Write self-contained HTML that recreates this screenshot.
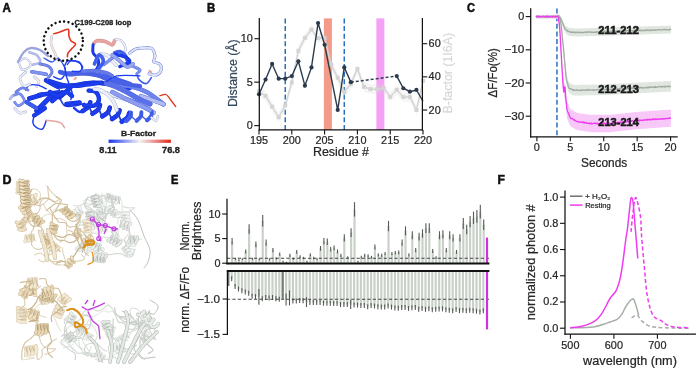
<!DOCTYPE html>
<html><head><meta charset="utf-8"><style>
html,body{margin:0;padding:0;background:#fff;}
body{width:700px;height:371px;overflow:hidden;}
svg{display:block;font-family:"Liberation Sans", sans-serif;will-change:transform;}
</style></head><body>
<svg width="700" height="371" viewBox="0 0 700 371">
<rect width="700" height="371" fill="#fff"/>
<path d="M19.6,60.9 C20.6,59.9 23.8,58.1 25.6,58.5 C27.4,58.9 30.1,61.7 30.5,63.3 C30.9,64.9 29.5,67.2 28.1,68.2 C26.7,69.2 23.4,70.0 22.0,69.4 C20.6,68.8 20.0,66.0 19.6,64.6 C19.2,63.2 18.6,61.9 19.6,60.9 Z" stroke="#a8aed0" stroke-width="2.16" fill="none" stroke-linecap="round" stroke-linejoin="round" />
<path d="M19.6,60.9 C20.6,59.9 23.8,58.1 25.6,58.5 C27.4,58.9 30.1,61.7 30.5,63.3 C30.9,64.9 29.5,67.2 28.1,68.2 C26.7,69.2 23.4,70.0 22.0,69.4 C20.6,68.8 20.0,66.0 19.6,64.6 C19.2,63.2 18.6,61.9 19.6,60.9 Z" stroke="#eceef6" stroke-width="1.36" fill="none" stroke-linecap="round" stroke-linejoin="round" />
<path d="M29.3,52.4 C30.5,52.8 34.8,53.3 36.6,54.9 C38.4,56.5 40.8,60.5 40.2,62.1 C39.6,63.7 34.1,64.2 32.9,64.6" stroke="#a8aed0" stroke-width="2.56" fill="none" stroke-linecap="round" stroke-linejoin="round" />
<path d="M29.3,52.4 C30.5,52.8 34.8,53.3 36.6,54.9 C38.4,56.5 40.8,60.5 40.2,62.1 C39.6,63.7 34.1,64.2 32.9,64.6" stroke="#b4bdf2" stroke-width="1.76" fill="none" stroke-linecap="round" stroke-linejoin="round" />
<path d="M31.7,71.8 C32.9,72.0 36.6,72.6 39.0,73.0 C41.4,73.4 45.1,74.1 46.3,74.3" stroke="#5a70d8" stroke-width="3.68" fill="none" stroke-linecap="round" stroke-linejoin="round" />
<path d="M31.7,71.8 C32.9,72.0 36.6,72.6 39.0,73.0 C41.4,73.4 45.1,74.1 46.3,74.3" stroke="#7f92ee" stroke-width="2.88" fill="none" stroke-linecap="round" stroke-linejoin="round" />
<path d="M34.1,76.7 C34.9,77.5 38.6,80.0 39.0,81.6 C39.4,83.2 37.0,85.6 36.6,86.4" stroke="#a8aed0" stroke-width="2.72" fill="none" stroke-linecap="round" stroke-linejoin="round" />
<path d="M34.1,76.7 C34.9,77.5 38.6,80.0 39.0,81.6 C39.4,83.2 37.0,85.6 36.6,86.4" stroke="#eceef6" stroke-width="1.92" fill="none" stroke-linecap="round" stroke-linejoin="round" />
<path d="M12.3,96.1 C13.5,95.7 17.6,92.9 19.6,93.7 C21.6,94.5 24.6,99.0 24.4,101.0 C24.2,103.0 19.9,105.6 18.3,105.8 C16.7,106.0 15.3,102.8 14.7,102.2" stroke="#5a70d8" stroke-width="2.72" fill="none" stroke-linecap="round" stroke-linejoin="round" />
<path d="M12.3,96.1 C13.5,95.7 17.6,92.9 19.6,93.7 C21.6,94.5 24.6,99.0 24.4,101.0 C24.2,103.0 19.9,105.6 18.3,105.8 C16.7,106.0 15.3,102.8 14.7,102.2" stroke="#7f92ee" stroke-width="1.92" fill="none" stroke-linecap="round" stroke-linejoin="round" />
<path d="M14.7,108.3 C15.5,109.1 17.8,112.5 19.6,113.1 C21.4,113.7 24.6,112.1 25.6,111.9" stroke="#a8aed0" stroke-width="2.72" fill="none" stroke-linecap="round" stroke-linejoin="round" />
<path d="M14.7,108.3 C15.5,109.1 17.8,112.5 19.6,113.1 C21.4,113.7 24.6,112.1 25.6,111.9" stroke="#eceef6" stroke-width="1.92" fill="none" stroke-linecap="round" stroke-linejoin="round" />
<path d="M10.0,99.0 C10.4,98.5 11.9,96.6 12.3,96.1" stroke="#a8aed0" stroke-width="2.72" fill="none" stroke-linecap="round" stroke-linejoin="round" />
<path d="M10.0,99.0 C10.4,98.5 11.9,96.6 12.3,96.1" stroke="#b4bdf2" stroke-width="1.92" fill="none" stroke-linecap="round" stroke-linejoin="round" />
<path d="M25.6,90.0 C26.2,89.2 27.3,86.0 29.3,85.2 C31.3,84.4 35.0,84.6 37.8,85.2 C40.6,85.8 44.9,88.2 46.3,88.8" stroke="#1c3cf0" stroke-width="1.36" fill="none" stroke-linecap="round" stroke-linejoin="round" />
<path d="M63.3,64.6 C63.7,65.8 66.1,69.4 65.7,71.8 C65.3,74.2 62.8,78.3 60.8,79.1 C58.8,79.9 54.7,77.1 53.5,76.7" stroke="#1c3cf0" stroke-width="1.36" fill="none" stroke-linecap="round" stroke-linejoin="round" />
<path d="M44.0,58.0 C45.3,58.7 49.7,62.0 52.0,62.0 C54.3,62.0 56.1,57.6 58.0,58.0 C59.9,58.4 62.4,63.5 63.3,64.6" stroke="#3f5ef0" stroke-width="1.36" fill="none" stroke-linecap="round" stroke-linejoin="round" />
<path d="M46.3,80.3 C48.1,81.3 55.4,85.4 57.2,86.4" stroke="#1430c0" stroke-width="4.86" fill="none" stroke-linecap="round" stroke-linejoin="round" />
<path d="M46.3,80.3 C48.1,81.3 55.4,85.4 57.2,86.4" stroke="#1c3cf0" stroke-width="4.16" fill="none" stroke-linecap="round" stroke-linejoin="round" />
<path d="M29.3,98.5 C31.3,97.9 39.4,95.5 41.4,94.9" stroke="#1430c0" stroke-width="4.70" fill="none" stroke-linecap="round" stroke-linejoin="round" />
<path d="M29.3,98.5 C31.3,97.9 39.4,95.5 41.4,94.9" stroke="#1c3cf0" stroke-width="4.00" fill="none" stroke-linecap="round" stroke-linejoin="round" />
<path d="M39.0,94.9 C42.2,94.5 55.2,92.9 58.4,92.5" stroke="#1430c0" stroke-width="4.54" fill="none" stroke-linecap="round" stroke-linejoin="round" />
<path d="M39.0,94.9 C42.2,94.5 55.2,92.9 58.4,92.5" stroke="#1c3cf0" stroke-width="3.84" fill="none" stroke-linecap="round" stroke-linejoin="round" />
<path d="M36.6,110.7 C39.4,107.9 50.7,96.5 53.5,93.7" stroke="#1430c0" stroke-width="4.86" fill="none" stroke-linecap="round" stroke-linejoin="round" />
<path d="M36.6,110.7 C39.4,107.9 50.7,96.5 53.5,93.7" stroke="#1c3cf0" stroke-width="4.16" fill="none" stroke-linecap="round" stroke-linejoin="round" />
<path d="M52.3,101.0 C53.9,99.6 60.4,93.9 62.0,92.5" stroke="#1430c0" stroke-width="4.54" fill="none" stroke-linecap="round" stroke-linejoin="round" />
<path d="M52.3,101.0 C53.9,99.6 60.4,93.9 62.0,92.5" stroke="#1c3cf0" stroke-width="3.84" fill="none" stroke-linecap="round" stroke-linejoin="round" />
<path d="M59.6,97.3 C61.4,95.7 68.7,89.2 70.5,87.6" stroke="#1430c0" stroke-width="4.54" fill="none" stroke-linecap="round" stroke-linejoin="round" />
<path d="M59.6,97.3 C61.4,95.7 68.7,89.2 70.5,87.6" stroke="#1c3cf0" stroke-width="3.84" fill="none" stroke-linecap="round" stroke-linejoin="round" />
<path d="M26.8,102.2 C28.4,103.2 35.0,107.3 36.6,108.3" stroke="#1430c0" stroke-width="4.22" fill="none" stroke-linecap="round" stroke-linejoin="round" />
<path d="M26.8,102.2 C28.4,103.2 35.0,107.3 36.6,108.3" stroke="#3f5ef0" stroke-width="3.52" fill="none" stroke-linecap="round" stroke-linejoin="round" />
<path d="M34.1,115.5 C35.9,114.3 43.2,109.5 45.0,108.3" stroke="#1430c0" stroke-width="4.22" fill="none" stroke-linecap="round" stroke-linejoin="round" />
<path d="M34.1,115.5 C35.9,114.3 43.2,109.5 45.0,108.3" stroke="#1c3cf0" stroke-width="3.52" fill="none" stroke-linecap="round" stroke-linejoin="round" />
<path d="M57.2,86.4 C57.7,87.3 60.2,90.1 60.0,92.0 C59.8,93.9 56.7,97.0 56.0,98.0" stroke="#1c3cf0" stroke-width="1.44" fill="none" stroke-linecap="round" stroke-linejoin="round" />
<path d="M34.1,115.5 C33.9,116.7 32.5,120.8 32.9,122.8 C33.3,124.8 35.0,126.7 36.6,127.7 C38.2,128.7 41.0,130.1 42.6,128.9 C44.2,127.7 45.7,121.8 46.3,120.4" stroke="#1c3cf0" stroke-width="1.44" fill="none" stroke-linecap="round" stroke-linejoin="round" />
<path d="M46.3,120.4 C47.4,120.5 50.6,120.6 53.0,121.0 C55.4,121.4 58.9,121.7 60.8,122.8 C62.7,123.9 63.9,126.9 64.5,127.7" stroke="#e8a4a0" stroke-width="1.44" fill="none" stroke-linecap="round" stroke-linejoin="round" />
<path d="M60.0,72.0 C61.6,72.4 65.7,74.1 69.7,74.3 C73.8,74.5 79.0,72.9 84.3,73.1 C89.6,73.3 96.0,74.5 101.3,75.5 C106.5,76.5 111.0,77.7 115.8,79.1 C120.6,80.5 127.6,83.2 130.0,84.0" stroke="#5a70d8" stroke-width="4.48" fill="none" stroke-linecap="round" stroke-linejoin="round" />
<path d="M60.0,72.0 C61.6,72.4 65.7,74.1 69.7,74.3 C73.8,74.5 79.0,72.9 84.3,73.1 C89.6,73.3 96.0,74.5 101.3,75.5 C106.5,76.5 111.0,77.7 115.8,79.1 C120.6,80.5 127.6,83.2 130.0,84.0" stroke="#3f5ef0" stroke-width="3.68" fill="none" stroke-linecap="round" stroke-linejoin="round" />
<path d="M60.0,86.4 C62.4,86.2 69.3,85.8 74.6,85.2 C79.9,84.6 85.9,83.0 91.6,82.8 C97.2,82.6 102.2,83.1 108.5,84.0 C114.8,84.9 126.1,87.3 129.6,88.0" stroke="#1430c0" stroke-width="4.64" fill="none" stroke-linecap="round" stroke-linejoin="round" />
<path d="M60.0,86.4 C62.4,86.2 69.3,85.8 74.6,85.2 C79.9,84.6 85.9,83.0 91.6,82.8 C97.2,82.6 102.2,83.1 108.5,84.0 C114.8,84.9 126.1,87.3 129.6,88.0" stroke="#1c3cf0" stroke-width="3.84" fill="none" stroke-linecap="round" stroke-linejoin="round" />
<path d="M115.0,84.8 C117.4,85.0 124.3,84.8 129.6,86.0 C134.9,87.2 140.9,89.0 146.6,92.0 C152.2,95.0 160.7,102.2 163.5,104.2" stroke="#5a70d8" stroke-width="4.80" fill="none" stroke-linecap="round" stroke-linejoin="round" />
<path d="M115.0,84.8 C117.4,85.0 124.3,84.8 129.6,86.0 C134.9,87.2 140.9,89.0 146.6,92.0 C152.2,95.0 160.7,102.2 163.5,104.2" stroke="#6f84ee" stroke-width="4.00" fill="none" stroke-linecap="round" stroke-linejoin="round" />
<path d="M141.0,96.0 C144.8,97.4 159.8,102.8 163.5,104.2" stroke="#5a70d8" stroke-width="4.16" fill="none" stroke-linecap="round" stroke-linejoin="round" />
<path d="M141.0,96.0 C144.8,97.4 159.8,102.8 163.5,104.2" stroke="#b4bdf2" stroke-width="3.36" fill="none" stroke-linecap="round" stroke-linejoin="round" />
<path d="M115.0,95.7 C117.0,96.3 122.6,97.7 127.1,99.3 C131.5,100.9 137.2,103.2 141.7,105.4 C146.1,107.6 151.8,111.5 153.8,112.7" stroke="#5a70d8" stroke-width="4.48" fill="none" stroke-linecap="round" stroke-linejoin="round" />
<path d="M115.0,95.7 C117.0,96.3 122.6,97.7 127.1,99.3 C131.5,100.9 137.2,103.2 141.7,105.4 C146.1,107.6 151.8,111.5 153.8,112.7" stroke="#3f5ef0" stroke-width="3.68" fill="none" stroke-linecap="round" stroke-linejoin="round" />
<path d="M140.0,104.5 C142.3,105.9 151.5,111.3 153.8,112.7" stroke="#a8aed0" stroke-width="4.00" fill="none" stroke-linecap="round" stroke-linejoin="round" />
<path d="M140.0,104.5 C142.3,105.9 151.5,111.3 153.8,112.7" stroke="#b4bdf2" stroke-width="3.20" fill="none" stroke-linecap="round" stroke-linejoin="round" />
<path d="M101.3,91.3 C103.7,92.1 111.0,94.5 115.8,96.1 C120.6,97.7 127.6,100.2 130.0,101.0" stroke="#a8aed0" stroke-width="3.68" fill="none" stroke-linecap="round" stroke-linejoin="round" />
<path d="M101.3,91.3 C103.7,92.1 111.0,94.5 115.8,96.1 C120.6,97.7 127.6,100.2 130.0,101.0" stroke="#eceef6" stroke-width="2.88" fill="none" stroke-linecap="round" stroke-linejoin="round" />
<path d="M67.3,64.6 C67.9,64.0 68.9,61.3 70.9,60.9 C72.9,60.5 77.6,60.7 79.4,62.1 C81.2,63.5 82.2,67.6 81.8,69.4 C81.4,71.2 77.8,72.5 77.0,73.1" stroke="#1c3cf0" stroke-width="1.36" fill="none" stroke-linecap="round" stroke-linejoin="round" />
<path d="M60.0,98.5 C60.8,99.7 62.5,104.6 64.9,105.8 C67.3,107.0 71.4,106.2 74.6,105.8 C77.8,105.4 82.7,103.8 84.3,103.4" stroke="#1c3cf0" stroke-width="1.60" fill="none" stroke-linecap="round" stroke-linejoin="round" />
<path d="M74.6,79.0 C74.8,78.8 75.8,78.2 76.0,78.0" stroke="#e8a4a0" stroke-width="1.92" fill="none" stroke-linecap="round" stroke-linejoin="round" />
<path d="M82.6,111.0 C83.6,110.4 86.9,108.6 88.2,107.1 C89.4,105.7 89.9,103.1 90.3,102.3" stroke="#1430c0" stroke-width="4.64" fill="none" stroke-linecap="round" stroke-linejoin="round" />
<path d="M82.6,111.0 C83.6,110.4 86.9,108.6 88.2,107.1 C89.4,105.7 89.9,103.1 90.3,102.3" stroke="#1c3cf0" stroke-width="3.84" fill="none" stroke-linecap="round" stroke-linejoin="round" />
<path d="M90.3,102.3 C90.2,103.2 89.3,105.6 89.6,107.5 C90.0,109.4 91.9,112.7 92.4,113.7" stroke="#2a40c8" stroke-width="1.73" fill="none" stroke-linecap="round" stroke-linejoin="round" />
<path d="M92.4,113.7 C93.3,113.0 96.7,111.3 97.9,109.8 C99.2,108.3 99.7,105.8 100.0,105.0" stroke="#1430c0" stroke-width="4.64" fill="none" stroke-linecap="round" stroke-linejoin="round" />
<path d="M92.4,113.7 C93.3,113.0 96.7,111.3 97.9,109.8 C99.2,108.3 99.7,105.8 100.0,105.0" stroke="#1c3cf0" stroke-width="3.84" fill="none" stroke-linecap="round" stroke-linejoin="round" />
<path d="M100.0,105.0 C99.9,105.9 99.0,108.3 99.4,110.2 C99.8,112.1 101.7,115.3 102.2,116.4" stroke="#2a40c8" stroke-width="1.73" fill="none" stroke-linecap="round" stroke-linejoin="round" />
<path d="M102.2,116.4 C103.1,115.7 106.4,113.9 107.7,112.5 C109.0,111.0 109.5,108.5 109.8,107.6" stroke="#1430c0" stroke-width="4.64" fill="none" stroke-linecap="round" stroke-linejoin="round" />
<path d="M102.2,116.4 C103.1,115.7 106.4,113.9 107.7,112.5 C109.0,111.0 109.5,108.5 109.8,107.6" stroke="#1c3cf0" stroke-width="3.84" fill="none" stroke-linecap="round" stroke-linejoin="round" />
<path d="M109.8,107.6 C109.7,108.5 108.8,111.0 109.2,112.9 C109.5,114.8 111.5,118.0 112.0,119.0" stroke="#2a40c8" stroke-width="1.73" fill="none" stroke-linecap="round" stroke-linejoin="round" />
<path d="M112.0,119.0 C112.9,118.4 116.2,116.6 117.5,115.1 C118.8,113.7 119.2,111.1 119.6,110.3" stroke="#1430c0" stroke-width="4.64" fill="none" stroke-linecap="round" stroke-linejoin="round" />
<path d="M112.0,119.0 C112.9,118.4 116.2,116.6 117.5,115.1 C118.8,113.7 119.2,111.1 119.6,110.3" stroke="#1c3cf0" stroke-width="3.84" fill="none" stroke-linecap="round" stroke-linejoin="round" />
<path d="M119.6,110.3 C119.5,111.2 118.6,113.6 119.0,115.5 C119.3,117.4 121.3,120.7 121.7,121.7" stroke="#2a40c8" stroke-width="1.73" fill="none" stroke-linecap="round" stroke-linejoin="round" />
<path d="M121.7,121.7 C122.7,121.0 126.0,119.3 127.3,117.8 C128.5,116.3 129.0,113.8 129.4,113.0" stroke="#1430c0" stroke-width="4.64" fill="none" stroke-linecap="round" stroke-linejoin="round" />
<path d="M121.7,121.7 C122.7,121.0 126.0,119.3 127.3,117.8 C128.5,116.3 129.0,113.8 129.4,113.0" stroke="#1c3cf0" stroke-width="3.84" fill="none" stroke-linecap="round" stroke-linejoin="round" />
<path d="M126.2,121.2 C126.9,120.5 129.6,118.3 130.4,116.8 C131.2,115.4 130.9,113.3 131.0,112.6" stroke="#5a70d8" stroke-width="4.00" fill="none" stroke-linecap="round" stroke-linejoin="round" />
<path d="M126.2,121.2 C126.9,120.5 129.6,118.3 130.4,116.8 C131.2,115.4 130.9,113.3 131.0,112.6" stroke="#3f5ef0" stroke-width="3.20" fill="none" stroke-linecap="round" stroke-linejoin="round" />
<path d="M131.0,112.6 C131.2,113.3 131.1,115.4 132.0,116.8 C132.9,118.1 135.8,120.1 136.6,120.8" stroke="#4058d0" stroke-width="1.44" fill="none" stroke-linecap="round" stroke-linejoin="round" />
<path d="M136.6,120.8 C137.3,120.1 140.0,117.9 140.8,116.4 C141.6,115.0 141.3,112.9 141.4,112.2" stroke="#5a70d8" stroke-width="4.00" fill="none" stroke-linecap="round" stroke-linejoin="round" />
<path d="M136.6,120.8 C137.3,120.1 140.0,117.9 140.8,116.4 C141.6,115.0 141.3,112.9 141.4,112.2" stroke="#3f5ef0" stroke-width="3.20" fill="none" stroke-linecap="round" stroke-linejoin="round" />
<path d="M141.4,112.2 C141.6,112.9 141.5,115.0 142.4,116.4 C143.3,117.7 146.2,119.7 147.0,120.4" stroke="#4058d0" stroke-width="1.44" fill="none" stroke-linecap="round" stroke-linejoin="round" />
<path d="M147.0,120.4 C147.7,119.7 150.4,117.5 151.2,116.0 C152.0,114.6 151.7,112.5 151.8,111.8" stroke="#5a70d8" stroke-width="4.00" fill="none" stroke-linecap="round" stroke-linejoin="round" />
<path d="M147.0,120.4 C147.7,119.7 150.4,117.5 151.2,116.0 C152.0,114.6 151.7,112.5 151.8,111.8" stroke="#3f5ef0" stroke-width="3.20" fill="none" stroke-linecap="round" stroke-linejoin="round" />
<path d="M151.4,117.5 C152.2,118.1 154.9,121.2 156.0,121.0 C157.1,120.8 157.7,116.8 158.0,116.0" stroke="#a8aed0" stroke-width="2.40" fill="none" stroke-linecap="round" stroke-linejoin="round" />
<path d="M151.4,117.5 C152.2,118.1 154.9,121.2 156.0,121.0 C157.1,120.8 157.7,116.8 158.0,116.0" stroke="#eceef6" stroke-width="1.60" fill="none" stroke-linecap="round" stroke-linejoin="round" />
<path d="M74.0,108.0 C75.0,108.7 77.7,112.0 80.0,112.0 C82.3,112.0 86.7,108.7 88.0,108.0" stroke="#1c3cf0" stroke-width="2.40" fill="none" stroke-linecap="round" stroke-linejoin="round" />
<path d="M93.8,43.5 C94.3,43.0 95.2,41.1 97.1,40.8 C99.0,40.5 102.7,40.8 105.2,41.5 C107.7,42.2 110.4,44.9 112.0,44.8 C113.6,44.7 114.2,41.5 114.6,40.8" stroke="#c89090" stroke-width="3.68" fill="none" stroke-linecap="round" stroke-linejoin="round" />
<path d="M93.8,43.5 C94.3,43.0 95.2,41.1 97.1,40.8 C99.0,40.5 102.7,40.8 105.2,41.5 C107.7,42.2 110.4,44.9 112.0,44.8 C113.6,44.7 114.2,41.5 114.6,40.8" stroke="#e8a4a0" stroke-width="2.88" fill="none" stroke-linecap="round" stroke-linejoin="round" />
<path d="M116.0,39.4 C116.9,39.6 119.8,39.4 121.4,40.8 C123.0,42.1 125.0,45.2 125.4,47.5 C125.9,49.8 124.3,53.2 124.1,54.3" stroke="#a8aed0" stroke-width="2.56" fill="none" stroke-linecap="round" stroke-linejoin="round" />
<path d="M116.0,39.4 C116.9,39.6 119.8,39.4 121.4,40.8 C123.0,42.1 125.0,45.2 125.4,47.5 C125.9,49.8 124.3,53.2 124.1,54.3" stroke="#eceef6" stroke-width="1.76" fill="none" stroke-linecap="round" stroke-linejoin="round" />
<path d="M93.1,44.8 C93.1,46.1 92.3,50.6 93.1,52.9 C93.9,55.1 96.9,56.3 97.8,58.3 C98.7,60.3 98.8,63.0 98.5,65.0 C98.2,67.0 96.2,69.5 95.8,70.4" stroke="#1430c0" stroke-width="2.88" fill="none" stroke-linecap="round" stroke-linejoin="round" />
<path d="M93.1,44.8 C93.1,46.1 92.3,50.6 93.1,52.9 C93.9,55.1 96.9,56.3 97.8,58.3 C98.7,60.3 98.8,63.0 98.5,65.0 C98.2,67.0 96.2,69.5 95.8,70.4" stroke="#1c3cf0" stroke-width="2.08" fill="none" stroke-linecap="round" stroke-linejoin="round" />
<path d="M99.8,54.3 C100.9,54.4 104.6,53.8 106.6,54.9 C108.6,56.0 110.4,59.3 112.0,61.0 C113.6,62.7 115.3,64.3 116.0,65.0" stroke="#a8aed0" stroke-width="3.52" fill="none" stroke-linecap="round" stroke-linejoin="round" />
<path d="M99.8,54.3 C100.9,54.4 104.6,53.8 106.6,54.9 C108.6,56.0 110.4,59.3 112.0,61.0 C113.6,62.7 115.3,64.3 116.0,65.0" stroke="#eceef6" stroke-width="2.72" fill="none" stroke-linecap="round" stroke-linejoin="round" />
<path d="M114.6,52.9 C115.5,52.7 118.2,51.1 120.0,51.6 C121.8,52.1 124.1,53.8 125.4,55.6 C126.8,57.4 127.0,60.7 128.1,62.3 C129.2,63.9 131.5,64.5 132.2,65.0" stroke="#5a70d8" stroke-width="3.68" fill="none" stroke-linecap="round" stroke-linejoin="round" />
<path d="M114.6,52.9 C115.5,52.7 118.2,51.1 120.0,51.6 C121.8,52.1 124.1,53.8 125.4,55.6 C126.8,57.4 127.0,60.7 128.1,62.3 C129.2,63.9 131.5,64.5 132.2,65.0" stroke="#3f5ef0" stroke-width="2.88" fill="none" stroke-linecap="round" stroke-linejoin="round" />
<path d="M115.0,54.4 C116.6,54.8 122.3,55.6 124.7,56.8 C127.1,58.0 130.4,60.1 129.6,61.7 C128.8,63.3 121.5,65.7 119.9,66.5" stroke="#1430c0" stroke-width="3.36" fill="none" stroke-linecap="round" stroke-linejoin="round" />
<path d="M115.0,54.4 C116.6,54.8 122.3,55.6 124.7,56.8 C127.1,58.0 130.4,60.1 129.6,61.7 C128.8,63.3 121.5,65.7 119.9,66.5" stroke="#1c3cf0" stroke-width="2.56" fill="none" stroke-linecap="round" stroke-linejoin="round" />
<path d="M103.7,64.6 C105.3,63.4 111.8,58.5 113.4,57.3" stroke="#5a70d8" stroke-width="3.20" fill="none" stroke-linecap="round" stroke-linejoin="round" />
<path d="M103.7,64.6 C105.3,63.4 111.8,58.5 113.4,57.3" stroke="#7f92ee" stroke-width="2.40" fill="none" stroke-linecap="round" stroke-linejoin="round" />
<path d="M129.6,53.2 C130.4,52.6 132.8,50.4 134.4,49.6 C136.0,48.8 136.5,48.5 139.3,48.3 C142.1,48.1 148.8,47.1 151.4,48.3 C154.0,49.5 154.6,53.4 155.0,55.6 C155.4,57.8 153.0,60.3 153.8,61.7 C154.6,63.1 158.7,62.7 159.9,64.1 C161.1,65.5 161.7,68.4 161.1,70.2 C160.5,72.0 158.3,74.4 156.3,75.0 C154.3,75.6 150.2,74.0 149.0,73.8" stroke="#5a70d8" stroke-width="2.88" fill="none" stroke-linecap="round" stroke-linejoin="round" />
<path d="M129.6,53.2 C130.4,52.6 132.8,50.4 134.4,49.6 C136.0,48.8 136.5,48.5 139.3,48.3 C142.1,48.1 148.8,47.1 151.4,48.3 C154.0,49.5 154.6,53.4 155.0,55.6 C155.4,57.8 153.0,60.3 153.8,61.7 C154.6,63.1 158.7,62.7 159.9,64.1 C161.1,65.5 161.7,68.4 161.1,70.2 C160.5,72.0 158.3,74.4 156.3,75.0 C154.3,75.6 150.2,74.0 149.0,73.8" stroke="#dfe3f6" stroke-width="2.08" fill="none" stroke-linecap="round" stroke-linejoin="round" />
<path d="M136.8,73.8 C137.2,74.8 137.7,78.3 139.3,79.9 C140.9,81.5 144.6,83.9 146.6,83.5 C148.6,83.1 150.6,78.5 151.4,77.5" stroke="#3f5ef0" stroke-width="1.60" fill="none" stroke-linecap="round" stroke-linejoin="round" />
<path d="M149.5,71.0 C149.8,71.2 150.8,71.8 151.0,72.0" stroke="#e8a4a0" stroke-width="2.24" fill="none" stroke-linecap="round" stroke-linejoin="round" />
<path d="M159.9,95.7 C160.9,95.5 164.3,94.0 166.0,94.5 C167.7,95.0 168.4,97.0 170.0,99.0 C171.6,101.0 174.8,105.3 175.7,106.6" stroke="#e5321e" stroke-width="1.28" fill="none" stroke-linecap="round" stroke-linejoin="round" />
<path d="M132.0,66.0 C133.3,66.7 139.2,68.7 140.0,70.0 C140.8,71.3 137.3,73.2 136.8,73.8" stroke="#5a70d8" stroke-width="2.88" fill="none" stroke-linecap="round" stroke-linejoin="round" />
<path d="M132.0,66.0 C133.3,66.7 139.2,68.7 140.0,70.0 C140.8,71.3 137.3,73.2 136.8,73.8" stroke="#7f92ee" stroke-width="2.08" fill="none" stroke-linecap="round" stroke-linejoin="round" />
<path d="M67.8,73.5 C71.0,73.5 81.9,73.1 87.1,73.5 C92.3,73.9 95.3,74.7 99.0,75.8 C102.7,76.9 105.0,78.8 109.3,80.2 C113.6,81.6 119.9,83.0 125.0,84.0 C130.1,85.0 137.5,85.8 140.0,86.2" stroke="#5a70d8" stroke-width="4.32" fill="none" stroke-linecap="round" stroke-linejoin="round" />
<path d="M67.8,73.5 C71.0,73.5 81.9,73.1 87.1,73.5 C92.3,73.9 95.3,74.7 99.0,75.8 C102.7,76.9 105.0,78.8 109.3,80.2 C113.6,81.6 119.9,83.0 125.0,84.0 C130.1,85.0 137.5,85.8 140.0,86.2" stroke="#4a60e6" stroke-width="3.52" fill="none" stroke-linecap="round" stroke-linejoin="round" />
<path d="M50.0,81.0 C52.0,81.6 57.9,83.8 61.9,84.7 C65.8,85.6 69.5,86.2 73.7,86.2 C77.9,86.2 82.4,85.3 87.1,84.7 C91.8,84.1 99.4,82.8 101.9,82.4" stroke="#1430c0" stroke-width="3.84" fill="none" stroke-linecap="round" stroke-linejoin="round" />
<path d="M50.0,81.0 C52.0,81.6 57.9,83.8 61.9,84.7 C65.8,85.6 69.5,86.2 73.7,86.2 C77.9,86.2 82.4,85.3 87.1,84.7 C91.8,84.1 99.4,82.8 101.9,82.4" stroke="#1c3cf0" stroke-width="3.04" fill="none" stroke-linecap="round" stroke-linejoin="round" />
<path d="M106.4,83.2 C108.9,84.2 115.6,86.4 121.2,89.1 C126.8,91.8 135.2,97.0 140.0,99.5 C144.8,102.0 148.3,103.2 150.0,104.0" stroke="#5a70d8" stroke-width="5.28" fill="none" stroke-linecap="round" stroke-linejoin="round" />
<path d="M106.4,83.2 C108.9,84.2 115.6,86.4 121.2,89.1 C126.8,91.8 135.2,97.0 140.0,99.5 C144.8,102.0 148.3,103.2 150.0,104.0" stroke="#5a70ea" stroke-width="4.48" fill="none" stroke-linecap="round" stroke-linejoin="round" />
<path d="M112.3,92.1 C114.8,93.3 122.6,97.3 127.2,99.5 C131.8,101.7 136.2,103.7 140.0,105.4 C143.8,107.2 148.3,109.2 150.0,110.0" stroke="#5a70d8" stroke-width="4.48" fill="none" stroke-linecap="round" stroke-linejoin="round" />
<path d="M112.3,92.1 C114.8,93.3 122.6,97.3 127.2,99.5 C131.8,101.7 136.2,103.7 140.0,105.4 C143.8,107.2 148.3,109.2 150.0,110.0" stroke="#8d9cf0" stroke-width="3.68" fill="none" stroke-linecap="round" stroke-linejoin="round" />
<path d="M64.8,65.4 C65.3,64.7 65.8,61.5 67.8,60.9 C69.8,60.3 74.2,60.7 76.7,61.7 C79.2,62.7 82.1,65.3 82.6,66.9 C83.1,68.5 81.4,70.6 79.7,71.3 C78.0,72.0 73.5,71.3 72.3,71.3" stroke="#1c3cf0" stroke-width="1.44" fill="none" stroke-linecap="round" stroke-linejoin="round" />
<path d="M64.8,66.9 C65.0,68.4 65.5,72.8 66.3,75.8 C67.0,78.8 68.3,81.7 69.3,84.7 C70.3,87.7 72.0,91.1 72.3,93.6 C72.5,96.1 71.0,98.5 70.8,99.5" stroke="#1c3cf0" stroke-width="1.44" fill="none" stroke-linecap="round" stroke-linejoin="round" />
<path d="M88.6,90.6 C89.8,90.8 94.3,90.6 96.0,92.1 C97.7,93.6 99.2,97.3 99.0,99.5 C98.8,101.7 97.0,104.4 94.5,105.4 C92.0,106.4 85.8,105.4 84.1,105.4" stroke="#1430c0" stroke-width="4.32" fill="none" stroke-linecap="round" stroke-linejoin="round" />
<path d="M88.6,90.6 C89.8,90.8 94.3,90.6 96.0,92.1 C97.7,93.6 99.2,97.3 99.0,99.5 C98.8,101.7 97.0,104.4 94.5,105.4 C92.0,106.4 85.8,105.4 84.1,105.4" stroke="#1c3cf0" stroke-width="3.52" fill="none" stroke-linecap="round" stroke-linejoin="round" />
<path d="M66.3,104.0 C68.5,103.8 77.5,102.8 79.7,102.5" stroke="#1430c0" stroke-width="4.32" fill="none" stroke-linecap="round" stroke-linejoin="round" />
<path d="M66.3,104.0 C68.5,103.8 77.5,102.8 79.7,102.5" stroke="#1c3cf0" stroke-width="3.52" fill="none" stroke-linecap="round" stroke-linejoin="round" />
<path d="M94.5,63.9 C95.2,62.4 97.5,55.5 99.0,55.0 C100.5,54.5 103.4,58.7 103.4,60.9 C103.4,63.1 99.7,67.2 99.0,68.4" stroke="#5a70d8" stroke-width="3.68" fill="none" stroke-linecap="round" stroke-linejoin="round" />
<path d="M94.5,63.9 C95.2,62.4 97.5,55.5 99.0,55.0 C100.5,54.5 103.4,58.7 103.4,60.9 C103.4,63.1 99.7,67.2 99.0,68.4" stroke="#3f5ef0" stroke-width="2.88" fill="none" stroke-linecap="round" stroke-linejoin="round" />
<path d="M112.3,55.0 C113.5,56.0 117.2,58.9 119.7,60.9 C122.2,62.9 125.0,66.4 127.2,66.9 C129.4,67.4 132.1,64.4 133.1,63.9" stroke="#5a70d8" stroke-width="3.84" fill="none" stroke-linecap="round" stroke-linejoin="round" />
<path d="M112.3,55.0 C113.5,56.0 117.2,58.9 119.7,60.9 C122.2,62.9 125.0,66.4 127.2,66.9 C129.4,67.4 132.1,64.4 133.1,63.9" stroke="#9aa8f0" stroke-width="3.04" fill="none" stroke-linecap="round" stroke-linejoin="round" />
<path d="M94.5,89.1 C95.7,89.3 98.9,88.9 101.9,90.6 C104.9,92.3 109.8,96.3 112.3,99.5 C114.8,102.7 116.0,108.2 116.8,109.9" stroke="#a8aed0" stroke-width="3.84" fill="none" stroke-linecap="round" stroke-linejoin="round" />
<path d="M94.5,89.1 C95.7,89.3 98.9,88.9 101.9,90.6 C104.9,92.3 109.8,96.3 112.3,99.5 C114.8,102.7 116.0,108.2 116.8,109.9" stroke="#eceef6" stroke-width="3.04" fill="none" stroke-linecap="round" stroke-linejoin="round" />
<path d="M106.4,81.7 C108.1,80.7 111.2,76.8 116.8,75.8 C122.4,74.8 136.1,75.8 140.0,75.8" stroke="#1c3cf0" stroke-width="1.28" fill="none" stroke-linecap="round" stroke-linejoin="round" />
<path d="M82.6,71.3 C84.6,71.2 90.5,70.3 94.5,70.6 C98.5,70.8 103.4,71.9 106.4,72.8 C109.4,73.7 111.3,75.3 112.3,75.8" stroke="#5a70d8" stroke-width="3.52" fill="none" stroke-linecap="round" stroke-linejoin="round" />
<path d="M82.6,71.3 C84.6,71.2 90.5,70.3 94.5,70.6 C98.5,70.8 103.4,71.9 106.4,72.8 C109.4,73.7 111.3,75.3 112.3,75.8" stroke="#6478ea" stroke-width="2.72" fill="none" stroke-linecap="round" stroke-linejoin="round" />
<path d="M50.0,92.0 C51.3,92.7 55.3,96.0 58.0,96.0 C60.7,96.0 63.7,92.0 66.0,92.0 C68.3,92.0 71.0,95.3 72.0,96.0" stroke="#1430c0" stroke-width="4.48" fill="none" stroke-linecap="round" stroke-linejoin="round" />
<path d="M50.0,92.0 C51.3,92.7 55.3,96.0 58.0,96.0 C60.7,96.0 63.7,92.0 66.0,92.0 C68.3,92.0 71.0,95.3 72.0,96.0" stroke="#1c3cf0" stroke-width="3.68" fill="none" stroke-linecap="round" stroke-linejoin="round" />
<path d="M18.0,62.0 C19.0,60.3 21.8,54.3 24.0,52.0 C26.2,49.7 28.3,48.3 31.0,48.0 C33.7,47.7 37.2,48.7 40.0,50.0 C42.8,51.3 46.7,55.0 48.0,56.0" stroke="#a8aed0" stroke-width="2.40" fill="none" stroke-linecap="round" stroke-linejoin="round" />
<path d="M18.0,62.0 C19.0,60.3 21.8,54.3 24.0,52.0 C26.2,49.7 28.3,48.3 31.0,48.0 C33.7,47.7 37.2,48.7 40.0,50.0 C42.8,51.3 46.7,55.0 48.0,56.0" stroke="#9aa4e8" stroke-width="1.60" fill="none" stroke-linecap="round" stroke-linejoin="round" />
<path d="M26.0,72.0 C25.0,73.0 20.3,75.7 20.0,78.0 C19.7,80.3 22.3,85.0 24.0,86.0 C25.7,87.0 29.0,84.3 30.0,84.0" stroke="#a8aed0" stroke-width="2.56" fill="none" stroke-linecap="round" stroke-linejoin="round" />
<path d="M26.0,72.0 C25.0,73.0 20.3,75.7 20.0,78.0 C19.7,80.3 22.3,85.0 24.0,86.0 C25.7,87.0 29.0,84.3 30.0,84.0" stroke="#eceef6" stroke-width="1.76" fill="none" stroke-linecap="round" stroke-linejoin="round" />
<path d="M40.0,64.0 C41.3,64.3 46.0,64.7 48.0,66.0 C50.0,67.3 52.0,70.0 52.0,72.0 C52.0,74.0 48.7,77.0 48.0,78.0" stroke="#5a70d8" stroke-width="2.88" fill="none" stroke-linecap="round" stroke-linejoin="round" />
<path d="M40.0,64.0 C41.3,64.3 46.0,64.7 48.0,66.0 C50.0,67.3 52.0,70.0 52.0,72.0 C52.0,74.0 48.7,77.0 48.0,78.0" stroke="#7688ea" stroke-width="2.08" fill="none" stroke-linecap="round" stroke-linejoin="round" />
<path d="M16.0,92.0 C17.0,91.3 20.0,88.3 22.0,88.0 C24.0,87.7 27.0,89.7 28.0,90.0" stroke="#5a70d8" stroke-width="2.72" fill="none" stroke-linecap="round" stroke-linejoin="round" />
<path d="M16.0,92.0 C17.0,91.3 20.0,88.3 22.0,88.0 C24.0,87.7 27.0,89.7 28.0,90.0" stroke="#7486e8" stroke-width="1.92" fill="none" stroke-linecap="round" stroke-linejoin="round" />
<circle cx="63.3" cy="41.1" r="19.6" fill="none" stroke="#111" stroke-width="2.5" stroke-dasharray="0.01,4.4" stroke-linecap="round"/>
<path d="M51.9,35.9 C51.8,37.3 50.6,41.2 51.1,44.1 C51.6,47.0 53.9,50.8 54.8,53.0 C55.7,55.2 56.0,56.7 56.3,57.4" stroke="#b8b0b8" stroke-width="2.50" fill="none" stroke-linecap="round" stroke-linejoin="round" />
<path d="M51.9,35.9 C51.8,37.3 50.6,41.2 51.1,44.1 C51.6,47.0 53.9,50.8 54.8,53.0 C55.7,55.2 56.0,56.7 56.3,57.4" stroke="#f0e4e4" stroke-width="1.90" fill="none" stroke-linecap="round" stroke-linejoin="round" />
<path d="M53.8,33.7 C54.7,33.5 56.9,32.9 59.3,32.2 C61.7,31.5 66.5,28.7 68.1,29.3 C69.7,29.9 68.4,33.9 68.9,35.9 C69.4,37.9 70.0,39.7 71.1,41.1 C72.2,42.5 75.5,42.9 75.6,44.1 C75.7,45.3 73.2,47.0 71.9,48.5 C70.7,50.0 68.8,51.6 68.1,53.0 C67.3,54.4 67.5,56.1 67.4,56.7" stroke="#e5321e" stroke-width="1.60" fill="none" stroke-linecap="round" stroke-linejoin="round" />
<text x="74.60" y="24.80" font-size="7.30" text-anchor="start" font-weight="bold" fill="#222" stroke="#222" stroke-width="0.3" textLength="56.80" lengthAdjust="spacingAndGlyphs" >C199-C208 loop</text>
<defs><linearGradient id="bfg" x1="0" x2="1"><stop offset="0" stop-color="#1a34ea"/><stop offset="0.5" stop-color="#f2f2f6"/><stop offset="1" stop-color="#e2281a"/></linearGradient></defs>
<rect x="108.60" y="139.60" width="62.30" height="3.30" fill="url(#bfg)" />
<text x="121.00" y="136.20" font-size="7.60" text-anchor="start" font-weight="bold" fill="#222" stroke="#222" stroke-width="0.3" textLength="35.00" lengthAdjust="spacingAndGlyphs" >B-Factor</text>
<text x="99.30" y="152.90" font-size="8.90" text-anchor="start" font-weight="bold" fill="#222" stroke="#222" stroke-width="0.3" textLength="17.30" lengthAdjust="spacingAndGlyphs" >8.11</text>
<text x="162.00" y="152.90" font-size="8.90" text-anchor="start" font-weight="bold" fill="#222" stroke="#222" stroke-width="0.3" textLength="18.00" lengthAdjust="spacingAndGlyphs" >76.8</text>
<path d="M104.6,232.3 C104.6,231.3 104.7,228.3 104.7,226.3 C104.8,224.3 104.7,222.3 105.1,220.3 C105.4,218.4 105.8,216.2 106.9,214.6 C108.0,213.0 110.7,212.5 111.6,210.9 C112.5,209.3 112.3,206.8 112.1,204.9 C111.9,202.9 111.5,200.6 110.3,199.2 C109.1,197.8 105.8,197.0 104.9,196.6" stroke="#c8cdc8" stroke-width="1.12" fill="none" stroke-linecap="round" stroke-linejoin="round" />
<path d="M141.5,239.1 C140.5,239.2 137.2,239.0 135.5,239.7 C133.8,240.5 132.1,242.1 131.0,243.7 C129.9,245.3 128.8,247.6 129.1,249.4 C129.3,251.2 132.9,253.3 132.5,254.3 C132.1,255.3 127.6,255.2 126.6,255.3" stroke="#dbdfdb" stroke-width="1.21" fill="none" stroke-linecap="round" stroke-linejoin="round" />
<path d="M107.9,240.5 C108.4,240.2 109.9,239.5 110.6,238.8 C111.3,238.2 112.0,236.9 112.2,236.5" stroke="#b4bab4" stroke-width="3.44" fill="none" stroke-linecap="round" stroke-linejoin="round" />
<path d="M107.9,240.5 C108.4,240.2 109.9,239.5 110.6,238.8 C111.3,238.2 112.0,236.9 112.2,236.5" stroke="#e6eae6" stroke-width="2.64" fill="none" stroke-linecap="round" stroke-linejoin="round" />
<path d="M112.2,236.5 C112.0,237.0 111.3,238.1 111.0,239.1 C110.8,240.0 110.8,241.7 110.8,242.2" stroke="#b4bab4" stroke-width="1.19" fill="none" stroke-linecap="round" stroke-linejoin="round" />
<path d="M110.8,242.2 C111.2,241.9 112.7,241.2 113.4,240.5 C114.2,239.8 114.8,238.6 115.1,238.2" stroke="#b4bab4" stroke-width="3.44" fill="none" stroke-linecap="round" stroke-linejoin="round" />
<path d="M110.8,242.2 C111.2,241.9 112.7,241.2 113.4,240.5 C114.2,239.8 114.8,238.6 115.1,238.2" stroke="#e6eae6" stroke-width="2.64" fill="none" stroke-linecap="round" stroke-linejoin="round" />
<path d="M115.1,238.2 C114.9,238.6 114.1,239.8 113.9,240.8 C113.6,241.7 113.7,243.4 113.6,243.9" stroke="#b4bab4" stroke-width="1.19" fill="none" stroke-linecap="round" stroke-linejoin="round" />
<path d="M113.6,243.9 C114.1,243.6 115.6,242.9 116.3,242.2 C117.0,241.5 117.7,240.3 117.9,239.9" stroke="#b4bab4" stroke-width="3.44" fill="none" stroke-linecap="round" stroke-linejoin="round" />
<path d="M113.6,243.9 C114.1,243.6 115.6,242.9 116.3,242.2 C117.0,241.5 117.7,240.3 117.9,239.9" stroke="#e6eae6" stroke-width="2.64" fill="none" stroke-linecap="round" stroke-linejoin="round" />
<path d="M117.9,239.9 C117.7,240.3 117.0,241.5 116.7,242.4 C116.5,243.4 116.5,245.0 116.5,245.6" stroke="#b4bab4" stroke-width="1.19" fill="none" stroke-linecap="round" stroke-linejoin="round" />
<path d="M116.5,245.6 C116.9,245.3 118.4,244.5 119.1,243.9 C119.8,243.2 120.5,242.0 120.8,241.6" stroke="#b4bab4" stroke-width="3.44" fill="none" stroke-linecap="round" stroke-linejoin="round" />
<path d="M116.5,245.6 C116.9,245.3 118.4,244.5 119.1,243.9 C119.8,243.2 120.5,242.0 120.8,241.6" stroke="#e6eae6" stroke-width="2.64" fill="none" stroke-linecap="round" stroke-linejoin="round" />
<path d="M89.1,249.1 C89.5,248.8 91.0,247.9 91.6,247.2 C92.3,246.5 92.8,245.2 93.1,244.8" stroke="#cbd0cb" stroke-width="3.68" fill="none" stroke-linecap="round" stroke-linejoin="round" />
<path d="M89.1,249.1 C89.5,248.8 91.0,247.9 91.6,247.2 C92.3,246.5 92.8,245.2 93.1,244.8" stroke="#f4f6f4" stroke-width="2.88" fill="none" stroke-linecap="round" stroke-linejoin="round" />
<path d="M93.1,244.8 C92.9,245.2 92.3,246.5 92.1,247.4 C92.0,248.4 92.3,250.1 92.3,250.6" stroke="#cbd0cb" stroke-width="1.29" fill="none" stroke-linecap="round" stroke-linejoin="round" />
<path d="M92.3,250.6 C92.7,250.3 94.2,249.4 94.8,248.7 C95.5,248.0 96.0,246.7 96.3,246.3" stroke="#cbd0cb" stroke-width="3.68" fill="none" stroke-linecap="round" stroke-linejoin="round" />
<path d="M92.3,250.6 C92.7,250.3 94.2,249.4 94.8,248.7 C95.5,248.0 96.0,246.7 96.3,246.3" stroke="#f4f6f4" stroke-width="2.88" fill="none" stroke-linecap="round" stroke-linejoin="round" />
<path d="M96.3,246.3 C96.1,246.7 95.5,248.0 95.3,249.0 C95.2,249.9 95.5,251.6 95.5,252.1" stroke="#cbd0cb" stroke-width="1.29" fill="none" stroke-linecap="round" stroke-linejoin="round" />
<path d="M95.5,252.1 C95.9,251.8 97.4,251.0 98.0,250.2 C98.7,249.5 99.2,248.2 99.5,247.8" stroke="#cbd0cb" stroke-width="3.68" fill="none" stroke-linecap="round" stroke-linejoin="round" />
<path d="M95.5,252.1 C95.9,251.8 97.4,251.0 98.0,250.2 C98.7,249.5 99.2,248.2 99.5,247.8" stroke="#f4f6f4" stroke-width="2.88" fill="none" stroke-linecap="round" stroke-linejoin="round" />
<path d="M99.5,247.8 C99.3,248.3 98.6,249.5 98.5,250.5 C98.4,251.4 98.6,253.1 98.7,253.6" stroke="#cbd0cb" stroke-width="1.29" fill="none" stroke-linecap="round" stroke-linejoin="round" />
<path d="M98.7,253.6 C99.1,253.3 100.6,252.5 101.2,251.7 C101.9,251.0 102.4,249.7 102.7,249.3" stroke="#cbd0cb" stroke-width="3.68" fill="none" stroke-linecap="round" stroke-linejoin="round" />
<path d="M98.7,253.6 C99.1,253.3 100.6,252.5 101.2,251.7 C101.9,251.0 102.4,249.7 102.7,249.3" stroke="#f4f6f4" stroke-width="2.88" fill="none" stroke-linecap="round" stroke-linejoin="round" />
<path d="M99.8,261.0 C100.2,260.1 102.0,257.4 102.2,255.5 C102.4,253.6 101.1,251.6 101.1,249.6 C101.1,247.6 102.0,245.6 102.0,243.7 C102.0,241.7 101.7,239.6 101.0,237.7 C100.4,235.9 99.4,233.5 97.9,232.6 C96.4,231.7 93.9,232.2 91.9,232.3 C89.9,232.4 87.7,233.6 86.0,233.0 C84.2,232.5 83.2,229.7 81.5,229.1 C79.7,228.4 76.5,229.1 75.5,229.1" stroke="#dbdfdb" stroke-width="0.71" fill="none" stroke-linecap="round" stroke-linejoin="round" />
<path d="M105.5,227.1 C104.7,226.5 101.8,225.0 100.7,223.5 C99.5,221.9 99.3,219.7 98.4,217.9 C97.5,216.1 96.5,214.4 95.2,212.8 C94.0,211.3 92.5,209.8 91.0,208.6 C89.4,207.3 86.8,206.9 85.9,205.3 C85.1,203.8 84.9,200.0 85.8,199.3 C86.8,198.6 90.6,201.0 91.5,201.3" stroke="#dbdfdb" stroke-width="1.28" fill="none" stroke-linecap="round" stroke-linejoin="round" />
<path d="M73.4,205.5 C74.4,205.5 77.5,206.2 79.4,205.8 C81.3,205.5 83.0,203.6 84.9,203.3 C86.8,203.0 88.9,204.2 90.8,204.1 C92.8,204.0 94.9,203.5 96.7,202.7 C98.5,201.9 100.6,200.8 101.5,199.2 C102.4,197.6 102.0,194.2 102.0,193.2" stroke="#dbdfdb" stroke-width="1.05" fill="none" stroke-linecap="round" stroke-linejoin="round" />
<path d="M89.5,235.3 C89.6,236.3 89.3,239.6 90.1,241.3 C91.0,242.9 93.0,244.1 94.6,245.3 C96.2,246.4 98.2,247.0 99.8,248.2 C101.4,249.4 102.5,251.3 104.2,252.3 C105.8,253.4 107.8,254.4 109.7,254.6 C111.6,254.8 113.7,253.7 115.7,253.6 C117.6,253.5 119.8,253.5 121.6,254.0 C123.5,254.6 125.0,256.6 126.9,256.9 C128.7,257.3 131.5,257.1 132.8,255.9 C134.0,254.8 134.0,251.1 134.3,250.1" stroke="#c8cdc8" stroke-width="0.93" fill="none" stroke-linecap="round" stroke-linejoin="round" />
<path d="M106.1,200.2 C106.4,199.8 107.7,198.8 108.2,198.0 C108.6,197.2 108.9,195.9 109.0,195.5" stroke="#bec4be" stroke-width="3.56" fill="none" stroke-linecap="round" stroke-linejoin="round" />
<path d="M106.1,200.2 C106.4,199.8 107.7,198.8 108.2,198.0 C108.6,197.2 108.9,195.9 109.0,195.5" stroke="#eef1ee" stroke-width="2.76" fill="none" stroke-linecap="round" stroke-linejoin="round" />
<path d="M109.0,195.5 C109.0,195.9 108.6,197.2 108.7,198.1 C108.7,199.0 109.3,200.6 109.4,201.0" stroke="#bec4be" stroke-width="1.24" fill="none" stroke-linecap="round" stroke-linejoin="round" />
<path d="M109.4,201.0 C109.8,200.7 111.0,199.6 111.5,198.8 C112.0,198.0 112.2,196.7 112.4,196.3" stroke="#bec4be" stroke-width="3.56" fill="none" stroke-linecap="round" stroke-linejoin="round" />
<path d="M109.4,201.0 C109.8,200.7 111.0,199.6 111.5,198.8 C112.0,198.0 112.2,196.7 112.4,196.3" stroke="#eef1ee" stroke-width="2.76" fill="none" stroke-linecap="round" stroke-linejoin="round" />
<path d="M112.4,196.3 C112.3,196.8 111.9,198.0 112.0,199.0 C112.1,199.9 112.6,201.4 112.8,201.9" stroke="#bec4be" stroke-width="1.24" fill="none" stroke-linecap="round" stroke-linejoin="round" />
<path d="M112.8,201.9 C113.1,201.5 114.3,200.4 114.8,199.7 C115.3,198.9 115.6,197.6 115.7,197.2" stroke="#bec4be" stroke-width="3.56" fill="none" stroke-linecap="round" stroke-linejoin="round" />
<path d="M112.8,201.9 C113.1,201.5 114.3,200.4 114.8,199.7 C115.3,198.9 115.6,197.6 115.7,197.2" stroke="#eef1ee" stroke-width="2.76" fill="none" stroke-linecap="round" stroke-linejoin="round" />
<path d="M115.7,197.2 C115.6,197.6 115.3,198.9 115.3,199.8 C115.4,200.7 116.0,202.2 116.1,202.7" stroke="#bec4be" stroke-width="1.24" fill="none" stroke-linecap="round" stroke-linejoin="round" />
<path d="M116.1,202.7 C116.4,202.3 117.7,201.3 118.2,200.5 C118.6,199.7 118.9,198.4 119.0,198.0" stroke="#bec4be" stroke-width="3.56" fill="none" stroke-linecap="round" stroke-linejoin="round" />
<path d="M116.1,202.7 C116.4,202.3 117.7,201.3 118.2,200.5 C118.6,199.7 118.9,198.4 119.0,198.0" stroke="#eef1ee" stroke-width="2.76" fill="none" stroke-linecap="round" stroke-linejoin="round" />
<path d="M119.0,198.0 C119.0,198.4 118.6,199.7 118.7,200.6 C118.7,201.5 119.3,203.0 119.4,203.5" stroke="#bec4be" stroke-width="1.24" fill="none" stroke-linecap="round" stroke-linejoin="round" />
<path d="M90.5,251.3 C89.7,251.9 86.2,255.2 85.6,254.8 C85.1,254.4 86.5,250.9 87.2,249.0 C88.0,247.2 90.0,245.6 90.1,243.8 C90.3,242.0 89.2,239.7 88.1,238.1 C87.0,236.6 84.1,235.1 83.3,234.5" stroke="#dbdfdb" stroke-width="1.25" fill="none" stroke-linecap="round" stroke-linejoin="round" />
<path d="M99.8,208.2 C99.9,208.7 100.2,210.3 100.6,211.1 C101.0,211.9 102.0,212.7 102.2,213.0" stroke="#bec4be" stroke-width="3.29" fill="none" stroke-linecap="round" stroke-linejoin="round" />
<path d="M99.8,208.2 C99.9,208.7 100.2,210.3 100.6,211.1 C101.0,211.9 102.0,212.7 102.2,213.0" stroke="#eef1ee" stroke-width="2.49" fill="none" stroke-linecap="round" stroke-linejoin="round" />
<path d="M102.2,213.0 C101.9,212.7 101.0,211.8 100.2,211.5 C99.4,211.1 97.8,211.0 97.3,210.9" stroke="#bec4be" stroke-width="1.12" fill="none" stroke-linecap="round" stroke-linejoin="round" />
<path d="M97.3,210.9 C97.4,211.4 97.7,213.0 98.1,213.8 C98.5,214.6 99.5,215.4 99.7,215.7" stroke="#bec4be" stroke-width="3.29" fill="none" stroke-linecap="round" stroke-linejoin="round" />
<path d="M97.3,210.9 C97.4,211.4 97.7,213.0 98.1,213.8 C98.5,214.6 99.5,215.4 99.7,215.7" stroke="#eef1ee" stroke-width="2.49" fill="none" stroke-linecap="round" stroke-linejoin="round" />
<path d="M99.7,215.7 C99.4,215.4 98.5,214.5 97.7,214.2 C96.9,213.8 95.3,213.7 94.8,213.6" stroke="#bec4be" stroke-width="1.12" fill="none" stroke-linecap="round" stroke-linejoin="round" />
<path d="M94.8,213.6 C94.9,214.1 95.2,215.7 95.6,216.5 C96.0,217.3 97.0,218.1 97.3,218.4" stroke="#bec4be" stroke-width="3.29" fill="none" stroke-linecap="round" stroke-linejoin="round" />
<path d="M94.8,213.6 C94.9,214.1 95.2,215.7 95.6,216.5 C96.0,217.3 97.0,218.1 97.3,218.4" stroke="#eef1ee" stroke-width="2.49" fill="none" stroke-linecap="round" stroke-linejoin="round" />
<path d="M97.3,218.4 C96.9,218.1 96.0,217.2 95.2,216.9 C94.4,216.5 92.8,216.4 92.3,216.3" stroke="#bec4be" stroke-width="1.12" fill="none" stroke-linecap="round" stroke-linejoin="round" />
<path d="M119.3,241.8 C118.4,241.3 115.9,239.5 114.1,238.8 C112.2,238.1 110.2,237.5 108.2,237.5 C106.3,237.4 103.8,237.3 102.3,238.3 C100.8,239.4 100.6,242.0 99.5,243.6 C98.4,245.3 96.3,247.5 95.7,248.3" stroke="#dbdfdb" stroke-width="0.74" fill="none" stroke-linecap="round" stroke-linejoin="round" />
<path d="M76.8,214.4 C77.4,215.2 79.9,217.5 80.3,219.3 C80.8,221.1 80.1,223.4 79.3,225.2 C78.5,227.0 75.6,229.9 75.7,229.9 C75.7,230.0 77.9,226.2 79.5,225.4 C81.2,224.6 83.6,225.5 85.5,225.1 C87.5,224.8 89.3,223.5 91.2,223.2 C93.1,222.9 95.5,222.6 97.2,223.4 C98.9,224.2 100.6,226.1 101.2,227.8 C101.9,229.6 101.2,232.8 101.2,233.8" stroke="#d1d6d1" stroke-width="0.95" fill="none" stroke-linecap="round" stroke-linejoin="round" />
<path d="M131.0,252.9 C130.5,252.9 129.0,252.8 128.2,253.0 C127.4,253.2 126.4,253.9 126.0,254.1" stroke="#cbd0cb" stroke-width="3.06" fill="none" stroke-linecap="round" stroke-linejoin="round" />
<path d="M131.0,252.9 C130.5,252.9 129.0,252.8 128.2,253.0 C127.4,253.2 126.4,253.9 126.0,254.1" stroke="#f4f6f4" stroke-width="2.26" fill="none" stroke-linecap="round" stroke-linejoin="round" />
<path d="M126.0,254.1 C126.3,253.8 127.4,253.2 127.9,252.6 C128.5,251.9 129.1,250.6 129.3,250.2" stroke="#cbd0cb" stroke-width="1.02" fill="none" stroke-linecap="round" stroke-linejoin="round" />
<path d="M129.3,250.2 C128.8,250.2 127.3,250.1 126.5,250.3 C125.7,250.5 124.7,251.1 124.3,251.3" stroke="#cbd0cb" stroke-width="3.06" fill="none" stroke-linecap="round" stroke-linejoin="round" />
<path d="M129.3,250.2 C128.8,250.2 127.3,250.1 126.5,250.3 C125.7,250.5 124.7,251.1 124.3,251.3" stroke="#f4f6f4" stroke-width="2.26" fill="none" stroke-linecap="round" stroke-linejoin="round" />
<path d="M124.3,251.3 C124.7,251.1 125.7,250.5 126.3,249.9 C126.8,249.2 127.4,247.8 127.6,247.4" stroke="#cbd0cb" stroke-width="1.02" fill="none" stroke-linecap="round" stroke-linejoin="round" />
<path d="M127.6,247.4 C127.1,247.4 125.7,247.3 124.8,247.5 C124.0,247.7 123.0,248.4 122.6,248.6" stroke="#cbd0cb" stroke-width="3.06" fill="none" stroke-linecap="round" stroke-linejoin="round" />
<path d="M127.6,247.4 C127.1,247.4 125.7,247.3 124.8,247.5 C124.0,247.7 123.0,248.4 122.6,248.6" stroke="#f4f6f4" stroke-width="2.26" fill="none" stroke-linecap="round" stroke-linejoin="round" />
<path d="M122.6,248.6 C123.0,248.3 124.0,247.8 124.6,247.1 C125.1,246.5 125.7,245.1 125.9,244.7" stroke="#cbd0cb" stroke-width="1.02" fill="none" stroke-linecap="round" stroke-linejoin="round" />
<path d="M93.3,221.7 C92.9,221.5 91.3,220.6 90.4,220.4 C89.4,220.2 88.0,220.4 87.5,220.4" stroke="#b4bab4" stroke-width="3.67" fill="none" stroke-linecap="round" stroke-linejoin="round" />
<path d="M93.3,221.7 C92.9,221.5 91.3,220.6 90.4,220.4 C89.4,220.2 88.0,220.4 87.5,220.4" stroke="#e6eae6" stroke-width="2.87" fill="none" stroke-linecap="round" stroke-linejoin="round" />
<path d="M87.5,220.4 C88.0,220.3 89.4,220.3 90.3,219.9 C91.2,219.5 92.6,218.3 93.0,218.0" stroke="#b4bab4" stroke-width="1.29" fill="none" stroke-linecap="round" stroke-linejoin="round" />
<path d="M93.0,218.0 C92.5,217.8 91.0,217.0 90.0,216.7 C89.1,216.5 87.6,216.7 87.2,216.7" stroke="#b4bab4" stroke-width="3.67" fill="none" stroke-linecap="round" stroke-linejoin="round" />
<path d="M93.0,218.0 C92.5,217.8 91.0,217.0 90.0,216.7 C89.1,216.5 87.6,216.7 87.2,216.7" stroke="#e6eae6" stroke-width="2.87" fill="none" stroke-linecap="round" stroke-linejoin="round" />
<path d="M87.2,216.7 C87.6,216.6 89.1,216.6 90.0,216.2 C90.9,215.8 92.2,214.7 92.7,214.4" stroke="#b4bab4" stroke-width="1.29" fill="none" stroke-linecap="round" stroke-linejoin="round" />
<path d="M92.7,214.4 C92.2,214.1 90.7,213.3 89.7,213.1 C88.7,212.8 87.3,213.1 86.8,213.1" stroke="#b4bab4" stroke-width="3.67" fill="none" stroke-linecap="round" stroke-linejoin="round" />
<path d="M92.7,214.4 C92.2,214.1 90.7,213.3 89.7,213.1 C88.7,212.8 87.3,213.1 86.8,213.1" stroke="#e6eae6" stroke-width="2.87" fill="none" stroke-linecap="round" stroke-linejoin="round" />
<path d="M86.8,213.1 C87.3,213.0 88.7,212.9 89.6,212.5 C90.5,212.1 91.9,211.0 92.3,210.7" stroke="#b4bab4" stroke-width="1.29" fill="none" stroke-linecap="round" stroke-linejoin="round" />
<path d="M76.3,248.9 C76.8,248.5 78.5,247.6 79.3,246.8 C80.2,246.0 81.0,244.5 81.3,244.1" stroke="#bec4be" stroke-width="3.09" fill="none" stroke-linecap="round" stroke-linejoin="round" />
<path d="M76.3,248.9 C76.8,248.5 78.5,247.6 79.3,246.8 C80.2,246.0 81.0,244.5 81.3,244.1" stroke="#eef1ee" stroke-width="2.29" fill="none" stroke-linecap="round" stroke-linejoin="round" />
<path d="M81.3,244.1 C81.1,244.6 80.1,246.0 79.8,247.1 C79.5,248.2 79.4,250.1 79.3,250.7" stroke="#bec4be" stroke-width="1.03" fill="none" stroke-linecap="round" stroke-linejoin="round" />
<path d="M79.3,250.7 C79.8,250.4 81.5,249.5 82.4,248.7 C83.2,247.9 84.0,246.4 84.4,246.0" stroke="#bec4be" stroke-width="3.09" fill="none" stroke-linecap="round" stroke-linejoin="round" />
<path d="M79.3,250.7 C79.8,250.4 81.5,249.5 82.4,248.7 C83.2,247.9 84.0,246.4 84.4,246.0" stroke="#eef1ee" stroke-width="2.29" fill="none" stroke-linecap="round" stroke-linejoin="round" />
<path d="M84.4,246.0 C84.1,246.5 83.2,247.9 82.8,249.0 C82.5,250.1 82.4,252.0 82.4,252.6" stroke="#bec4be" stroke-width="1.03" fill="none" stroke-linecap="round" stroke-linejoin="round" />
<path d="M127.9,242.6 C128.2,242.1 129.3,240.6 129.7,239.6 C130.1,238.6 130.1,237.1 130.2,236.6" stroke="#b4bab4" stroke-width="3.16" fill="none" stroke-linecap="round" stroke-linejoin="round" />
<path d="M127.9,242.6 C128.2,242.1 129.3,240.6 129.7,239.6 C130.1,238.6 130.1,237.1 130.2,236.6" stroke="#e6eae6" stroke-width="2.36" fill="none" stroke-linecap="round" stroke-linejoin="round" />
<path d="M130.2,236.6 C130.2,237.1 130.0,238.6 130.2,239.7 C130.5,240.7 131.4,242.3 131.6,242.9" stroke="#b4bab4" stroke-width="1.06" fill="none" stroke-linecap="round" stroke-linejoin="round" />
<path d="M131.6,242.9 C131.9,242.4 133.0,240.9 133.3,239.9 C133.7,238.9 133.7,237.4 133.8,236.8" stroke="#b4bab4" stroke-width="3.16" fill="none" stroke-linecap="round" stroke-linejoin="round" />
<path d="M131.6,242.9 C131.9,242.4 133.0,240.9 133.3,239.9 C133.7,238.9 133.7,237.4 133.8,236.8" stroke="#e6eae6" stroke-width="2.36" fill="none" stroke-linecap="round" stroke-linejoin="round" />
<path d="M133.8,236.8 C133.8,237.4 133.6,238.9 133.9,239.9 C134.1,241.0 135.0,242.6 135.2,243.1" stroke="#b4bab4" stroke-width="1.06" fill="none" stroke-linecap="round" stroke-linejoin="round" />
<path d="M135.2,243.1 C135.5,242.6 136.6,241.2 137.0,240.2 C137.3,239.2 137.4,237.6 137.5,237.1" stroke="#b4bab4" stroke-width="3.16" fill="none" stroke-linecap="round" stroke-linejoin="round" />
<path d="M135.2,243.1 C135.5,242.6 136.6,241.2 137.0,240.2 C137.3,239.2 137.4,237.6 137.5,237.1" stroke="#e6eae6" stroke-width="2.36" fill="none" stroke-linecap="round" stroke-linejoin="round" />
<path d="M84.2,257.2 C84.8,256.4 87.0,254.1 87.6,252.3 C88.2,250.4 87.8,248.3 87.6,246.3 C87.5,244.3 86.5,242.2 86.8,240.3 C87.1,238.4 88.1,236.1 89.5,235.0 C91.0,233.8 93.5,233.2 95.3,233.4 C97.2,233.6 98.8,235.5 100.6,236.2 C102.5,237.0 105.4,237.5 106.4,237.8" stroke="#dbdfdb" stroke-width="1.05" fill="none" stroke-linecap="round" stroke-linejoin="round" />
<path d="M96.3,203.8 C96.2,203.3 96.3,201.7 96.0,200.9 C95.8,200.0 94.9,199.1 94.7,198.7" stroke="#b4bab4" stroke-width="3.78" fill="none" stroke-linecap="round" stroke-linejoin="round" />
<path d="M96.3,203.8 C96.2,203.3 96.3,201.7 96.0,200.9 C95.8,200.0 94.9,199.1 94.7,198.7" stroke="#e6eae6" stroke-width="2.98" fill="none" stroke-linecap="round" stroke-linejoin="round" />
<path d="M94.7,198.7 C95.0,199.0 95.7,200.1 96.4,200.5 C97.2,201.0 98.7,201.4 99.2,201.5" stroke="#b4bab4" stroke-width="1.34" fill="none" stroke-linecap="round" stroke-linejoin="round" />
<path d="M99.2,201.5 C99.1,201.1 99.2,199.5 98.9,198.6 C98.6,197.8 97.8,196.9 97.6,196.5" stroke="#b4bab4" stroke-width="3.78" fill="none" stroke-linecap="round" stroke-linejoin="round" />
<path d="M99.2,201.5 C99.1,201.1 99.2,199.5 98.9,198.6 C98.6,197.8 97.8,196.9 97.6,196.5" stroke="#e6eae6" stroke-width="2.98" fill="none" stroke-linecap="round" stroke-linejoin="round" />
<path d="M97.6,196.5 C97.9,196.8 98.6,197.8 99.3,198.3 C100.1,198.8 101.6,199.1 102.1,199.3" stroke="#b4bab4" stroke-width="1.34" fill="none" stroke-linecap="round" stroke-linejoin="round" />
<path d="M106.3,255.6 C106.0,256.0 104.9,257.5 104.5,258.5 C104.1,259.5 104.0,261.0 103.9,261.5" stroke="#b4bab4" stroke-width="3.67" fill="none" stroke-linecap="round" stroke-linejoin="round" />
<path d="M106.3,255.6 C106.0,256.0 104.9,257.5 104.5,258.5 C104.1,259.5 104.0,261.0 103.9,261.5" stroke="#e6eae6" stroke-width="2.87" fill="none" stroke-linecap="round" stroke-linejoin="round" />
<path d="M103.9,261.5 C103.9,261.0 104.2,259.5 104.0,258.4 C103.9,257.3 103.2,255.7 103.0,255.1" stroke="#b4bab4" stroke-width="1.29" fill="none" stroke-linecap="round" stroke-linejoin="round" />
<path d="M103.0,255.1 C102.7,255.6 101.6,257.1 101.2,258.1 C100.8,259.1 100.7,260.6 100.6,261.1" stroke="#b4bab4" stroke-width="3.67" fill="none" stroke-linecap="round" stroke-linejoin="round" />
<path d="M103.0,255.1 C102.7,255.6 101.6,257.1 101.2,258.1 C100.8,259.1 100.7,260.6 100.6,261.1" stroke="#e6eae6" stroke-width="2.87" fill="none" stroke-linecap="round" stroke-linejoin="round" />
<path d="M100.6,261.1 C100.6,260.6 100.9,259.1 100.7,258.0 C100.6,256.9 99.9,255.3 99.7,254.7" stroke="#b4bab4" stroke-width="1.29" fill="none" stroke-linecap="round" stroke-linejoin="round" />
<path d="M99.7,254.7 C99.4,255.2 98.3,256.6 97.9,257.6 C97.5,258.6 97.4,260.2 97.3,260.7" stroke="#b4bab4" stroke-width="3.67" fill="none" stroke-linecap="round" stroke-linejoin="round" />
<path d="M99.7,254.7 C99.4,255.2 98.3,256.6 97.9,257.6 C97.5,258.6 97.4,260.2 97.3,260.7" stroke="#e6eae6" stroke-width="2.87" fill="none" stroke-linecap="round" stroke-linejoin="round" />
<path d="M97.3,260.7 C97.3,260.2 97.5,258.6 97.4,257.6 C97.2,256.5 96.5,254.8 96.4,254.3" stroke="#b4bab4" stroke-width="1.29" fill="none" stroke-linecap="round" stroke-linejoin="round" />
<path d="M96.4,254.3 C96.1,254.8 95.0,256.2 94.6,257.2 C94.2,258.2 94.0,259.8 93.9,260.3" stroke="#b4bab4" stroke-width="3.67" fill="none" stroke-linecap="round" stroke-linejoin="round" />
<path d="M96.4,254.3 C96.1,254.8 95.0,256.2 94.6,257.2 C94.2,258.2 94.0,259.8 93.9,260.3" stroke="#e6eae6" stroke-width="2.87" fill="none" stroke-linecap="round" stroke-linejoin="round" />
<path d="M118.7,213.0 C118.2,213.2 116.6,213.7 115.9,214.2 C115.1,214.7 114.3,215.8 114.0,216.1" stroke="#bec4be" stroke-width="3.28" fill="none" stroke-linecap="round" stroke-linejoin="round" />
<path d="M118.7,213.0 C118.2,213.2 116.6,213.7 115.9,214.2 C115.1,214.7 114.3,215.8 114.0,216.1" stroke="#eef1ee" stroke-width="2.48" fill="none" stroke-linecap="round" stroke-linejoin="round" />
<path d="M114.0,216.1 C114.2,215.7 115.1,214.7 115.5,213.9 C115.8,213.0 115.9,211.4 116.0,210.9" stroke="#bec4be" stroke-width="1.12" fill="none" stroke-linecap="round" stroke-linejoin="round" />
<path d="M116.0,210.9 C115.6,211.1 114.0,211.6 113.3,212.1 C112.5,212.6 111.7,213.7 111.4,214.0" stroke="#bec4be" stroke-width="3.28" fill="none" stroke-linecap="round" stroke-linejoin="round" />
<path d="M116.0,210.9 C115.6,211.1 114.0,211.6 113.3,212.1 C112.5,212.6 111.7,213.7 111.4,214.0" stroke="#eef1ee" stroke-width="2.48" fill="none" stroke-linecap="round" stroke-linejoin="round" />
<path d="M111.4,214.0 C111.6,213.6 112.5,212.6 112.9,211.8 C113.2,210.9 113.3,209.3 113.4,208.8" stroke="#bec4be" stroke-width="1.12" fill="none" stroke-linecap="round" stroke-linejoin="round" />
<path d="M113.4,208.8 C113.0,209.0 111.4,209.5 110.6,210.0 C109.9,210.5 109.1,211.6 108.8,211.9" stroke="#bec4be" stroke-width="3.28" fill="none" stroke-linecap="round" stroke-linejoin="round" />
<path d="M113.4,208.8 C113.0,209.0 111.4,209.5 110.6,210.0 C109.9,210.5 109.1,211.6 108.8,211.9" stroke="#eef1ee" stroke-width="2.48" fill="none" stroke-linecap="round" stroke-linejoin="round" />
<path d="M108.8,211.9 C109.0,211.5 109.9,210.5 110.2,209.7 C110.6,208.8 110.7,207.2 110.8,206.7" stroke="#bec4be" stroke-width="1.12" fill="none" stroke-linecap="round" stroke-linejoin="round" />
<path d="M110.8,206.7 C110.3,206.9 108.8,207.4 108.0,207.9 C107.2,208.4 106.5,209.5 106.1,209.8" stroke="#bec4be" stroke-width="3.28" fill="none" stroke-linecap="round" stroke-linejoin="round" />
<path d="M110.8,206.7 C110.3,206.9 108.8,207.4 108.0,207.9 C107.2,208.4 106.5,209.5 106.1,209.8" stroke="#eef1ee" stroke-width="2.48" fill="none" stroke-linecap="round" stroke-linejoin="round" />
<path d="M117.8,229.5 C117.8,230.1 117.3,231.9 117.3,233.0 C117.3,234.2 117.8,235.7 117.9,236.2" stroke="#cbd0cb" stroke-width="3.19" fill="none" stroke-linecap="round" stroke-linejoin="round" />
<path d="M117.8,229.5 C117.8,230.1 117.3,231.9 117.3,233.0 C117.3,234.2 117.8,235.7 117.9,236.2" stroke="#f4f6f4" stroke-width="2.39" fill="none" stroke-linecap="round" stroke-linejoin="round" />
<path d="M117.9,236.2 C117.7,235.7 117.4,234.1 116.8,233.2 C116.2,232.2 114.8,231.0 114.4,230.5" stroke="#cbd0cb" stroke-width="1.08" fill="none" stroke-linecap="round" stroke-linejoin="round" />
<path d="M114.4,230.5 C114.3,231.1 113.8,232.9 113.8,234.0 C113.9,235.2 114.4,236.7 114.5,237.2" stroke="#cbd0cb" stroke-width="3.19" fill="none" stroke-linecap="round" stroke-linejoin="round" />
<path d="M114.4,230.5 C114.3,231.1 113.8,232.9 113.8,234.0 C113.9,235.2 114.4,236.7 114.5,237.2" stroke="#f4f6f4" stroke-width="2.39" fill="none" stroke-linecap="round" stroke-linejoin="round" />
<path d="M114.5,237.2 C114.3,236.7 113.9,235.1 113.3,234.2 C112.7,233.2 111.4,232.0 111.0,231.5" stroke="#cbd0cb" stroke-width="1.08" fill="none" stroke-linecap="round" stroke-linejoin="round" />
<path d="M117.3,224.1 C117.5,223.2 117.9,220.1 118.6,218.3 C119.4,216.5 121.4,215.2 122.0,213.3 C122.6,211.5 122.0,209.3 122.0,207.3 C121.9,205.3 122.3,203.1 121.6,201.3 C120.9,199.6 119.4,197.4 117.8,196.7 C116.1,196.1 113.8,197.1 111.8,197.4 C109.8,197.7 107.8,198.5 105.9,198.4 C103.9,198.3 102.0,196.7 100.1,196.8 C98.2,196.9 96.1,197.9 94.5,199.0 C92.9,200.1 91.1,202.7 90.5,203.4" stroke="#dbdfdb" stroke-width="0.91" fill="none" stroke-linecap="round" stroke-linejoin="round" />
<path d="M122.2,229.5 C123.2,229.6 126.6,229.5 128.1,230.5 C129.6,231.5 130.6,233.8 131.2,235.7 C131.7,237.5 130.8,240.0 131.7,241.7 C132.5,243.3 136.3,245.0 136.1,245.7 C135.8,246.4 131.8,246.6 130.1,246.0 C128.4,245.3 127.4,243.0 125.8,241.7 C124.3,240.5 121.5,239.2 120.7,238.7" stroke="#dbdfdb" stroke-width="1.04" fill="none" stroke-linecap="round" stroke-linejoin="round" />
<path d="M135.3,249.4 C134.3,249.2 131.0,249.4 129.4,248.5 C127.8,247.6 126.3,245.6 125.6,243.8 C124.8,242.1 124.4,239.6 125.0,237.9 C125.6,236.2 128.4,235.2 129.1,233.5 C129.8,231.8 129.6,229.4 129.1,227.5 C128.6,225.6 127.3,223.9 126.2,222.3 C125.0,220.7 123.8,218.6 122.2,217.8 C120.5,217.1 117.2,217.8 116.2,217.7" stroke="#c8cdc8" stroke-width="0.89" fill="none" stroke-linecap="round" stroke-linejoin="round" />
<path d="M89.4,246.3 C89.8,246.0 91.4,245.1 92.1,244.4 C92.8,243.7 93.5,242.4 93.8,242.0" stroke="#bec4be" stroke-width="3.61" fill="none" stroke-linecap="round" stroke-linejoin="round" />
<path d="M89.4,246.3 C89.8,246.0 91.4,245.1 92.1,244.4 C92.8,243.7 93.5,242.4 93.8,242.0" stroke="#eef1ee" stroke-width="2.81" fill="none" stroke-linecap="round" stroke-linejoin="round" />
<path d="M93.8,242.0 C93.6,242.4 92.8,243.7 92.5,244.7 C92.3,245.7 92.3,247.4 92.3,247.9" stroke="#bec4be" stroke-width="1.27" fill="none" stroke-linecap="round" stroke-linejoin="round" />
<path d="M92.3,247.9 C92.8,247.6 94.3,246.8 95.0,246.1 C95.7,245.4 96.4,244.1 96.7,243.7" stroke="#bec4be" stroke-width="3.61" fill="none" stroke-linecap="round" stroke-linejoin="round" />
<path d="M92.3,247.9 C92.8,247.6 94.3,246.8 95.0,246.1 C95.7,245.4 96.4,244.1 96.7,243.7" stroke="#eef1ee" stroke-width="2.81" fill="none" stroke-linecap="round" stroke-linejoin="round" />
<path d="M96.7,243.7 C96.5,244.1 95.7,245.4 95.5,246.3 C95.2,247.3 95.3,249.1 95.2,249.6" stroke="#bec4be" stroke-width="1.27" fill="none" stroke-linecap="round" stroke-linejoin="round" />
<path d="M95.2,249.6 C95.7,249.3 97.2,248.5 97.9,247.8 C98.7,247.1 99.3,245.7 99.6,245.3" stroke="#bec4be" stroke-width="3.61" fill="none" stroke-linecap="round" stroke-linejoin="round" />
<path d="M95.2,249.6 C95.7,249.3 97.2,248.5 97.9,247.8 C98.7,247.1 99.3,245.7 99.6,245.3" stroke="#eef1ee" stroke-width="2.81" fill="none" stroke-linecap="round" stroke-linejoin="round" />
<path d="M99.6,245.3 C99.4,245.8 98.6,247.0 98.4,248.0 C98.1,249.0 98.2,250.7 98.1,251.3" stroke="#bec4be" stroke-width="1.27" fill="none" stroke-linecap="round" stroke-linejoin="round" />
<path d="M107.1,194.0 C107.9,194.6 111.1,195.9 112.1,197.4 C113.0,199.0 112.6,201.4 112.9,203.3 C113.3,205.3 114.7,207.5 114.2,209.2 C113.6,210.9 111.6,212.7 109.9,213.4 C108.2,214.1 105.9,213.3 103.9,213.3 C101.9,213.2 99.8,213.4 97.9,212.9 C96.0,212.4 94.3,211.1 92.4,210.4 C90.5,209.7 88.1,209.8 86.7,208.7 C85.2,207.5 84.2,204.3 83.7,203.5" stroke="#d1d6d1" stroke-width="1.11" fill="none" stroke-linecap="round" stroke-linejoin="round" />
<path d="M129.5,223.3 C128.9,223.1 127.4,222.4 126.4,222.3 C125.4,222.1 123.9,222.4 123.5,222.4" stroke="#cbd0cb" stroke-width="3.67" fill="none" stroke-linecap="round" stroke-linejoin="round" />
<path d="M129.5,223.3 C128.9,223.1 127.4,222.4 126.4,222.3 C125.4,222.1 123.9,222.4 123.5,222.4" stroke="#f4f6f4" stroke-width="2.87" fill="none" stroke-linecap="round" stroke-linejoin="round" />
<path d="M123.5,222.4 C123.9,222.3 125.4,222.2 126.3,221.8 C127.2,221.4 128.6,220.3 129.0,220.0" stroke="#cbd0cb" stroke-width="1.29" fill="none" stroke-linecap="round" stroke-linejoin="round" />
<path d="M129.0,220.0 C128.5,219.8 126.9,219.2 125.9,219.0 C124.9,218.9 123.5,219.1 123.0,219.2" stroke="#cbd0cb" stroke-width="3.67" fill="none" stroke-linecap="round" stroke-linejoin="round" />
<path d="M129.0,220.0 C128.5,219.8 126.9,219.2 125.9,219.0 C124.9,218.9 123.5,219.1 123.0,219.2" stroke="#f4f6f4" stroke-width="2.87" fill="none" stroke-linecap="round" stroke-linejoin="round" />
<path d="M123.0,219.2 C123.5,219.0 125.0,218.9 125.9,218.5 C126.8,218.1 128.1,217.0 128.6,216.8" stroke="#cbd0cb" stroke-width="1.29" fill="none" stroke-linecap="round" stroke-linejoin="round" />
<path d="M128.6,216.8 C128.1,216.6 126.5,215.9 125.5,215.8 C124.5,215.6 123.1,215.9 122.6,215.9" stroke="#cbd0cb" stroke-width="3.67" fill="none" stroke-linecap="round" stroke-linejoin="round" />
<path d="M128.6,216.8 C128.1,216.6 126.5,215.9 125.5,215.8 C124.5,215.6 123.1,215.9 122.6,215.9" stroke="#f4f6f4" stroke-width="2.87" fill="none" stroke-linecap="round" stroke-linejoin="round" />
<path d="M122.6,215.9 C123.1,215.8 124.5,215.7 125.4,215.3 C126.4,214.9 127.7,213.8 128.2,213.5" stroke="#cbd0cb" stroke-width="1.29" fill="none" stroke-linecap="round" stroke-linejoin="round" />
<path d="M128.2,213.5 C127.6,213.3 126.1,212.7 125.1,212.5 C124.1,212.4 122.6,212.6 122.1,212.7" stroke="#cbd0cb" stroke-width="3.67" fill="none" stroke-linecap="round" stroke-linejoin="round" />
<path d="M128.2,213.5 C127.6,213.3 126.1,212.7 125.1,212.5 C124.1,212.4 122.6,212.6 122.1,212.7" stroke="#f4f6f4" stroke-width="2.87" fill="none" stroke-linecap="round" stroke-linejoin="round" />
<path d="M112.3,214.4 C112.7,213.5 114.4,210.7 114.5,208.8 C114.5,207.0 113.0,205.1 112.4,203.2 C111.8,201.3 111.7,199.1 110.8,197.4 C109.9,195.7 107.1,192.7 106.8,192.9 C106.6,193.1 107.9,197.3 109.3,198.4 C110.7,199.5 114.2,199.2 115.2,199.4" stroke="#c8cdc8" stroke-width="0.93" fill="none" stroke-linecap="round" stroke-linejoin="round" />
<path d="M110.8,195.2 C110.0,195.8 106.8,197.2 106.0,198.8 C105.1,200.4 105.8,202.8 105.6,204.8 C105.4,206.8 104.9,208.7 104.8,210.7 C104.7,212.7 105.8,215.1 105.0,216.7 C104.3,218.3 101.2,219.9 100.4,220.5" stroke="#c8cdc8" stroke-width="1.25" fill="none" stroke-linecap="round" stroke-linejoin="round" />
<path d="M93.3,228.8 C93.2,228.2 93.0,226.3 92.6,225.2 C92.1,224.2 91.1,222.9 90.8,222.4" stroke="#bec4be" stroke-width="3.42" fill="none" stroke-linecap="round" stroke-linejoin="round" />
<path d="M93.3,228.8 C93.2,228.2 93.0,226.3 92.6,225.2 C92.1,224.2 91.1,222.9 90.8,222.4" stroke="#eef1ee" stroke-width="2.62" fill="none" stroke-linecap="round" stroke-linejoin="round" />
<path d="M90.8,222.4 C91.2,222.8 92.1,224.2 93.0,224.9 C93.8,225.7 95.6,226.5 96.1,226.8" stroke="#bec4be" stroke-width="1.18" fill="none" stroke-linecap="round" stroke-linejoin="round" />
<path d="M96.1,226.8 C95.9,226.2 95.7,224.3 95.3,223.3 C94.9,222.2 93.9,220.9 93.6,220.4" stroke="#bec4be" stroke-width="3.42" fill="none" stroke-linecap="round" stroke-linejoin="round" />
<path d="M96.1,226.8 C95.9,226.2 95.7,224.3 95.3,223.3 C94.9,222.2 93.9,220.9 93.6,220.4" stroke="#eef1ee" stroke-width="2.62" fill="none" stroke-linecap="round" stroke-linejoin="round" />
<path d="M93.6,220.4 C93.9,220.8 94.8,222.2 95.7,223.0 C96.6,223.7 98.3,224.5 98.8,224.8" stroke="#bec4be" stroke-width="1.18" fill="none" stroke-linecap="round" stroke-linejoin="round" />
<path d="M98.8,224.8 C98.7,224.2 98.5,222.3 98.1,221.3 C97.6,220.2 96.6,218.9 96.3,218.4" stroke="#bec4be" stroke-width="3.42" fill="none" stroke-linecap="round" stroke-linejoin="round" />
<path d="M98.8,224.8 C98.7,224.2 98.5,222.3 98.1,221.3 C97.6,220.2 96.6,218.9 96.3,218.4" stroke="#eef1ee" stroke-width="2.62" fill="none" stroke-linecap="round" stroke-linejoin="round" />
<path d="M96.3,218.4 C96.7,218.9 97.6,220.2 98.5,221.0 C99.3,221.7 101.1,222.5 101.6,222.8" stroke="#bec4be" stroke-width="1.18" fill="none" stroke-linecap="round" stroke-linejoin="round" />
<path d="M101.6,222.8 C101.4,222.2 101.2,220.4 100.8,219.3 C100.4,218.2 99.4,216.9 99.1,216.5" stroke="#bec4be" stroke-width="3.42" fill="none" stroke-linecap="round" stroke-linejoin="round" />
<path d="M101.6,222.8 C101.4,222.2 101.2,220.4 100.8,219.3 C100.4,218.2 99.4,216.9 99.1,216.5" stroke="#eef1ee" stroke-width="2.62" fill="none" stroke-linecap="round" stroke-linejoin="round" />
<path d="M99.1,216.5 C99.4,216.9 100.3,218.3 101.2,219.0 C102.1,219.7 103.8,220.6 104.3,220.9" stroke="#bec4be" stroke-width="1.18" fill="none" stroke-linecap="round" stroke-linejoin="round" />
<path d="M79.8,222.2 C80.8,222.1 84.1,222.4 85.8,221.5 C87.5,220.7 89.5,218.9 89.9,217.2 C90.4,215.5 89.5,213.1 88.7,211.3 C87.9,209.5 85.9,208.3 85.1,206.5 C84.3,204.7 84.1,201.6 83.9,200.6" stroke="#d1d6d1" stroke-width="0.85" fill="none" stroke-linecap="round" stroke-linejoin="round" />
<path d="M108.1,225.4 C107.8,225.8 106.8,227.0 106.4,227.9 C106.1,228.7 106.1,230.0 106.0,230.5" stroke="#cbd0cb" stroke-width="3.42" fill="none" stroke-linecap="round" stroke-linejoin="round" />
<path d="M108.1,225.4 C107.8,225.8 106.8,227.0 106.4,227.9 C106.1,228.7 106.1,230.0 106.0,230.5" stroke="#f4f6f4" stroke-width="2.62" fill="none" stroke-linecap="round" stroke-linejoin="round" />
<path d="M106.0,230.5 C106.0,230.0 106.1,228.7 105.9,227.8 C105.7,227.0 104.8,225.6 104.6,225.2" stroke="#cbd0cb" stroke-width="1.18" fill="none" stroke-linecap="round" stroke-linejoin="round" />
<path d="M104.6,225.2 C104.3,225.6 103.3,226.8 102.9,227.6 C102.6,228.5 102.6,229.8 102.5,230.2" stroke="#cbd0cb" stroke-width="3.42" fill="none" stroke-linecap="round" stroke-linejoin="round" />
<path d="M104.6,225.2 C104.3,225.6 103.3,226.8 102.9,227.6 C102.6,228.5 102.6,229.8 102.5,230.2" stroke="#f4f6f4" stroke-width="2.62" fill="none" stroke-linecap="round" stroke-linejoin="round" />
<path d="M102.5,230.2 C102.5,229.8 102.6,228.5 102.4,227.6 C102.2,226.7 101.3,225.4 101.1,224.9" stroke="#cbd0cb" stroke-width="1.18" fill="none" stroke-linecap="round" stroke-linejoin="round" />
<path d="M101.1,224.9 C100.8,225.3 99.8,226.6 99.4,227.4 C99.1,228.3 99.1,229.6 99.0,230.0" stroke="#cbd0cb" stroke-width="3.42" fill="none" stroke-linecap="round" stroke-linejoin="round" />
<path d="M101.1,224.9 C100.8,225.3 99.8,226.6 99.4,227.4 C99.1,228.3 99.1,229.6 99.0,230.0" stroke="#f4f6f4" stroke-width="2.62" fill="none" stroke-linecap="round" stroke-linejoin="round" />
<path d="M103.4,219.1 C103.3,218.1 102.9,215.1 102.8,213.1 C102.6,211.1 103.1,208.9 102.5,207.1 C101.8,205.3 100.5,203.4 99.0,202.2 C97.5,201.0 95.3,200.7 93.5,199.9 C91.7,199.0 89.5,196.7 88.2,197.1 C86.8,197.6 86.0,201.7 85.6,202.6" stroke="#c8cdc8" stroke-width="1.08" fill="none" stroke-linecap="round" stroke-linejoin="round" />
<path d="M98.6,208.0 C98.6,207.4 98.6,205.5 98.3,204.4 C98.0,203.2 97.2,201.8 97.0,201.2" stroke="#cbd0cb" stroke-width="3.71" fill="none" stroke-linecap="round" stroke-linejoin="round" />
<path d="M98.6,208.0 C98.6,207.4 98.6,205.5 98.3,204.4 C98.0,203.2 97.2,201.8 97.0,201.2" stroke="#f4f6f4" stroke-width="2.91" fill="none" stroke-linecap="round" stroke-linejoin="round" />
<path d="M97.0,201.2 C97.3,201.7 98.0,203.3 98.8,204.1 C99.5,205.0 101.2,206.1 101.6,206.5" stroke="#cbd0cb" stroke-width="1.31" fill="none" stroke-linecap="round" stroke-linejoin="round" />
<path d="M101.6,206.5 C101.6,205.8 101.6,203.9 101.3,202.8 C101.0,201.6 100.2,200.2 100.0,199.6" stroke="#cbd0cb" stroke-width="3.71" fill="none" stroke-linecap="round" stroke-linejoin="round" />
<path d="M101.6,206.5 C101.6,205.8 101.6,203.9 101.3,202.8 C101.0,201.6 100.2,200.2 100.0,199.6" stroke="#f4f6f4" stroke-width="2.91" fill="none" stroke-linecap="round" stroke-linejoin="round" />
<path d="M100.0,199.6 C100.3,200.1 101.0,201.7 101.8,202.5 C102.6,203.4 104.2,204.5 104.6,204.9" stroke="#cbd0cb" stroke-width="1.31" fill="none" stroke-linecap="round" stroke-linejoin="round" />
<path d="M104.6,204.9 C104.6,204.3 104.6,202.3 104.3,201.2 C104.1,200.0 103.2,198.6 103.0,198.1" stroke="#cbd0cb" stroke-width="3.71" fill="none" stroke-linecap="round" stroke-linejoin="round" />
<path d="M104.6,204.9 C104.6,204.3 104.6,202.3 104.3,201.2 C104.1,200.0 103.2,198.6 103.0,198.1" stroke="#f4f6f4" stroke-width="2.91" fill="none" stroke-linecap="round" stroke-linejoin="round" />
<path d="M79.5,206.7 C79.7,207.3 80.1,209.1 80.6,210.2 C81.1,211.2 82.2,212.4 82.5,212.9" stroke="#cbd0cb" stroke-width="3.43" fill="none" stroke-linecap="round" stroke-linejoin="round" />
<path d="M79.5,206.7 C79.7,207.3 80.1,209.1 80.6,210.2 C81.1,211.2 82.2,212.4 82.5,212.9" stroke="#f4f6f4" stroke-width="2.63" fill="none" stroke-linecap="round" stroke-linejoin="round" />
<path d="M82.5,212.9 C82.1,212.5 81.1,211.1 80.2,210.5 C79.2,209.8 77.5,209.1 76.9,208.9" stroke="#cbd0cb" stroke-width="1.19" fill="none" stroke-linecap="round" stroke-linejoin="round" />
<path d="M76.9,208.9 C77.1,209.4 77.5,211.3 78.0,212.3 C78.5,213.4 79.7,214.6 80.0,215.0" stroke="#cbd0cb" stroke-width="3.43" fill="none" stroke-linecap="round" stroke-linejoin="round" />
<path d="M76.9,208.9 C77.1,209.4 77.5,211.3 78.0,212.3 C78.5,213.4 79.7,214.6 80.0,215.0" stroke="#f4f6f4" stroke-width="2.63" fill="none" stroke-linecap="round" stroke-linejoin="round" />
<path d="M80.0,215.0 C79.6,214.6 78.6,213.3 77.6,212.6 C76.7,212.0 74.9,211.3 74.4,211.0" stroke="#cbd0cb" stroke-width="1.19" fill="none" stroke-linecap="round" stroke-linejoin="round" />
<path d="M74.4,211.0 C74.6,211.6 74.9,213.5 75.5,214.5 C76.0,215.5 77.1,216.7 77.4,217.2" stroke="#cbd0cb" stroke-width="3.43" fill="none" stroke-linecap="round" stroke-linejoin="round" />
<path d="M74.4,211.0 C74.6,211.6 74.9,213.5 75.5,214.5 C76.0,215.5 77.1,216.7 77.4,217.2" stroke="#f4f6f4" stroke-width="2.63" fill="none" stroke-linecap="round" stroke-linejoin="round" />
<path d="M77.4,217.2 C77.0,216.8 76.0,215.5 75.1,214.8 C74.1,214.1 72.4,213.5 71.8,213.2" stroke="#cbd0cb" stroke-width="1.19" fill="none" stroke-linecap="round" stroke-linejoin="round" />
<path d="M122.7,206.4 C123.7,206.7 126.6,207.7 128.6,207.9 C130.5,208.2 134.4,207.2 134.6,207.7 C134.7,208.3 131.4,210.4 129.6,211.2 C127.8,212.0 125.7,212.3 123.8,212.4 C121.8,212.5 119.7,211.8 117.8,212.0 C115.8,212.2 113.7,213.9 112.0,213.4 C110.3,213.0 108.3,210.0 107.6,209.3" stroke="#dbdfdb" stroke-width="1.20" fill="none" stroke-linecap="round" stroke-linejoin="round" />
<path d="M130.8,223.9 C130.4,224.3 129.0,225.4 128.4,226.2 C127.8,227.1 127.4,228.5 127.2,229.0" stroke="#bec4be" stroke-width="3.12" fill="none" stroke-linecap="round" stroke-linejoin="round" />
<path d="M130.8,223.9 C130.4,224.3 129.0,225.4 128.4,226.2 C127.8,227.1 127.4,228.5 127.2,229.0" stroke="#eef1ee" stroke-width="2.32" fill="none" stroke-linecap="round" stroke-linejoin="round" />
<path d="M127.2,229.0 C127.3,228.5 127.8,227.1 127.9,226.1 C127.9,225.0 127.5,223.3 127.4,222.8" stroke="#bec4be" stroke-width="1.04" fill="none" stroke-linecap="round" stroke-linejoin="round" />
<path d="M127.4,222.8 C127.0,223.2 125.6,224.3 125.0,225.1 C124.4,225.9 124.0,227.4 123.8,227.8" stroke="#bec4be" stroke-width="3.12" fill="none" stroke-linecap="round" stroke-linejoin="round" />
<path d="M127.4,222.8 C127.0,223.2 125.6,224.3 125.0,225.1 C124.4,225.9 124.0,227.4 123.8,227.8" stroke="#eef1ee" stroke-width="2.32" fill="none" stroke-linecap="round" stroke-linejoin="round" />
<path d="M123.8,227.8 C123.9,227.3 124.5,226.0 124.5,224.9 C124.6,223.9 124.1,222.2 124.1,221.6" stroke="#bec4be" stroke-width="1.04" fill="none" stroke-linecap="round" stroke-linejoin="round" />
<path d="M124.1,221.6 C123.7,222.0 122.3,223.1 121.7,224.0 C121.1,224.8 120.7,226.2 120.5,226.7" stroke="#bec4be" stroke-width="3.12" fill="none" stroke-linecap="round" stroke-linejoin="round" />
<path d="M124.1,221.6 C123.7,222.0 122.3,223.1 121.7,224.0 C121.1,224.8 120.7,226.2 120.5,226.7" stroke="#eef1ee" stroke-width="2.32" fill="none" stroke-linecap="round" stroke-linejoin="round" />
<path d="M120.5,226.7 C120.6,226.2 121.1,224.8 121.2,223.8 C121.2,222.8 120.8,221.1 120.7,220.5" stroke="#bec4be" stroke-width="1.04" fill="none" stroke-linecap="round" stroke-linejoin="round" />
<path d="M85.3,206.7 C86.2,206.4 89.5,206.1 91.0,204.9 C92.5,203.8 92.8,201.2 94.1,199.8 C95.4,198.3 97.0,196.8 98.8,196.0 C100.6,195.3 102.8,195.8 104.8,195.3 C106.7,194.9 109.5,193.7 110.4,193.3" stroke="#d1d6d1" stroke-width="0.96" fill="none" stroke-linecap="round" stroke-linejoin="round" />
<path d="M100.0,206.3 C99.5,206.3 98.0,205.8 97.1,205.8 C96.2,205.8 95.0,206.3 94.6,206.4" stroke="#b4bab4" stroke-width="3.36" fill="none" stroke-linecap="round" stroke-linejoin="round" />
<path d="M100.0,206.3 C99.5,206.3 98.0,205.8 97.1,205.8 C96.2,205.8 95.0,206.3 94.6,206.4" stroke="#e6eae6" stroke-width="2.56" fill="none" stroke-linecap="round" stroke-linejoin="round" />
<path d="M94.6,206.4 C95.0,206.2 96.2,205.9 97.0,205.4 C97.7,204.8 98.7,203.6 99.0,203.3" stroke="#b4bab4" stroke-width="1.15" fill="none" stroke-linecap="round" stroke-linejoin="round" />
<path d="M99.0,203.3 C98.5,203.2 97.0,202.7 96.1,202.7 C95.2,202.7 94.0,203.2 93.6,203.3" stroke="#b4bab4" stroke-width="3.36" fill="none" stroke-linecap="round" stroke-linejoin="round" />
<path d="M99.0,203.3 C98.5,203.2 97.0,202.7 96.1,202.7 C95.2,202.7 94.0,203.2 93.6,203.3" stroke="#e6eae6" stroke-width="2.56" fill="none" stroke-linecap="round" stroke-linejoin="round" />
<path d="M93.6,203.3 C94.0,203.1 95.3,202.8 96.0,202.3 C96.7,201.8 97.7,200.5 98.0,200.2" stroke="#b4bab4" stroke-width="1.15" fill="none" stroke-linecap="round" stroke-linejoin="round" />
<path d="M98.0,200.2 C97.6,200.1 96.1,199.7 95.2,199.7 C94.3,199.7 93.0,200.1 92.6,200.2" stroke="#b4bab4" stroke-width="3.36" fill="none" stroke-linecap="round" stroke-linejoin="round" />
<path d="M98.0,200.2 C97.6,200.1 96.1,199.7 95.2,199.7 C94.3,199.7 93.0,200.1 92.6,200.2" stroke="#e6eae6" stroke-width="2.56" fill="none" stroke-linecap="round" stroke-linejoin="round" />
<path d="M92.6,200.2 C93.0,200.0 94.3,199.7 95.0,199.2 C95.8,198.7 96.7,197.5 97.1,197.1" stroke="#b4bab4" stroke-width="1.15" fill="none" stroke-linecap="round" stroke-linejoin="round" />
<path d="M97.1,197.1 C96.6,197.0 95.1,196.6 94.2,196.6 C93.3,196.6 92.1,197.1 91.6,197.1" stroke="#b4bab4" stroke-width="3.36" fill="none" stroke-linecap="round" stroke-linejoin="round" />
<path d="M97.1,197.1 C96.6,197.0 95.1,196.6 94.2,196.6 C93.3,196.6 92.1,197.1 91.6,197.1" stroke="#e6eae6" stroke-width="2.56" fill="none" stroke-linecap="round" stroke-linejoin="round" />
<path d="M91.6,197.1 C92.0,197.0 93.3,196.6 94.0,196.1 C94.8,195.6 95.7,194.4 96.1,194.0" stroke="#b4bab4" stroke-width="1.15" fill="none" stroke-linecap="round" stroke-linejoin="round" />
<path d="M74.9,214.5 C75.9,214.7 80.4,214.9 80.8,215.9 C81.1,216.9 78.4,219.6 76.8,220.4 C75.1,221.3 72.5,221.5 70.8,221.0 C69.1,220.4 67.1,217.7 66.3,217.0" stroke="#d5c2a0" stroke-width="1.26" fill="none" stroke-linecap="round" stroke-linejoin="round" />
<path d="M61.3,210.6 C61.8,210.4 63.3,210.1 64.1,209.7 C64.9,209.2 65.7,208.2 66.0,207.9" stroke="#b8a27a" stroke-width="3.75" fill="none" stroke-linecap="round" stroke-linejoin="round" />
<path d="M61.3,210.6 C61.8,210.4 63.3,210.1 64.1,209.7 C64.9,209.2 65.7,208.2 66.0,207.9" stroke="#e8d8b4" stroke-width="2.95" fill="none" stroke-linecap="round" stroke-linejoin="round" />
<path d="M66.0,207.9 C65.8,208.3 64.9,209.2 64.5,210.0 C64.2,210.9 64.0,212.4 63.9,212.9" stroke="#b8a27a" stroke-width="1.33" fill="none" stroke-linecap="round" stroke-linejoin="round" />
<path d="M63.9,212.9 C64.4,212.8 65.9,212.4 66.7,212.0 C67.5,211.6 68.3,210.6 68.6,210.3" stroke="#b8a27a" stroke-width="3.75" fill="none" stroke-linecap="round" stroke-linejoin="round" />
<path d="M63.9,212.9 C64.4,212.8 65.9,212.4 66.7,212.0 C67.5,211.6 68.3,210.6 68.6,210.3" stroke="#e8d8b4" stroke-width="2.95" fill="none" stroke-linecap="round" stroke-linejoin="round" />
<path d="M68.6,210.3 C68.4,210.6 67.5,211.5 67.1,212.4 C66.8,213.2 66.6,214.8 66.5,215.2" stroke="#b8a27a" stroke-width="1.33" fill="none" stroke-linecap="round" stroke-linejoin="round" />
<path d="M66.5,215.2 C67.0,215.1 68.5,214.8 69.3,214.3 C70.1,213.9 70.9,212.9 71.2,212.6" stroke="#b8a27a" stroke-width="3.75" fill="none" stroke-linecap="round" stroke-linejoin="round" />
<path d="M66.5,215.2 C67.0,215.1 68.5,214.8 69.3,214.3 C70.1,213.9 70.9,212.9 71.2,212.6" stroke="#e8d8b4" stroke-width="2.95" fill="none" stroke-linecap="round" stroke-linejoin="round" />
<path d="M71.2,212.6 C71.0,212.9 70.1,213.8 69.7,214.7 C69.3,215.5 69.2,217.1 69.1,217.6" stroke="#b8a27a" stroke-width="1.33" fill="none" stroke-linecap="round" stroke-linejoin="round" />
<path d="M69.1,217.6 C69.6,217.4 71.1,217.1 71.9,216.7 C72.7,216.2 73.5,215.2 73.8,214.9" stroke="#b8a27a" stroke-width="3.75" fill="none" stroke-linecap="round" stroke-linejoin="round" />
<path d="M69.1,217.6 C69.6,217.4 71.1,217.1 71.9,216.7 C72.7,216.2 73.5,215.2 73.8,214.9" stroke="#e8d8b4" stroke-width="2.95" fill="none" stroke-linecap="round" stroke-linejoin="round" />
<path d="M28.3,207.7 C28.2,206.7 27.5,203.6 27.8,201.7 C28.1,199.8 30.0,197.9 29.9,196.1 C29.8,194.3 28.3,192.4 27.1,190.8 C25.9,189.3 23.1,188.3 22.7,186.7 C22.3,185.1 24.4,182.0 24.8,181.0" stroke="#ded0b3" stroke-width="1.08" fill="none" stroke-linecap="round" stroke-linejoin="round" />
<path d="M89.4,235.9 C89.4,236.4 89.3,237.9 89.6,238.7 C89.8,239.6 90.5,240.6 90.7,240.9" stroke="#b8a27a" stroke-width="3.41" fill="none" stroke-linecap="round" stroke-linejoin="round" />
<path d="M89.4,235.9 C89.4,236.4 89.3,237.9 89.6,238.7 C89.8,239.6 90.5,240.6 90.7,240.9" stroke="#e8d8b4" stroke-width="2.61" fill="none" stroke-linecap="round" stroke-linejoin="round" />
<path d="M90.7,240.9 C90.5,240.6 89.8,239.5 89.2,239.0 C88.5,238.5 87.0,237.9 86.6,237.7" stroke="#b8a27a" stroke-width="1.18" fill="none" stroke-linecap="round" stroke-linejoin="round" />
<path d="M86.6,237.7 C86.6,238.2 86.6,239.7 86.8,240.6 C87.1,241.4 87.8,242.4 88.0,242.8" stroke="#b8a27a" stroke-width="3.41" fill="none" stroke-linecap="round" stroke-linejoin="round" />
<path d="M86.6,237.7 C86.6,238.2 86.6,239.7 86.8,240.6 C87.1,241.4 87.8,242.4 88.0,242.8" stroke="#e8d8b4" stroke-width="2.61" fill="none" stroke-linecap="round" stroke-linejoin="round" />
<path d="M88.0,242.8 C87.7,242.4 87.1,241.4 86.4,240.8 C85.7,240.3 84.3,239.8 83.9,239.6" stroke="#b8a27a" stroke-width="1.18" fill="none" stroke-linecap="round" stroke-linejoin="round" />
<path d="M83.9,239.6 C83.9,240.0 83.8,241.6 84.1,242.4 C84.3,243.3 85.0,244.2 85.2,244.6" stroke="#b8a27a" stroke-width="3.41" fill="none" stroke-linecap="round" stroke-linejoin="round" />
<path d="M83.9,239.6 C83.9,240.0 83.8,241.6 84.1,242.4 C84.3,243.3 85.0,244.2 85.2,244.6" stroke="#e8d8b4" stroke-width="2.61" fill="none" stroke-linecap="round" stroke-linejoin="round" />
<path d="M56.3,197.2 C57.2,197.7 61.1,198.8 61.5,200.2 C61.9,201.5 59.6,203.7 58.6,205.4 C57.6,207.1 56.1,209.7 55.6,210.6" stroke="#d5c2a0" stroke-width="1.16" fill="none" stroke-linecap="round" stroke-linejoin="round" />
<path d="M37.9,202.8 C37.0,202.5 33.8,202.0 32.2,200.9 C30.7,199.8 30.3,196.9 28.7,196.0 C27.1,195.1 22.7,195.7 22.7,195.5 C22.7,195.2 27.2,195.7 28.7,194.7 C30.2,193.7 31.2,190.3 31.7,189.5" stroke="#cbb791" stroke-width="1.26" fill="none" stroke-linecap="round" stroke-linejoin="round" />
<path d="M30.3,220.5 C29.3,220.3 25.0,220.8 24.4,219.7 C23.7,218.6 25.8,216.0 26.2,214.0 C26.6,212.1 27.0,210.0 26.8,208.0 C26.7,206.1 25.5,203.2 25.2,202.3" stroke="#d5c2a0" stroke-width="1.02" fill="none" stroke-linecap="round" stroke-linejoin="round" />
<path d="M55.2,202.3 C54.4,201.7 52.0,199.6 50.2,199.0 C48.4,198.3 45.9,197.8 44.2,198.5 C42.6,199.2 40.9,201.2 40.2,203.0 C39.5,204.7 40.5,207.1 40.0,209.0 C39.4,210.8 37.3,213.2 36.8,214.1" stroke="#cbb791" stroke-width="0.93" fill="none" stroke-linecap="round" stroke-linejoin="round" />
<path d="M87.1,245.4 C86.3,244.8 83.1,243.7 82.0,242.2 C80.9,240.7 81.3,238.3 80.7,236.4 C80.2,234.4 79.4,232.6 78.7,230.7 C77.9,228.9 76.2,227.0 76.3,225.2 C76.5,223.4 78.9,221.9 79.5,220.1 C80.0,218.2 79.7,214.1 79.7,214.1 C79.7,214.1 80.1,218.2 79.6,220.1 C79.1,222.0 77.8,223.6 76.9,225.5 C76.1,227.3 75.0,230.1 74.6,231.0" stroke="#d5c2a0" stroke-width="1.29" fill="none" stroke-linecap="round" stroke-linejoin="round" />
<path d="M79.3,229.5 C79.3,230.1 79.2,232.0 79.4,233.2 C79.7,234.3 80.6,235.6 80.8,236.1" stroke="#c4ae88" stroke-width="3.29" fill="none" stroke-linecap="round" stroke-linejoin="round" />
<path d="M79.3,229.5 C79.3,230.1 79.2,232.0 79.4,233.2 C79.7,234.3 80.6,235.6 80.8,236.1" stroke="#efe2c4" stroke-width="2.49" fill="none" stroke-linecap="round" stroke-linejoin="round" />
<path d="M80.8,236.1 C80.5,235.7 79.8,234.2 78.9,233.4 C78.1,232.7 76.4,231.8 75.9,231.4" stroke="#c4ae88" stroke-width="1.12" fill="none" stroke-linecap="round" stroke-linejoin="round" />
<path d="M75.9,231.4 C75.9,232.1 75.8,234.0 76.0,235.1 C76.3,236.2 77.2,237.6 77.4,238.1" stroke="#c4ae88" stroke-width="3.29" fill="none" stroke-linecap="round" stroke-linejoin="round" />
<path d="M75.9,231.4 C75.9,232.1 75.8,234.0 76.0,235.1 C76.3,236.2 77.2,237.6 77.4,238.1" stroke="#efe2c4" stroke-width="2.49" fill="none" stroke-linecap="round" stroke-linejoin="round" />
<path d="M77.4,238.1 C77.1,237.6 76.4,236.2 75.5,235.4 C74.7,234.6 73.0,233.7 72.5,233.4" stroke="#c4ae88" stroke-width="1.12" fill="none" stroke-linecap="round" stroke-linejoin="round" />
<path d="M29.9,210.7 C28.9,210.7 24.3,211.4 23.9,210.7 C23.6,209.9 26.3,207.3 27.9,206.2 C29.5,205.1 31.6,204.1 33.5,204.1 C35.4,204.0 37.4,205.8 39.3,205.6 C41.1,205.5 43.1,204.2 44.6,203.0 C46.2,201.8 47.9,200.1 48.5,198.4 C49.1,196.6 48.3,194.4 48.2,192.4 C48.0,190.4 47.7,187.4 47.7,186.4" stroke="#d5c2a0" stroke-width="1.00" fill="none" stroke-linecap="round" stroke-linejoin="round" />
<path d="M43.7,221.3 C43.2,221.5 41.5,222.1 40.6,222.7 C39.8,223.3 38.8,224.6 38.5,225.0" stroke="#b8a27a" stroke-width="3.15" fill="none" stroke-linecap="round" stroke-linejoin="round" />
<path d="M43.7,221.3 C43.2,221.5 41.5,222.1 40.6,222.7 C39.8,223.3 38.8,224.6 38.5,225.0" stroke="#e8d8b4" stroke-width="2.35" fill="none" stroke-linecap="round" stroke-linejoin="round" />
<path d="M38.5,225.0 C38.8,224.5 39.8,223.4 40.2,222.4 C40.7,221.4 40.9,219.6 41.1,219.1" stroke="#b8a27a" stroke-width="1.06" fill="none" stroke-linecap="round" stroke-linejoin="round" />
<path d="M41.1,219.1 C40.6,219.3 38.8,219.9 38.0,220.5 C37.1,221.1 36.2,222.4 35.8,222.8" stroke="#b8a27a" stroke-width="3.15" fill="none" stroke-linecap="round" stroke-linejoin="round" />
<path d="M41.1,219.1 C40.6,219.3 38.8,219.9 38.0,220.5 C37.1,221.1 36.2,222.4 35.8,222.8" stroke="#e8d8b4" stroke-width="2.35" fill="none" stroke-linecap="round" stroke-linejoin="round" />
<path d="M35.8,222.8 C36.1,222.3 37.1,221.2 37.6,220.2 C38.0,219.2 38.3,217.4 38.4,216.9" stroke="#b8a27a" stroke-width="1.06" fill="none" stroke-linecap="round" stroke-linejoin="round" />
<path d="M38.4,216.9 C37.9,217.1 36.2,217.7 35.3,218.3 C34.4,219.0 33.5,220.2 33.1,220.6" stroke="#b8a27a" stroke-width="3.15" fill="none" stroke-linecap="round" stroke-linejoin="round" />
<path d="M38.4,216.9 C37.9,217.1 36.2,217.7 35.3,218.3 C34.4,219.0 33.5,220.2 33.1,220.6" stroke="#e8d8b4" stroke-width="2.35" fill="none" stroke-linecap="round" stroke-linejoin="round" />
<path d="M33.1,220.6 C33.4,220.1 34.5,219.0 34.9,218.0 C35.3,217.0 35.6,215.2 35.8,214.7" stroke="#b8a27a" stroke-width="1.06" fill="none" stroke-linecap="round" stroke-linejoin="round" />
<path d="M35.8,214.7 C35.2,214.9 33.5,215.5 32.6,216.1 C31.8,216.8 30.8,218.0 30.5,218.4" stroke="#b8a27a" stroke-width="3.15" fill="none" stroke-linecap="round" stroke-linejoin="round" />
<path d="M35.8,214.7 C35.2,214.9 33.5,215.5 32.6,216.1 C31.8,216.8 30.8,218.0 30.5,218.4" stroke="#e8d8b4" stroke-width="2.35" fill="none" stroke-linecap="round" stroke-linejoin="round" />
<path d="M39.5,199.5 C39.6,198.6 40.9,195.3 40.3,193.6 C39.8,191.9 37.8,190.0 36.1,189.3 C34.5,188.7 32.0,189.2 30.2,189.8 C28.3,190.4 26.6,191.7 25.0,192.9 C23.4,194.0 20.2,196.0 20.4,196.7 C20.6,197.4 25.4,197.2 26.4,197.3" stroke="#d5c2a0" stroke-width="0.74" fill="none" stroke-linecap="round" stroke-linejoin="round" />
<path d="M25.0,241.6 C25.2,241.1 25.9,239.6 26.1,238.7 C26.3,237.7 26.1,236.4 26.1,235.9" stroke="#d0bf9e" stroke-width="3.27" fill="none" stroke-linecap="round" stroke-linejoin="round" />
<path d="M25.0,241.6 C25.2,241.1 25.9,239.6 26.1,238.7 C26.3,237.7 26.1,236.4 26.1,235.9" stroke="#f4ead4" stroke-width="2.47" fill="none" stroke-linecap="round" stroke-linejoin="round" />
<path d="M26.1,235.9 C26.2,236.4 26.2,237.8 26.6,238.6 C27.0,239.5 28.1,240.8 28.4,241.2" stroke="#d0bf9e" stroke-width="1.11" fill="none" stroke-linecap="round" stroke-linejoin="round" />
<path d="M28.4,241.2 C28.6,240.7 29.4,239.2 29.6,238.3 C29.7,237.3 29.5,236.0 29.5,235.5" stroke="#d0bf9e" stroke-width="3.27" fill="none" stroke-linecap="round" stroke-linejoin="round" />
<path d="M28.4,241.2 C28.6,240.7 29.4,239.2 29.6,238.3 C29.7,237.3 29.5,236.0 29.5,235.5" stroke="#f4ead4" stroke-width="2.47" fill="none" stroke-linecap="round" stroke-linejoin="round" />
<path d="M29.5,235.5 C29.6,236.0 29.7,237.4 30.1,238.2 C30.5,239.1 31.6,240.4 31.9,240.8" stroke="#d0bf9e" stroke-width="1.11" fill="none" stroke-linecap="round" stroke-linejoin="round" />
<path d="M31.9,240.8 C32.0,240.3 32.8,238.8 33.0,237.9 C33.2,236.9 32.9,235.6 32.9,235.1" stroke="#d0bf9e" stroke-width="3.27" fill="none" stroke-linecap="round" stroke-linejoin="round" />
<path d="M31.9,240.8 C32.0,240.3 32.8,238.8 33.0,237.9 C33.2,236.9 32.9,235.6 32.9,235.1" stroke="#f4ead4" stroke-width="2.47" fill="none" stroke-linecap="round" stroke-linejoin="round" />
<path d="M32.9,235.1 C33.0,235.6 33.1,237.0 33.5,237.8 C33.9,238.7 35.0,240.0 35.3,240.4" stroke="#d0bf9e" stroke-width="1.11" fill="none" stroke-linecap="round" stroke-linejoin="round" />
<path d="M85.0,250.2 C84.2,249.6 81.4,248.0 80.2,246.5 C79.1,245.0 78.8,242.7 77.9,241.0 C76.9,239.3 75.9,237.2 74.3,236.1 C72.8,235.1 70.4,234.5 68.5,234.7 C66.6,234.9 65.0,237.1 63.1,237.3 C61.2,237.5 59.1,236.6 57.2,236.0 C55.3,235.4 53.7,234.0 51.7,233.6 C49.8,233.2 46.7,233.6 45.7,233.6" stroke="#cbb791" stroke-width="1.16" fill="none" stroke-linecap="round" stroke-linejoin="round" />
<path d="M68.3,230.3 C69.3,230.6 72.1,231.5 74.0,232.4 C75.8,233.2 77.9,233.8 79.2,235.2 C80.6,236.6 80.9,238.8 81.8,240.6 C82.8,242.4 84.5,243.9 84.8,245.8 C85.2,247.7 83.4,250.1 84.1,251.8 C84.7,253.4 87.8,255.0 88.6,255.7" stroke="#cbb791" stroke-width="0.89" fill="none" stroke-linecap="round" stroke-linejoin="round" />
<path d="M90.8,231.9 C90.3,231.7 88.8,231.1 87.9,230.9 C87.0,230.8 85.7,231.1 85.2,231.1" stroke="#d0bf9e" stroke-width="3.11" fill="none" stroke-linecap="round" stroke-linejoin="round" />
<path d="M90.8,231.9 C90.3,231.7 88.8,231.1 87.9,230.9 C87.0,230.8 85.7,231.1 85.2,231.1" stroke="#f4ead4" stroke-width="2.31" fill="none" stroke-linecap="round" stroke-linejoin="round" />
<path d="M85.2,231.1 C85.6,231.0 87.0,230.8 87.8,230.4 C88.7,230.0 89.8,228.9 90.2,228.6" stroke="#d0bf9e" stroke-width="1.04" fill="none" stroke-linecap="round" stroke-linejoin="round" />
<path d="M90.2,228.6 C89.8,228.4 88.3,227.7 87.4,227.6 C86.4,227.4 85.1,227.7 84.7,227.7" stroke="#d0bf9e" stroke-width="3.11" fill="none" stroke-linecap="round" stroke-linejoin="round" />
<path d="M90.2,228.6 C89.8,228.4 88.3,227.7 87.4,227.6 C86.4,227.4 85.1,227.7 84.7,227.7" stroke="#f4ead4" stroke-width="2.31" fill="none" stroke-linecap="round" stroke-linejoin="round" />
<path d="M84.7,227.7 C85.1,227.6 86.4,227.5 87.3,227.1 C88.1,226.6 89.3,225.5 89.7,225.2" stroke="#d0bf9e" stroke-width="1.04" fill="none" stroke-linecap="round" stroke-linejoin="round" />
<path d="M89.7,225.2 C89.2,225.1 87.8,224.4 86.8,224.2 C85.9,224.1 84.6,224.4 84.1,224.4" stroke="#d0bf9e" stroke-width="3.11" fill="none" stroke-linecap="round" stroke-linejoin="round" />
<path d="M89.7,225.2 C89.2,225.1 87.8,224.4 86.8,224.2 C85.9,224.1 84.6,224.4 84.1,224.4" stroke="#f4ead4" stroke-width="2.31" fill="none" stroke-linecap="round" stroke-linejoin="round" />
<path d="M84.1,224.4 C84.6,224.3 85.9,224.1 86.8,223.7 C87.6,223.3 88.8,222.2 89.2,221.9" stroke="#d0bf9e" stroke-width="1.04" fill="none" stroke-linecap="round" stroke-linejoin="round" />
<path d="M89.2,221.9 C88.7,221.7 87.2,221.0 86.3,220.9 C85.4,220.7 84.1,221.0 83.6,221.0" stroke="#d0bf9e" stroke-width="3.11" fill="none" stroke-linecap="round" stroke-linejoin="round" />
<path d="M89.2,221.9 C88.7,221.7 87.2,221.0 86.3,220.9 C85.4,220.7 84.1,221.0 83.6,221.0" stroke="#f4ead4" stroke-width="2.31" fill="none" stroke-linecap="round" stroke-linejoin="round" />
<path d="M45.6,243.3 C45.0,244.2 43.7,247.3 42.2,248.3 C40.6,249.3 38.0,249.7 36.3,249.1 C34.5,248.6 32.6,246.8 31.8,245.1 C31.1,243.4 31.9,241.1 31.8,239.1 C31.7,237.1 30.7,235.0 31.0,233.2 C31.4,231.3 33.2,229.7 33.8,227.8 C34.3,225.9 34.5,223.8 34.3,221.8 C34.1,219.9 33.4,217.9 32.7,216.1 C31.9,214.2 30.0,212.6 29.9,210.7 C29.8,208.9 30.9,206.5 32.2,205.2 C33.5,203.9 36.2,204.1 37.7,202.9 C39.3,201.8 40.9,199.0 41.5,198.2" stroke="#cbb791" stroke-width="0.92" fill="none" stroke-linecap="round" stroke-linejoin="round" />
<path d="M46.1,210.7 C46.9,210.1 49.2,208.1 50.8,206.9 C52.4,205.7 53.9,204.0 55.7,203.5 C57.5,203.0 59.7,203.6 61.7,203.9 C63.7,204.1 67.3,204.1 67.6,205.0 C67.9,206.0 65.4,208.8 63.8,209.6 C62.1,210.5 59.7,209.7 57.8,210.3 C56.0,211.0 53.6,212.0 52.7,213.5 C51.8,215.0 52.5,217.5 52.3,219.5 C52.2,221.5 51.9,224.5 51.8,225.5" stroke="#cbb791" stroke-width="1.03" fill="none" stroke-linecap="round" stroke-linejoin="round" />
<path d="M61.7,265.0 C60.7,264.9 57.5,265.1 55.7,264.4 C53.9,263.8 52.1,262.4 50.8,260.9 C49.6,259.5 48.2,257.4 48.1,255.6 C48.0,253.8 50.2,251.7 50.0,249.9 C49.8,248.1 47.8,246.5 47.1,244.7 C46.4,242.8 46.7,240.4 45.7,238.8 C44.6,237.3 42.0,236.8 40.8,235.4 C39.5,233.9 38.5,230.9 38.1,230.0" stroke="#ded0b3" stroke-width="1.09" fill="none" stroke-linecap="round" stroke-linejoin="round" />
<path d="M36.1,194.7 C36.0,195.3 35.4,197.1 35.3,198.2 C35.3,199.4 35.8,200.9 35.9,201.4" stroke="#d0bf9e" stroke-width="3.27" fill="none" stroke-linecap="round" stroke-linejoin="round" />
<path d="M36.1,194.7 C36.0,195.3 35.4,197.1 35.3,198.2 C35.3,199.4 35.8,200.9 35.9,201.4" stroke="#f4ead4" stroke-width="2.47" fill="none" stroke-linecap="round" stroke-linejoin="round" />
<path d="M35.9,201.4 C35.7,200.9 35.4,199.3 34.8,198.4 C34.2,197.4 32.8,196.1 32.4,195.7" stroke="#d0bf9e" stroke-width="1.11" fill="none" stroke-linecap="round" stroke-linejoin="round" />
<path d="M32.4,195.7 C32.3,196.3 31.7,198.1 31.7,199.2 C31.7,200.3 32.1,201.9 32.2,202.4" stroke="#d0bf9e" stroke-width="3.27" fill="none" stroke-linecap="round" stroke-linejoin="round" />
<path d="M32.4,195.7 C32.3,196.3 31.7,198.1 31.7,199.2 C31.7,200.3 32.1,201.9 32.2,202.4" stroke="#f4ead4" stroke-width="2.47" fill="none" stroke-linecap="round" stroke-linejoin="round" />
<path d="M32.2,202.4 C32.0,201.9 31.7,200.3 31.1,199.4 C30.6,198.4 29.2,197.1 28.8,196.7" stroke="#d0bf9e" stroke-width="1.11" fill="none" stroke-linecap="round" stroke-linejoin="round" />
<path d="M28.8,196.7 C28.6,197.2 28.1,199.1 28.0,200.2 C28.0,201.3 28.5,202.8 28.6,203.3" stroke="#d0bf9e" stroke-width="3.27" fill="none" stroke-linecap="round" stroke-linejoin="round" />
<path d="M28.8,196.7 C28.6,197.2 28.1,199.1 28.0,200.2 C28.0,201.3 28.5,202.8 28.6,203.3" stroke="#f4ead4" stroke-width="2.47" fill="none" stroke-linecap="round" stroke-linejoin="round" />
<path d="M30.7,219.6 C30.1,219.8 28.3,220.3 27.4,220.9 C26.4,221.4 25.4,222.7 25.0,223.0" stroke="#d0bf9e" stroke-width="3.79" fill="none" stroke-linecap="round" stroke-linejoin="round" />
<path d="M30.7,219.6 C30.1,219.8 28.3,220.3 27.4,220.9 C26.4,221.4 25.4,222.7 25.0,223.0" stroke="#f4ead4" stroke-width="2.99" fill="none" stroke-linecap="round" stroke-linejoin="round" />
<path d="M25.0,223.0 C25.4,222.6 26.5,221.5 27.0,220.5 C27.5,219.5 27.8,217.7 28.0,217.1" stroke="#d0bf9e" stroke-width="1.34" fill="none" stroke-linecap="round" stroke-linejoin="round" />
<path d="M28.0,217.1 C27.4,217.3 25.6,217.8 24.7,218.4 C23.7,219.0 22.7,220.2 22.3,220.5" stroke="#d0bf9e" stroke-width="3.79" fill="none" stroke-linecap="round" stroke-linejoin="round" />
<path d="M28.0,217.1 C27.4,217.3 25.6,217.8 24.7,218.4 C23.7,219.0 22.7,220.2 22.3,220.5" stroke="#f4ead4" stroke-width="2.99" fill="none" stroke-linecap="round" stroke-linejoin="round" />
<path d="M22.3,220.5 C22.7,220.1 23.8,219.0 24.3,218.0 C24.8,217.0 25.1,215.2 25.3,214.6" stroke="#d0bf9e" stroke-width="1.34" fill="none" stroke-linecap="round" stroke-linejoin="round" />
<path d="M47.1,186.0 C47.7,186.9 49.3,189.4 50.5,191.0 C51.8,192.5 53.2,194.0 54.7,195.3 C56.2,196.6 59.5,197.8 59.5,198.9 C59.4,200.0 56.0,201.8 54.3,201.9 C52.5,201.9 50.8,199.9 48.9,199.2 C47.0,198.6 44.9,197.7 43.0,197.9 C41.1,198.2 39.0,199.3 37.6,200.6 C36.2,201.9 35.1,204.9 34.6,205.8" stroke="#cbb791" stroke-width="0.95" fill="none" stroke-linecap="round" stroke-linejoin="round" />
<path d="M19.8,207.6 C20.4,207.5 22.3,207.3 23.4,206.9 C24.4,206.6 25.8,205.6 26.2,205.3" stroke="#c4ae88" stroke-width="3.60" fill="none" stroke-linecap="round" stroke-linejoin="round" />
<path d="M19.8,207.6 C20.4,207.5 22.3,207.3 23.4,206.9 C24.4,206.6 25.8,205.6 26.2,205.3" stroke="#efe2c4" stroke-width="2.80" fill="none" stroke-linecap="round" stroke-linejoin="round" />
<path d="M26.2,205.3 C25.8,205.6 24.4,206.5 23.6,207.4 C22.9,208.2 22.0,209.9 21.7,210.4" stroke="#c4ae88" stroke-width="1.26" fill="none" stroke-linecap="round" stroke-linejoin="round" />
<path d="M21.7,210.4 C22.3,210.3 24.2,210.1 25.2,209.7 C26.3,209.3 27.6,208.4 28.1,208.1" stroke="#c4ae88" stroke-width="3.60" fill="none" stroke-linecap="round" stroke-linejoin="round" />
<path d="M21.7,210.4 C22.3,210.3 24.2,210.1 25.2,209.7 C26.3,209.3 27.6,208.4 28.1,208.1" stroke="#efe2c4" stroke-width="2.80" fill="none" stroke-linecap="round" stroke-linejoin="round" />
<path d="M28.1,208.1 C27.7,208.4 26.3,209.3 25.5,210.1 C24.8,211.0 23.9,212.7 23.6,213.2" stroke="#c4ae88" stroke-width="1.26" fill="none" stroke-linecap="round" stroke-linejoin="round" />
<path d="M23.6,213.2 C24.2,213.1 26.0,212.9 27.1,212.5 C28.2,212.1 29.5,211.1 30.0,210.9" stroke="#c4ae88" stroke-width="3.60" fill="none" stroke-linecap="round" stroke-linejoin="round" />
<path d="M23.6,213.2 C24.2,213.1 26.0,212.9 27.1,212.5 C28.2,212.1 29.5,211.1 30.0,210.9" stroke="#efe2c4" stroke-width="2.80" fill="none" stroke-linecap="round" stroke-linejoin="round" />
<path d="M30.0,210.9 C29.6,211.2 28.2,212.1 27.4,212.9 C26.6,213.8 25.8,215.5 25.5,216.0" stroke="#c4ae88" stroke-width="1.26" fill="none" stroke-linecap="round" stroke-linejoin="round" />
<path d="M25.5,216.0 C26.0,215.9 27.9,215.7 29.0,215.3 C30.1,214.9 31.4,213.9 31.9,213.7" stroke="#c4ae88" stroke-width="3.60" fill="none" stroke-linecap="round" stroke-linejoin="round" />
<path d="M25.5,216.0 C26.0,215.9 27.9,215.7 29.0,215.3 C30.1,214.9 31.4,213.9 31.9,213.7" stroke="#efe2c4" stroke-width="2.80" fill="none" stroke-linecap="round" stroke-linejoin="round" />
<path d="M31.9,213.7 C31.4,214.0 30.0,214.9 29.3,215.7 C28.5,216.6 27.7,218.2 27.3,218.8" stroke="#c4ae88" stroke-width="1.26" fill="none" stroke-linecap="round" stroke-linejoin="round" />
<path d="M16.5,222.3 C17.1,222.4 18.8,222.8 19.8,222.8 C20.9,222.8 22.3,222.2 22.8,222.1" stroke="#c4ae88" stroke-width="3.48" fill="none" stroke-linecap="round" stroke-linejoin="round" />
<path d="M16.5,222.3 C17.1,222.4 18.8,222.8 19.8,222.8 C20.9,222.8 22.3,222.2 22.8,222.1" stroke="#efe2c4" stroke-width="2.68" fill="none" stroke-linecap="round" stroke-linejoin="round" />
<path d="M22.8,222.1 C22.3,222.3 20.9,222.7 20.0,223.4 C19.2,224.0 18.1,225.4 17.7,225.9" stroke="#c4ae88" stroke-width="1.21" fill="none" stroke-linecap="round" stroke-linejoin="round" />
<path d="M17.7,225.9 C18.3,226.0 20.0,226.5 21.1,226.4 C22.1,226.4 23.5,225.8 24.0,225.7" stroke="#c4ae88" stroke-width="3.48" fill="none" stroke-linecap="round" stroke-linejoin="round" />
<path d="M17.7,225.9 C18.3,226.0 20.0,226.5 21.1,226.4 C22.1,226.4 23.5,225.8 24.0,225.7" stroke="#efe2c4" stroke-width="2.68" fill="none" stroke-linecap="round" stroke-linejoin="round" />
<path d="M24.0,225.7 C23.5,225.9 22.1,226.3 21.3,227.0 C20.4,227.6 19.3,229.1 19.0,229.5" stroke="#c4ae88" stroke-width="1.21" fill="none" stroke-linecap="round" stroke-linejoin="round" />
<path d="M19.0,229.5 C19.5,229.6 21.3,230.1 22.3,230.0 C23.4,230.0 24.7,229.5 25.2,229.3" stroke="#c4ae88" stroke-width="3.48" fill="none" stroke-linecap="round" stroke-linejoin="round" />
<path d="M19.0,229.5 C19.5,229.6 21.3,230.1 22.3,230.0 C23.4,230.0 24.7,229.5 25.2,229.3" stroke="#efe2c4" stroke-width="2.68" fill="none" stroke-linecap="round" stroke-linejoin="round" />
<path d="M51.2,223.2 C51.7,223.5 53.1,224.7 54.1,225.1 C55.0,225.6 56.6,225.9 57.1,226.0" stroke="#b8a27a" stroke-width="3.25" fill="none" stroke-linecap="round" stroke-linejoin="round" />
<path d="M51.2,223.2 C51.7,223.5 53.1,224.7 54.1,225.1 C55.0,225.6 56.6,225.9 57.1,226.0" stroke="#e8d8b4" stroke-width="2.45" fill="none" stroke-linecap="round" stroke-linejoin="round" />
<path d="M57.1,226.0 C56.6,225.9 55.1,225.6 54.0,225.6 C52.9,225.7 51.2,226.3 50.6,226.4" stroke="#b8a27a" stroke-width="1.10" fill="none" stroke-linecap="round" stroke-linejoin="round" />
<path d="M50.6,226.4 C51.1,226.7 52.5,227.9 53.4,228.4 C54.4,228.8 56.0,229.1 56.5,229.2" stroke="#b8a27a" stroke-width="3.25" fill="none" stroke-linecap="round" stroke-linejoin="round" />
<path d="M50.6,226.4 C51.1,226.7 52.5,227.9 53.4,228.4 C54.4,228.8 56.0,229.1 56.5,229.2" stroke="#e8d8b4" stroke-width="2.45" fill="none" stroke-linecap="round" stroke-linejoin="round" />
<path d="M56.5,229.2 C56.0,229.2 54.4,228.8 53.3,228.8 C52.2,228.9 50.5,229.5 50.0,229.6" stroke="#b8a27a" stroke-width="1.10" fill="none" stroke-linecap="round" stroke-linejoin="round" />
<path d="M50.0,229.6 C50.4,229.9 51.8,231.1 52.8,231.6 C53.8,232.1 55.3,232.3 55.8,232.4" stroke="#b8a27a" stroke-width="3.25" fill="none" stroke-linecap="round" stroke-linejoin="round" />
<path d="M50.0,229.6 C50.4,229.9 51.8,231.1 52.8,231.6 C53.8,232.1 55.3,232.3 55.8,232.4" stroke="#e8d8b4" stroke-width="2.45" fill="none" stroke-linecap="round" stroke-linejoin="round" />
<path d="M60.2,251.5 C59.5,250.9 57.4,248.6 55.8,247.5 C54.1,246.5 52.1,246.0 50.3,245.1 C48.5,244.2 46.1,243.6 45.0,242.2 C44.0,240.7 44.5,238.2 44.2,236.2 C43.8,234.3 43.9,232.0 43.1,230.3 C42.2,228.6 40.7,226.6 39.1,225.9 C37.4,225.2 34.7,227.0 33.1,226.3 C31.4,225.6 29.8,223.6 29.0,221.9 C28.2,220.1 28.7,217.9 28.2,215.9 C27.7,214.0 26.7,212.2 26.0,210.3 C25.3,208.5 24.4,205.6 24.1,204.6" stroke="#cbb791" stroke-width="1.01" fill="none" stroke-linecap="round" stroke-linejoin="round" />
<path d="M46.6,249.7 C46.7,248.7 47.4,245.7 47.2,243.7 C47.0,241.8 46.6,239.6 45.7,237.9 C44.7,236.2 42.3,235.2 41.6,233.5 C40.9,231.8 41.6,229.5 41.6,227.5 C41.6,225.5 41.5,223.5 41.8,221.5 C42.1,219.6 42.3,217.0 43.6,215.8 C44.9,214.6 47.7,215.1 49.4,214.1 C51.1,213.2 52.3,211.4 53.8,210.1 C55.3,208.8 57.5,207.9 58.5,206.3 C59.4,204.7 59.4,201.4 59.6,200.4" stroke="#ded0b3" stroke-width="0.70" fill="none" stroke-linecap="round" stroke-linejoin="round" />
<path d="M81.2,254.2 C81.8,255.0 84.9,258.1 84.5,259.2 C84.1,260.3 80.7,260.4 78.7,260.9 C76.8,261.3 74.8,261.7 72.9,262.0 C70.9,262.4 68.8,263.4 67.0,263.1 C65.1,262.9 63.4,260.9 61.5,260.6 C59.6,260.4 57.6,261.7 55.6,261.7 C53.6,261.7 51.4,261.5 49.7,260.6 C48.0,259.8 46.8,257.8 45.3,256.6 C43.7,255.3 42.2,253.4 40.4,253.1 C38.6,252.8 35.6,254.6 34.7,254.9" stroke="#d5c2a0" stroke-width="0.95" fill="none" stroke-linecap="round" stroke-linejoin="round" />
<path d="M56.1,263.2 C57.0,262.9 59.8,261.7 61.8,261.4 C63.7,261.2 66.0,262.5 67.8,261.9 C69.5,261.3 71.0,259.4 72.3,258.0 C73.7,256.5 74.8,254.8 75.9,253.2 C77.1,251.5 77.6,249.0 79.2,248.1 C80.7,247.2 84.2,247.8 85.2,247.7" stroke="#cbb791" stroke-width="1.20" fill="none" stroke-linecap="round" stroke-linejoin="round" />
<path d="M44.9,244.4 C45.5,244.1 47.2,243.5 48.2,242.9 C49.1,242.3 50.1,241.0 50.5,240.6" stroke="#c4ae88" stroke-width="3.68" fill="none" stroke-linecap="round" stroke-linejoin="round" />
<path d="M44.9,244.4 C45.5,244.1 47.2,243.5 48.2,242.9 C49.1,242.3 50.1,241.0 50.5,240.6" stroke="#efe2c4" stroke-width="2.88" fill="none" stroke-linecap="round" stroke-linejoin="round" />
<path d="M50.5,240.6 C50.2,241.0 49.1,242.2 48.6,243.2 C48.1,244.2 47.8,246.1 47.6,246.7" stroke="#c4ae88" stroke-width="1.29" fill="none" stroke-linecap="round" stroke-linejoin="round" />
<path d="M47.6,246.7 C48.1,246.4 49.9,245.8 50.9,245.2 C51.8,244.6 52.8,243.3 53.2,242.9" stroke="#c4ae88" stroke-width="3.68" fill="none" stroke-linecap="round" stroke-linejoin="round" />
<path d="M47.6,246.7 C48.1,246.4 49.9,245.8 50.9,245.2 C51.8,244.6 52.8,243.3 53.2,242.9" stroke="#efe2c4" stroke-width="2.88" fill="none" stroke-linecap="round" stroke-linejoin="round" />
<path d="M53.2,242.9 C52.9,243.3 51.7,244.5 51.3,245.5 C50.8,246.6 50.4,248.4 50.3,249.0" stroke="#c4ae88" stroke-width="1.29" fill="none" stroke-linecap="round" stroke-linejoin="round" />
<path d="M50.3,249.0 C50.8,248.7 52.6,248.1 53.5,247.5 C54.5,246.9 55.5,245.6 55.9,245.2" stroke="#c4ae88" stroke-width="3.68" fill="none" stroke-linecap="round" stroke-linejoin="round" />
<path d="M50.3,249.0 C50.8,248.7 52.6,248.1 53.5,247.5 C54.5,246.9 55.5,245.6 55.9,245.2" stroke="#efe2c4" stroke-width="2.88" fill="none" stroke-linecap="round" stroke-linejoin="round" />
<path d="M55.9,245.2 C55.6,245.7 54.4,246.8 53.9,247.9 C53.5,248.9 53.1,250.7 53.0,251.3" stroke="#c4ae88" stroke-width="1.29" fill="none" stroke-linecap="round" stroke-linejoin="round" />
<path d="M53.0,251.3 C53.5,251.1 55.3,250.5 56.2,249.8 C57.2,249.2 58.2,247.9 58.6,247.5" stroke="#c4ae88" stroke-width="3.68" fill="none" stroke-linecap="round" stroke-linejoin="round" />
<path d="M53.0,251.3 C53.5,251.1 55.3,250.5 56.2,249.8 C57.2,249.2 58.2,247.9 58.6,247.5" stroke="#efe2c4" stroke-width="2.88" fill="none" stroke-linecap="round" stroke-linejoin="round" />
<path d="M71.5,257.2 C71.6,257.7 71.9,259.4 72.3,260.2 C72.7,261.1 73.7,262.0 74.0,262.3" stroke="#c4ae88" stroke-width="3.27" fill="none" stroke-linecap="round" stroke-linejoin="round" />
<path d="M71.5,257.2 C71.6,257.7 71.9,259.4 72.3,260.2 C72.7,261.1 73.7,262.0 74.0,262.3" stroke="#efe2c4" stroke-width="2.47" fill="none" stroke-linecap="round" stroke-linejoin="round" />
<path d="M74.0,262.3 C73.7,262.0 72.8,261.0 71.9,260.6 C71.1,260.2 69.4,259.9 68.9,259.7" stroke="#c4ae88" stroke-width="1.11" fill="none" stroke-linecap="round" stroke-linejoin="round" />
<path d="M68.9,259.7 C69.1,260.2 69.3,261.9 69.7,262.7 C70.2,263.6 71.2,264.5 71.4,264.8" stroke="#c4ae88" stroke-width="3.27" fill="none" stroke-linecap="round" stroke-linejoin="round" />
<path d="M68.9,259.7 C69.1,260.2 69.3,261.9 69.7,262.7 C70.2,263.6 71.2,264.5 71.4,264.8" stroke="#efe2c4" stroke-width="2.47" fill="none" stroke-linecap="round" stroke-linejoin="round" />
<path d="M71.4,264.8 C71.1,264.6 70.2,263.5 69.4,263.1 C68.5,262.7 66.9,262.4 66.4,262.3" stroke="#c4ae88" stroke-width="1.11" fill="none" stroke-linecap="round" stroke-linejoin="round" />
<path d="M66.4,262.3 C66.5,262.8 66.8,264.4 67.2,265.3 C67.6,266.1 68.6,267.0 68.9,267.4" stroke="#c4ae88" stroke-width="3.27" fill="none" stroke-linecap="round" stroke-linejoin="round" />
<path d="M66.4,262.3 C66.5,262.8 66.8,264.4 67.2,265.3 C67.6,266.1 68.6,267.0 68.9,267.4" stroke="#efe2c4" stroke-width="2.47" fill="none" stroke-linecap="round" stroke-linejoin="round" />
<path d="M68.9,267.4 C68.5,267.1 67.6,266.1 66.8,265.6 C66.0,265.2 64.3,264.9 63.8,264.8" stroke="#c4ae88" stroke-width="1.11" fill="none" stroke-linecap="round" stroke-linejoin="round" />
<path d="M46.3,236.1 C46.4,236.6 46.6,238.3 47.0,239.2 C47.4,240.0 48.4,240.9 48.7,241.3" stroke="#b8a27a" stroke-width="3.22" fill="none" stroke-linecap="round" stroke-linejoin="round" />
<path d="M46.3,236.1 C46.4,236.6 46.6,238.3 47.0,239.2 C47.4,240.0 48.4,240.9 48.7,241.3" stroke="#e8d8b4" stroke-width="2.42" fill="none" stroke-linecap="round" stroke-linejoin="round" />
<path d="M48.7,241.3 C48.4,241.0 47.5,240.0 46.6,239.6 C45.7,239.1 44.0,238.9 43.5,238.8" stroke="#b8a27a" stroke-width="1.09" fill="none" stroke-linecap="round" stroke-linejoin="round" />
<path d="M43.5,238.8 C43.6,239.3 43.8,241.0 44.2,241.9 C44.6,242.7 45.7,243.7 45.9,244.0" stroke="#b8a27a" stroke-width="3.22" fill="none" stroke-linecap="round" stroke-linejoin="round" />
<path d="M43.5,238.8 C43.6,239.3 43.8,241.0 44.2,241.9 C44.6,242.7 45.7,243.7 45.9,244.0" stroke="#e8d8b4" stroke-width="2.42" fill="none" stroke-linecap="round" stroke-linejoin="round" />
<path d="M45.9,244.0 C45.6,243.7 44.7,242.7 43.8,242.3 C43.0,241.9 41.3,241.6 40.8,241.5" stroke="#b8a27a" stroke-width="1.09" fill="none" stroke-linecap="round" stroke-linejoin="round" />
<path d="M54.2,235.6 C54.9,236.4 56.6,239.2 58.3,240.0 C59.9,240.8 62.3,240.1 64.2,240.5 C66.2,241.0 68.0,242.5 69.9,242.6 C71.8,242.6 74.0,241.9 75.6,240.8 C77.2,239.8 79.0,237.9 79.3,236.1 C79.7,234.4 78.3,232.2 77.7,230.3 C77.1,228.4 76.1,225.6 75.7,224.7" stroke="#cbb791" stroke-width="1.12" fill="none" stroke-linecap="round" stroke-linejoin="round" />
<path d="M25.7,180.9 C25.8,181.9 26.2,184.9 26.4,186.9 C26.6,188.9 27.1,190.9 27.0,192.8 C26.8,194.8 26.6,197.0 25.7,198.7 C24.9,200.4 22.2,203.4 21.7,203.2 C21.2,202.9 22.9,199.3 23.0,197.3 C23.0,195.3 22.6,193.3 22.2,191.3 C21.8,189.4 20.7,186.6 20.4,185.6" stroke="#d5c2a0" stroke-width="0.94" fill="none" stroke-linecap="round" stroke-linejoin="round" />
<path d="M71.9,266.4 C70.9,266.2 67.2,266.3 66.0,265.2 C64.9,264.0 65.4,261.2 65.0,259.3 C64.5,257.3 63.7,255.5 63.2,253.5 C62.8,251.6 62.3,248.6 62.1,247.6" stroke="#d5c2a0" stroke-width="0.82" fill="none" stroke-linecap="round" stroke-linejoin="round" />
<path d="M43.6,204.4 C44.1,205.3 45.2,208.1 46.4,209.7 C47.6,211.3 49.2,212.6 50.6,214.0 C52.0,215.5 53.1,217.5 54.8,218.3 C56.5,219.1 58.9,218.2 60.8,218.8 C62.6,219.4 65.0,220.2 66.0,221.7 C67.0,223.2 66.4,225.7 66.5,227.7 C66.7,229.7 67.2,231.8 66.9,233.7 C66.6,235.6 65.9,237.8 64.7,239.3 C63.5,240.7 60.4,241.8 59.5,242.3" stroke="#d5c2a0" stroke-width="0.82" fill="none" stroke-linecap="round" stroke-linejoin="round" />
<path d="M90.8,234.4 C91.3,235.3 94.4,238.8 94.0,239.5 C93.5,240.2 89.5,239.8 88.0,238.8 C86.4,237.9 86.0,235.3 84.6,233.8 C83.3,232.4 81.6,231.2 80.0,230.0 C78.5,228.7 77.0,226.9 75.2,226.5 C73.4,226.0 70.9,227.8 69.2,227.2 C67.6,226.6 66.8,223.6 65.1,222.8 C63.5,222.0 60.8,223.1 59.2,222.3 C57.6,221.4 56.6,219.2 55.4,217.6 C54.3,215.9 53.1,214.3 52.1,212.6 C51.1,210.8 49.9,208.1 49.5,207.2" stroke="#d5c2a0" stroke-width="1.04" fill="none" stroke-linecap="round" stroke-linejoin="round" />
<path d="M38.4,259.8 C39.3,260.2 42.6,262.4 44.0,261.9 C45.4,261.3 45.3,257.8 46.6,256.5 C48.0,255.2 51.1,254.3 52.0,253.9" stroke="#cbb791" stroke-width="0.81" fill="none" stroke-linecap="round" stroke-linejoin="round" />
<path d="M23.8,194.3 C23.2,194.1 21.6,193.1 20.5,192.8 C19.4,192.5 17.8,192.5 17.2,192.5" stroke="#d0bf9e" stroke-width="3.49" fill="none" stroke-linecap="round" stroke-linejoin="round" />
<path d="M23.8,194.3 C23.2,194.1 21.6,193.1 20.5,192.8 C19.4,192.5 17.8,192.5 17.2,192.5" stroke="#f4ead4" stroke-width="2.69" fill="none" stroke-linecap="round" stroke-linejoin="round" />
<path d="M17.2,192.5 C17.8,192.4 19.4,192.6 20.5,192.3 C21.6,192.1 23.3,191.3 23.9,191.1" stroke="#d0bf9e" stroke-width="1.21" fill="none" stroke-linecap="round" stroke-linejoin="round" />
<path d="M23.9,191.1 C23.4,190.9 21.7,189.9 20.6,189.6 C19.6,189.3 17.9,189.3 17.3,189.2" stroke="#d0bf9e" stroke-width="3.49" fill="none" stroke-linecap="round" stroke-linejoin="round" />
<path d="M23.9,191.1 C23.4,190.9 21.7,189.9 20.6,189.6 C19.6,189.3 17.9,189.3 17.3,189.2" stroke="#f4ead4" stroke-width="2.69" fill="none" stroke-linecap="round" stroke-linejoin="round" />
<path d="M17.3,189.2 C17.9,189.2 19.5,189.3 20.7,189.1 C21.8,188.9 23.5,188.1 24.0,187.9" stroke="#d0bf9e" stroke-width="1.21" fill="none" stroke-linecap="round" stroke-linejoin="round" />
<path d="M24.0,187.9 C23.5,187.6 21.9,186.7 20.8,186.4 C19.7,186.1 18.0,186.1 17.5,186.0" stroke="#d0bf9e" stroke-width="3.49" fill="none" stroke-linecap="round" stroke-linejoin="round" />
<path d="M24.0,187.9 C23.5,187.6 21.9,186.7 20.8,186.4 C19.7,186.1 18.0,186.1 17.5,186.0" stroke="#f4ead4" stroke-width="2.69" fill="none" stroke-linecap="round" stroke-linejoin="round" />
<path d="M17.5,186.0 C18.0,186.0 19.7,186.1 20.8,185.9 C21.9,185.7 23.6,184.8 24.1,184.6" stroke="#d0bf9e" stroke-width="1.21" fill="none" stroke-linecap="round" stroke-linejoin="round" />
<path d="M24.1,184.6 C23.6,184.4 22.0,183.5 20.9,183.1 C19.8,182.8 18.1,182.8 17.6,182.8" stroke="#d0bf9e" stroke-width="3.49" fill="none" stroke-linecap="round" stroke-linejoin="round" />
<path d="M24.1,184.6 C23.6,184.4 22.0,183.5 20.9,183.1 C19.8,182.8 18.1,182.8 17.6,182.8" stroke="#f4ead4" stroke-width="2.69" fill="none" stroke-linecap="round" stroke-linejoin="round" />
<path d="M17.6,182.8 C18.1,182.8 19.8,182.9 20.9,182.7 C22.0,182.4 23.7,181.6 24.3,181.4" stroke="#d0bf9e" stroke-width="1.21" fill="none" stroke-linecap="round" stroke-linejoin="round" />
<path d="M20.2,180.3 C20.9,180.5 22.8,181.3 24.1,181.5 C25.4,181.7 27.3,181.5 27.9,181.5" stroke="#a89068" stroke-width="3.40" fill="none" stroke-linecap="round" stroke-linejoin="round" />
<path d="M20.2,180.3 C20.9,180.5 22.8,181.3 24.1,181.5 C25.4,181.7 27.3,181.5 27.9,181.5" stroke="#efe2c4" stroke-width="2.60" fill="none" stroke-linecap="round" stroke-linejoin="round" />
<path d="M27.9,181.5 C27.3,181.6 25.4,181.6 24.1,182.0 C22.9,182.4 21.1,183.5 20.5,183.8" stroke="#b8a07a" stroke-width="1.17" fill="none" stroke-linecap="round" stroke-linejoin="round" />
<path d="M20.5,183.8 C21.1,184.0 23.1,184.8 24.4,185.0 C25.6,185.2 27.5,185.0 28.2,185.0" stroke="#a89068" stroke-width="3.40" fill="none" stroke-linecap="round" stroke-linejoin="round" />
<path d="M20.5,183.8 C21.1,184.0 23.1,184.8 24.4,185.0 C25.6,185.2 27.5,185.0 28.2,185.0" stroke="#efe2c4" stroke-width="2.60" fill="none" stroke-linecap="round" stroke-linejoin="round" />
<path d="M28.2,185.0 C27.5,185.1 25.6,185.1 24.4,185.5 C23.2,185.9 21.3,187.0 20.7,187.3" stroke="#b8a07a" stroke-width="1.17" fill="none" stroke-linecap="round" stroke-linejoin="round" />
<path d="M20.7,187.3 C21.4,187.5 23.3,188.3 24.6,188.5 C25.9,188.7 27.8,188.5 28.4,188.5" stroke="#a89068" stroke-width="3.40" fill="none" stroke-linecap="round" stroke-linejoin="round" />
<path d="M20.7,187.3 C21.4,187.5 23.3,188.3 24.6,188.5 C25.9,188.7 27.8,188.5 28.4,188.5" stroke="#efe2c4" stroke-width="2.60" fill="none" stroke-linecap="round" stroke-linejoin="round" />
<path d="M28.4,188.5 C27.8,188.6 25.9,188.6 24.6,189.0 C23.4,189.4 21.6,190.5 21.0,190.8" stroke="#b8a07a" stroke-width="1.17" fill="none" stroke-linecap="round" stroke-linejoin="round" />
<path d="M21.0,190.8 C21.6,191.0 23.6,191.8 24.9,192.0 C26.1,192.2 28.0,192.0 28.7,192.0" stroke="#a89068" stroke-width="3.40" fill="none" stroke-linecap="round" stroke-linejoin="round" />
<path d="M21.0,190.8 C21.6,191.0 23.6,191.8 24.9,192.0 C26.1,192.2 28.0,192.0 28.7,192.0" stroke="#efe2c4" stroke-width="2.60" fill="none" stroke-linecap="round" stroke-linejoin="round" />
<path d="M28.7,192.0 C28.0,192.1 26.1,192.1 24.9,192.5 C23.7,192.9 21.8,194.0 21.2,194.3" stroke="#b8a07a" stroke-width="1.17" fill="none" stroke-linecap="round" stroke-linejoin="round" />
<path d="M21.2,194.3 C21.9,194.5 23.8,195.3 25.1,195.5 C26.4,195.7 28.3,195.5 28.9,195.5" stroke="#a89068" stroke-width="3.40" fill="none" stroke-linecap="round" stroke-linejoin="round" />
<path d="M21.2,194.3 C21.9,194.5 23.8,195.3 25.1,195.5 C26.4,195.7 28.3,195.5 28.9,195.5" stroke="#efe2c4" stroke-width="2.60" fill="none" stroke-linecap="round" stroke-linejoin="round" />
<path d="M28.9,195.5 C28.3,195.6 26.4,195.6 25.1,196.0 C23.9,196.4 22.1,197.5 21.5,197.8" stroke="#b8a07a" stroke-width="1.17" fill="none" stroke-linecap="round" stroke-linejoin="round" />
<path d="M21.5,197.8 C22.1,198.0 24.1,198.8 25.4,199.0 C26.6,199.2 28.5,199.0 29.2,199.0" stroke="#a89068" stroke-width="3.40" fill="none" stroke-linecap="round" stroke-linejoin="round" />
<path d="M21.5,197.8 C22.1,198.0 24.1,198.8 25.4,199.0 C26.6,199.2 28.5,199.0 29.2,199.0" stroke="#efe2c4" stroke-width="2.60" fill="none" stroke-linecap="round" stroke-linejoin="round" />
<path d="M29.2,199.0 C28.5,199.1 26.6,199.1 25.4,199.5 C24.2,199.9 22.3,201.0 21.7,201.3" stroke="#b8a07a" stroke-width="1.17" fill="none" stroke-linecap="round" stroke-linejoin="round" />
<path d="M21.7,201.3 C22.4,201.5 24.3,202.3 25.6,202.5 C26.9,202.7 28.8,202.5 29.4,202.5" stroke="#a89068" stroke-width="3.40" fill="none" stroke-linecap="round" stroke-linejoin="round" />
<path d="M21.7,201.3 C22.4,201.5 24.3,202.3 25.6,202.5 C26.9,202.7 28.8,202.5 29.4,202.5" stroke="#efe2c4" stroke-width="2.60" fill="none" stroke-linecap="round" stroke-linejoin="round" />
<path d="M29.4,202.5 C28.8,202.6 26.9,202.6 25.6,203.0 C24.4,203.4 22.6,204.5 22.0,204.8" stroke="#b8a07a" stroke-width="1.17" fill="none" stroke-linecap="round" stroke-linejoin="round" />
<path d="M22.0,204.8 C22.6,205.0 24.6,205.8 25.9,206.0 C27.1,206.2 29.0,206.0 29.7,206.0" stroke="#a89068" stroke-width="3.40" fill="none" stroke-linecap="round" stroke-linejoin="round" />
<path d="M22.0,204.8 C22.6,205.0 24.6,205.8 25.9,206.0 C27.1,206.2 29.0,206.0 29.7,206.0" stroke="#efe2c4" stroke-width="2.60" fill="none" stroke-linecap="round" stroke-linejoin="round" />
<path d="M29.7,206.0 C29.0,206.1 27.1,206.1 25.9,206.5 C24.7,206.9 22.8,208.0 22.2,208.3" stroke="#b8a07a" stroke-width="1.17" fill="none" stroke-linecap="round" stroke-linejoin="round" />
<path d="M130.0,210.0 C131.3,211.7 135.7,215.7 138.0,220.0 C140.3,224.3 142.0,231.0 144.0,236.0 C146.0,241.0 149.3,245.7 150.0,250.0 C150.7,254.3 149.0,259.0 148.0,262.0 C147.0,265.0 144.7,267.0 144.0,268.0" stroke="#b4bbb4" stroke-width="0.90" fill="none" stroke-linecap="round" stroke-linejoin="round" />
<path d="M40.0,232.0 C40.8,234.7 43.8,243.3 45.0,248.0 C46.2,252.7 46.7,258.0 47.0,260.0" stroke="#c0ae8c" stroke-width="4.00" fill="none" stroke-linecap="round" stroke-linejoin="round" />
<path d="M40.0,232.0 C40.8,234.7 43.8,243.3 45.0,248.0 C46.2,252.7 46.7,258.0 47.0,260.0" stroke="#f2e8d2" stroke-width="3.20" fill="none" stroke-linecap="round" stroke-linejoin="round" />
<path d="M48.0,230.0 C48.8,232.7 51.8,241.3 53.0,246.0 C54.2,250.7 54.7,256.0 55.0,258.0" stroke="#c0ae8c" stroke-width="4.00" fill="none" stroke-linecap="round" stroke-linejoin="round" />
<path d="M48.0,230.0 C48.8,232.7 51.8,241.3 53.0,246.0 C54.2,250.7 54.7,256.0 55.0,258.0" stroke="#f2e8d2" stroke-width="3.20" fill="none" stroke-linecap="round" stroke-linejoin="round" />
<path d="M85.9,241.7 C87.0,241.5 91.0,240.2 92.3,240.6 C93.5,241.0 94.5,243.2 93.4,243.9 C92.3,244.6 87.5,244.5 85.9,245.0 C84.3,245.5 84.3,246.7 84.0,247.0" stroke="#c88420" stroke-width="2.50" fill="none" stroke-linecap="round" stroke-linejoin="round" />
<path d="M85.9,241.7 C87.0,241.5 91.0,240.2 92.3,240.6 C93.5,241.0 94.5,243.2 93.4,243.9 C92.3,244.6 87.5,244.5 85.9,245.0 C84.3,245.5 84.3,246.7 84.0,247.0" stroke="#e09418" stroke-width="2.00" fill="none" stroke-linecap="round" stroke-linejoin="round" />
<path d="M92.3,252.5 C92.5,253.9 94.1,259.1 93.4,261.1 C92.7,263.1 88.9,263.8 88.0,264.4" stroke="#e09418" stroke-width="1.30" fill="none" stroke-linecap="round" stroke-linejoin="round" />
<line x1="92.30" y1="219.00" x2="97.70" y2="224.50" stroke="#c23ee0" stroke-width="1.3" />
<line x1="97.70" y1="224.50" x2="105.30" y2="225.60" stroke="#c23ee0" stroke-width="1.3" />
<line x1="105.30" y1="225.60" x2="113.90" y2="228.80" stroke="#c23ee0" stroke-width="1.3" />
<line x1="113.90" y1="228.80" x2="118.00" y2="229.00" stroke="#c23ee0" stroke-width="1.3" />
<line x1="97.70" y1="224.50" x2="99.00" y2="232.00" stroke="#c23ee0" stroke-width="1.3" />
<line x1="99.00" y1="232.00" x2="98.80" y2="238.50" stroke="#c23ee0" stroke-width="1.3" />
<line x1="98.80" y1="238.50" x2="101.00" y2="241.00" stroke="#c23ee0" stroke-width="1.3" />
<line x1="106.30" y1="228.80" x2="104.00" y2="234.00" stroke="#c23ee0" stroke-width="1.3" />
<circle cx="92.3" cy="219" r="2.0" fill="none" stroke="#c23ee0" stroke-width="1.2"/>
<circle cx="98.5" cy="224.5" r="2.0" fill="none" stroke="#c23ee0" stroke-width="1.2"/>
<circle cx="105.3" cy="225.6" r="2.0" fill="none" stroke="#c23ee0" stroke-width="1.2"/>
<circle cx="113.9" cy="228.8" r="2.0" fill="none" stroke="#c23ee0" stroke-width="1.2"/>
<circle cx="98.8" cy="238.5" r="2.0" fill="none" stroke="#c23ee0" stroke-width="1.2"/>
<path d="M121.6,343.1 C121.4,343.6 120.9,345.1 120.8,346.1 C120.7,347.0 121.0,348.4 121.1,348.8" stroke="#bec4be" stroke-width="3.46" fill="none" stroke-linecap="round" stroke-linejoin="round" />
<path d="M121.6,343.1 C121.4,343.6 120.9,345.1 120.8,346.1 C120.7,347.0 121.0,348.4 121.1,348.8" stroke="#eef1ee" stroke-width="2.66" fill="none" stroke-linecap="round" stroke-linejoin="round" />
<path d="M121.1,348.8 C121.0,348.4 120.8,347.0 120.3,346.2 C119.9,345.3 118.7,344.1 118.4,343.7" stroke="#bec4be" stroke-width="1.20" fill="none" stroke-linecap="round" stroke-linejoin="round" />
<path d="M118.4,343.7 C118.3,344.2 117.7,345.7 117.6,346.7 C117.6,347.7 117.9,349.0 118.0,349.5" stroke="#bec4be" stroke-width="3.46" fill="none" stroke-linecap="round" stroke-linejoin="round" />
<path d="M118.4,343.7 C118.3,344.2 117.7,345.7 117.6,346.7 C117.6,347.7 117.9,349.0 118.0,349.5" stroke="#eef1ee" stroke-width="2.66" fill="none" stroke-linecap="round" stroke-linejoin="round" />
<path d="M118.0,349.5 C117.8,349.0 117.6,347.7 117.2,346.8 C116.7,345.9 115.6,344.8 115.3,344.3" stroke="#bec4be" stroke-width="1.20" fill="none" stroke-linecap="round" stroke-linejoin="round" />
<path d="M115.3,344.3 C115.2,344.8 114.6,346.4 114.5,347.3 C114.4,348.3 114.8,349.7 114.8,350.1" stroke="#bec4be" stroke-width="3.46" fill="none" stroke-linecap="round" stroke-linejoin="round" />
<path d="M115.3,344.3 C115.2,344.8 114.6,346.4 114.5,347.3 C114.4,348.3 114.8,349.7 114.8,350.1" stroke="#eef1ee" stroke-width="2.66" fill="none" stroke-linecap="round" stroke-linejoin="round" />
<path d="M78.2,334.1 C78.2,333.5 78.4,331.6 78.3,330.5 C78.1,329.4 77.4,328.0 77.2,327.5" stroke="#b4bab4" stroke-width="3.58" fill="none" stroke-linecap="round" stroke-linejoin="round" />
<path d="M78.2,334.1 C78.2,333.5 78.4,331.6 78.3,330.5 C78.1,329.4 77.4,328.0 77.2,327.5" stroke="#e6eae6" stroke-width="2.78" fill="none" stroke-linecap="round" stroke-linejoin="round" />
<path d="M77.2,327.5 C77.5,328.0 78.1,329.5 78.8,330.3 C79.5,331.1 81.1,332.2 81.5,332.5" stroke="#b4bab4" stroke-width="1.25" fill="none" stroke-linecap="round" stroke-linejoin="round" />
<path d="M81.5,332.5 C81.5,332.0 81.8,330.1 81.6,329.0 C81.5,327.9 80.7,326.5 80.6,326.0" stroke="#b4bab4" stroke-width="3.58" fill="none" stroke-linecap="round" stroke-linejoin="round" />
<path d="M81.5,332.5 C81.5,332.0 81.8,330.1 81.6,329.0 C81.5,327.9 80.7,326.5 80.6,326.0" stroke="#e6eae6" stroke-width="2.78" fill="none" stroke-linecap="round" stroke-linejoin="round" />
<path d="M80.6,326.0 C80.8,326.5 81.4,327.9 82.1,328.8 C82.8,329.6 84.4,330.6 84.9,331.0" stroke="#b4bab4" stroke-width="1.25" fill="none" stroke-linecap="round" stroke-linejoin="round" />
<path d="M136.4,324.2 C135.6,323.6 132.4,322.3 131.5,320.8 C130.5,319.2 130.8,316.8 130.6,314.8 C130.5,312.9 129.6,309.8 130.5,308.8 C131.5,307.8 134.8,308.1 136.5,308.8 C138.3,309.5 139.4,311.7 140.8,313.0 C142.3,314.3 144.6,315.2 145.4,316.9 C146.3,318.5 146.0,320.9 145.8,322.9 C145.5,324.8 145.0,327.0 143.9,328.5 C142.8,330.1 140.0,330.4 138.9,331.9 C137.9,333.5 137.9,336.8 137.7,337.8" stroke="#c8cdc8" stroke-width="0.77" fill="none" stroke-linecap="round" stroke-linejoin="round" />
<path d="M151.1,319.8 C150.7,320.7 149.6,323.6 148.6,325.3 C147.5,327.0 146.0,328.3 144.8,330.0 C143.7,331.6 142.6,333.3 141.8,335.2 C141.0,337.0 140.3,339.0 140.1,340.9 C139.9,342.9 141.0,345.0 140.5,346.9 C140.1,348.8 139.1,351.0 137.6,352.1 C136.2,353.3 133.7,354.0 131.9,353.9 C130.0,353.7 128.4,351.6 126.5,351.2 C124.6,350.9 121.5,351.5 120.5,351.6" stroke="#dbdfdb" stroke-width="1.21" fill="none" stroke-linecap="round" stroke-linejoin="round" />
<path d="M83.5,352.4 C84.2,353.1 87.7,356.6 87.9,356.5 C88.1,356.3 85.0,353.2 84.7,351.4 C84.3,349.6 84.7,346.9 85.8,345.5 C86.9,344.2 89.5,343.6 91.4,343.3 C93.3,343.0 95.7,343.0 97.4,343.8 C99.0,344.6 99.9,346.9 101.4,348.2 C103.0,349.5 105.7,350.9 106.5,351.4" stroke="#d1d6d1" stroke-width="1.03" fill="none" stroke-linecap="round" stroke-linejoin="round" />
<path d="M114.7,309.8 C113.8,310.2 111.0,311.9 109.1,312.1 C107.2,312.3 105.1,310.6 103.3,310.9 C101.4,311.2 99.9,313.0 98.1,314.0 C96.4,315.0 94.6,316.7 92.8,316.8 C91.0,316.8 89.1,314.2 87.4,314.3 C85.6,314.4 83.1,317.0 82.3,317.5" stroke="#dbdfdb" stroke-width="0.85" fill="none" stroke-linecap="round" stroke-linejoin="round" />
<path d="M89.0,319.5 C88.5,320.3 87.3,323.2 85.9,324.6 C84.6,326.1 82.3,326.7 81.2,328.2 C80.0,329.8 79.3,331.9 78.9,333.8 C78.5,335.7 78.8,337.8 78.9,339.8 C79.0,341.8 78.9,343.9 79.5,345.8 C80.0,347.7 81.0,349.6 82.2,351.1 C83.3,352.7 84.8,354.5 86.5,355.3 C88.3,356.0 90.7,354.9 92.5,355.5 C94.3,356.1 97.2,359.1 97.5,358.9 C97.7,358.6 94.6,354.8 94.1,353.9" stroke="#d1d6d1" stroke-width="0.82" fill="none" stroke-linecap="round" stroke-linejoin="round" />
<path d="M145.8,343.1 C145.5,342.6 144.8,341.0 144.2,340.2 C143.5,339.4 142.3,338.7 141.9,338.4" stroke="#bec4be" stroke-width="3.14" fill="none" stroke-linecap="round" stroke-linejoin="round" />
<path d="M145.8,343.1 C145.5,342.6 144.8,341.0 144.2,340.2 C143.5,339.4 142.3,338.7 141.9,338.4" stroke="#eef1ee" stroke-width="2.34" fill="none" stroke-linecap="round" stroke-linejoin="round" />
<path d="M141.9,338.4 C142.3,338.6 143.5,339.5 144.5,339.7 C145.4,339.9 147.2,339.8 147.8,339.8" stroke="#bec4be" stroke-width="1.05" fill="none" stroke-linecap="round" stroke-linejoin="round" />
<path d="M147.8,339.8 C147.5,339.4 146.8,337.7 146.2,337.0 C145.5,336.2 144.2,335.5 143.9,335.2" stroke="#bec4be" stroke-width="3.14" fill="none" stroke-linecap="round" stroke-linejoin="round" />
<path d="M147.8,339.8 C147.5,339.4 146.8,337.7 146.2,337.0 C145.5,336.2 144.2,335.5 143.9,335.2" stroke="#eef1ee" stroke-width="2.34" fill="none" stroke-linecap="round" stroke-linejoin="round" />
<path d="M143.9,335.2 C144.3,335.4 145.5,336.2 146.5,336.5 C147.4,336.7 149.2,336.6 149.7,336.6" stroke="#bec4be" stroke-width="1.05" fill="none" stroke-linecap="round" stroke-linejoin="round" />
<path d="M149.7,336.6 C149.5,336.1 148.8,334.5 148.1,333.7 C147.5,333.0 146.2,332.3 145.9,332.0" stroke="#bec4be" stroke-width="3.14" fill="none" stroke-linecap="round" stroke-linejoin="round" />
<path d="M149.7,336.6 C149.5,336.1 148.8,334.5 148.1,333.7 C147.5,333.0 146.2,332.3 145.9,332.0" stroke="#eef1ee" stroke-width="2.34" fill="none" stroke-linecap="round" stroke-linejoin="round" />
<path d="M145.3,359.7 C144.4,359.3 141.3,358.4 139.9,357.1 C138.6,355.8 137.2,353.6 137.2,351.8 C137.1,350.0 139.3,348.3 139.7,346.3 C140.1,344.4 139.7,341.3 139.7,340.3" stroke="#d1d6d1" stroke-width="0.95" fill="none" stroke-linecap="round" stroke-linejoin="round" />
<path d="M145.3,320.1 C146.2,320.4 150.8,320.9 151.0,321.9 C151.2,322.9 148.2,324.9 146.5,325.8 C144.7,326.8 142.6,326.9 140.7,327.5 C138.8,328.0 136.6,328.2 134.9,329.1 C133.2,330.0 131.5,331.3 130.3,332.9 C129.1,334.4 129.0,336.9 127.7,338.3 C126.4,339.7 124.3,340.4 122.5,341.4 C120.8,342.3 118.1,343.7 117.2,344.1" stroke="#c8cdc8" stroke-width="0.77" fill="none" stroke-linecap="round" stroke-linejoin="round" />
<path d="M110.0,358.6 C109.1,358.8 105.8,359.9 104.1,359.4 C102.3,358.9 101.3,356.0 99.5,355.5 C97.8,355.0 95.4,356.8 93.6,356.3 C91.8,355.8 90.6,352.9 88.9,352.6 C87.2,352.3 84.1,354.1 83.2,354.4" stroke="#d1d6d1" stroke-width="1.05" fill="none" stroke-linecap="round" stroke-linejoin="round" />
<path d="M109.5,324.8 C109.9,325.2 111.0,326.4 111.8,326.9 C112.6,327.3 113.9,327.6 114.3,327.7" stroke="#cbd0cb" stroke-width="3.22" fill="none" stroke-linecap="round" stroke-linejoin="round" />
<path d="M109.5,324.8 C109.9,325.2 111.0,326.4 111.8,326.9 C112.6,327.3 113.9,327.6 114.3,327.7" stroke="#f4f6f4" stroke-width="2.42" fill="none" stroke-linecap="round" stroke-linejoin="round" />
<path d="M114.3,327.7 C113.9,327.6 112.6,327.3 111.7,327.4 C110.7,327.5 109.2,328.1 108.8,328.3" stroke="#cbd0cb" stroke-width="1.09" fill="none" stroke-linecap="round" stroke-linejoin="round" />
<path d="M108.8,328.3 C109.1,328.6 110.2,329.8 111.0,330.3 C111.8,330.8 113.1,331.0 113.5,331.1" stroke="#cbd0cb" stroke-width="3.22" fill="none" stroke-linecap="round" stroke-linejoin="round" />
<path d="M108.8,328.3 C109.1,328.6 110.2,329.8 111.0,330.3 C111.8,330.8 113.1,331.0 113.5,331.1" stroke="#f4f6f4" stroke-width="2.42" fill="none" stroke-linecap="round" stroke-linejoin="round" />
<path d="M113.5,331.1 C113.1,331.1 111.8,330.7 110.9,330.8 C110.0,330.9 108.5,331.5 108.0,331.7" stroke="#cbd0cb" stroke-width="1.09" fill="none" stroke-linecap="round" stroke-linejoin="round" />
<path d="M108.0,331.7 C108.4,332.0 109.5,333.2 110.2,333.7 C111.0,334.2 112.4,334.4 112.8,334.6" stroke="#cbd0cb" stroke-width="3.22" fill="none" stroke-linecap="round" stroke-linejoin="round" />
<path d="M108.0,331.7 C108.4,332.0 109.5,333.2 110.2,333.7 C111.0,334.2 112.4,334.4 112.8,334.6" stroke="#f4f6f4" stroke-width="2.42" fill="none" stroke-linecap="round" stroke-linejoin="round" />
<path d="M112.8,334.6 C112.3,334.5 111.1,334.1 110.1,334.2 C109.2,334.3 107.7,335.0 107.2,335.1" stroke="#cbd0cb" stroke-width="1.09" fill="none" stroke-linecap="round" stroke-linejoin="round" />
<path d="M107.2,335.1 C107.6,335.4 108.7,336.7 109.5,337.1 C110.3,337.6 111.6,337.8 112.0,338.0" stroke="#cbd0cb" stroke-width="3.22" fill="none" stroke-linecap="round" stroke-linejoin="round" />
<path d="M107.2,335.1 C107.6,335.4 108.7,336.7 109.5,337.1 C110.3,337.6 111.6,337.8 112.0,338.0" stroke="#f4f6f4" stroke-width="2.42" fill="none" stroke-linecap="round" stroke-linejoin="round" />
<path d="M113.2,311.2 C113.7,312.0 115.3,314.6 116.2,316.4 C117.0,318.2 117.0,320.8 118.3,322.0 C119.6,323.1 122.6,322.2 124.1,323.3 C125.7,324.4 125.8,327.4 127.4,328.4 C128.9,329.3 131.6,329.6 133.3,329.1 C135.0,328.5 136.0,325.9 137.7,325.0 C139.4,324.1 141.8,323.4 143.6,323.8 C145.4,324.2 146.7,326.5 148.5,327.3 C150.2,328.2 153.2,327.6 154.3,328.9 C155.3,330.2 154.6,333.9 154.7,334.9" stroke="#d1d6d1" stroke-width="1.20" fill="none" stroke-linecap="round" stroke-linejoin="round" />
<path d="M121.6,359.0 C121.8,358.0 122.3,355.1 122.8,353.1 C123.3,351.2 124.5,349.4 124.6,347.4 C124.8,345.5 123.5,343.5 123.6,341.5 C123.6,339.6 124.2,337.4 125.0,335.7 C125.9,334.0 128.2,331.9 128.9,331.1" stroke="#dbdfdb" stroke-width="0.86" fill="none" stroke-linecap="round" stroke-linejoin="round" />
<path d="M112.8,351.2 C113.7,351.5 117.0,352.1 118.4,353.3 C119.8,354.6 121.6,357.9 121.0,358.7 C120.5,359.5 116.0,358.4 115.0,358.3" stroke="#dbdfdb" stroke-width="1.00" fill="none" stroke-linecap="round" stroke-linejoin="round" />
<path d="M102.2,326.5 C102.7,327.3 104.4,329.8 105.4,331.6 C106.3,333.3 107.1,335.2 107.8,337.0 C108.6,338.9 109.7,340.8 109.8,342.7 C109.9,344.6 108.3,346.6 108.4,348.5 C108.4,350.5 108.9,352.8 110.0,354.3 C111.1,355.8 114.2,357.1 115.0,357.6" stroke="#c8cdc8" stroke-width="0.89" fill="none" stroke-linecap="round" stroke-linejoin="round" />
<path d="M64.1,318.9 C64.9,319.5 67.1,321.9 68.9,322.4 C70.7,323.0 73.0,322.8 74.9,322.3 C76.8,321.8 78.9,320.8 80.2,319.4 C81.4,318.0 81.3,315.5 82.4,313.9 C83.5,312.2 84.9,310.4 86.6,309.5 C88.2,308.7 90.6,308.4 92.5,308.7 C94.4,308.9 96.1,311.2 97.9,311.1 C99.8,311.1 101.6,309.6 103.4,308.5 C105.1,307.5 106.7,304.9 108.2,305.0 C109.8,305.1 111.9,308.4 112.7,309.0" stroke="#dbdfdb" stroke-width="1.28" fill="none" stroke-linecap="round" stroke-linejoin="round" />
<path d="M64.1,329.4 C64.7,330.2 67.3,332.5 67.6,334.3 C67.8,336.0 65.2,338.2 65.5,339.9 C65.7,341.6 67.8,343.2 69.1,344.7 C70.4,346.2 72.0,347.4 73.5,348.8 C74.9,350.2 76.0,352.4 77.7,353.1 C79.4,353.8 81.7,352.9 83.7,353.0 C85.6,353.1 87.6,353.4 89.6,353.6 C91.6,353.7 94.0,353.0 95.6,353.8 C97.2,354.6 99.0,358.7 99.3,358.5 C99.6,358.4 97.7,354.8 97.5,352.8 C97.4,350.9 98.2,347.9 98.3,346.9" stroke="#dbdfdb" stroke-width="1.29" fill="none" stroke-linecap="round" stroke-linejoin="round" />
<path d="M119.4,317.7 C120.2,318.4 122.3,320.8 124.0,321.6 C125.8,322.3 128.0,322.5 130.0,322.4 C131.9,322.3 134.0,320.6 135.8,321.0 C137.6,321.4 139.7,323.1 140.6,324.7 C141.4,326.3 140.3,328.9 141.0,330.7 C141.6,332.5 143.0,334.4 144.5,335.5 C146.1,336.6 148.4,336.4 150.3,337.0 C152.2,337.7 155.4,339.9 155.8,339.5 C156.1,339.1 153.3,336.4 152.3,334.7 C151.2,333.0 149.6,331.2 149.5,329.3 C149.4,327.5 151.2,324.6 151.5,323.7" stroke="#d1d6d1" stroke-width="1.23" fill="none" stroke-linecap="round" stroke-linejoin="round" />
<path d="M149.6,310.6 C149.3,311.6 147.8,314.4 147.7,316.3 C147.6,318.2 148.3,320.3 149.1,322.1 C149.8,324.0 152.6,326.0 152.2,327.3 C151.8,328.6 148.1,328.5 146.8,329.9 C145.4,331.2 144.4,333.4 144.1,335.3 C143.8,337.2 144.2,339.5 145.0,341.2 C145.8,343.0 147.6,344.3 148.9,345.8 C150.3,347.2 153.2,348.7 153.1,350.0 C153.0,351.3 149.1,353.0 148.3,353.6" stroke="#c8cdc8" stroke-width="1.30" fill="none" stroke-linecap="round" stroke-linejoin="round" />
<path d="M125.9,351.8 C124.9,351.9 121.8,352.0 119.9,352.5 C118.0,353.0 116.0,353.7 114.4,354.8 C112.8,356.0 111.1,358.6 110.4,359.4" stroke="#d1d6d1" stroke-width="0.86" fill="none" stroke-linecap="round" stroke-linejoin="round" />
<path d="M96.2,357.9 C96.7,357.6 98.5,357.0 99.4,356.4 C100.2,355.7 101.1,354.4 101.5,354.0" stroke="#cbd0cb" stroke-width="3.62" fill="none" stroke-linecap="round" stroke-linejoin="round" />
<path d="M96.2,357.9 C96.7,357.6 98.5,357.0 99.4,356.4 C100.2,355.7 101.1,354.4 101.5,354.0" stroke="#f4f6f4" stroke-width="2.82" fill="none" stroke-linecap="round" stroke-linejoin="round" />
<path d="M101.5,354.0 C101.2,354.5 100.2,355.7 99.8,356.7 C99.4,357.7 99.3,359.6 99.2,360.1" stroke="#cbd0cb" stroke-width="1.27" fill="none" stroke-linecap="round" stroke-linejoin="round" />
<path d="M99.2,360.1 C99.7,359.9 101.4,359.2 102.3,358.6 C103.2,358.0 104.1,356.7 104.4,356.3" stroke="#cbd0cb" stroke-width="3.62" fill="none" stroke-linecap="round" stroke-linejoin="round" />
<path d="M99.2,360.1 C99.7,359.9 101.4,359.2 102.3,358.6 C103.2,358.0 104.1,356.7 104.4,356.3" stroke="#f4f6f4" stroke-width="2.82" fill="none" stroke-linecap="round" stroke-linejoin="round" />
<path d="M104.4,356.3 C104.2,356.7 103.1,357.9 102.8,358.9 C102.4,360.0 102.2,361.8 102.1,362.4" stroke="#cbd0cb" stroke-width="1.27" fill="none" stroke-linecap="round" stroke-linejoin="round" />
<path d="M71.1,313.4 C71.3,313.8 72.1,315.1 72.7,315.7 C73.3,316.3 74.5,316.8 74.8,317.0" stroke="#bec4be" stroke-width="3.71" fill="none" stroke-linecap="round" stroke-linejoin="round" />
<path d="M71.1,313.4 C71.3,313.8 72.1,315.1 72.7,315.7 C73.3,316.3 74.5,316.8 74.8,317.0" stroke="#eef1ee" stroke-width="2.91" fill="none" stroke-linecap="round" stroke-linejoin="round" />
<path d="M74.8,317.0 C74.4,316.8 73.3,316.2 72.5,316.1 C71.6,316.0 70.1,316.2 69.7,316.3" stroke="#bec4be" stroke-width="1.31" fill="none" stroke-linecap="round" stroke-linejoin="round" />
<path d="M69.7,316.3 C69.9,316.7 70.7,318.0 71.3,318.6 C71.9,319.2 73.1,319.7 73.4,319.9" stroke="#bec4be" stroke-width="3.71" fill="none" stroke-linecap="round" stroke-linejoin="round" />
<path d="M69.7,316.3 C69.9,316.7 70.7,318.0 71.3,318.6 C71.9,319.2 73.1,319.7 73.4,319.9" stroke="#eef1ee" stroke-width="2.91" fill="none" stroke-linecap="round" stroke-linejoin="round" />
<path d="M73.4,319.9 C73.0,319.8 71.9,319.1 71.1,319.0 C70.2,318.9 68.7,319.2 68.2,319.2" stroke="#bec4be" stroke-width="1.31" fill="none" stroke-linecap="round" stroke-linejoin="round" />
<path d="M68.2,319.2 C68.5,319.6 69.2,320.9 69.9,321.5 C70.5,322.1 71.6,322.6 72.0,322.8" stroke="#bec4be" stroke-width="3.71" fill="none" stroke-linecap="round" stroke-linejoin="round" />
<path d="M68.2,319.2 C68.5,319.6 69.2,320.9 69.9,321.5 C70.5,322.1 71.6,322.6 72.0,322.8" stroke="#eef1ee" stroke-width="2.91" fill="none" stroke-linecap="round" stroke-linejoin="round" />
<path d="M72.0,322.8 C71.6,322.7 70.5,322.1 69.7,321.9 C68.8,321.8 67.3,322.1 66.8,322.1" stroke="#bec4be" stroke-width="1.31" fill="none" stroke-linecap="round" stroke-linejoin="round" />
<path d="M91.5,346.2 C91.2,347.2 89.7,350.1 89.7,352.0 C89.8,353.9 91.7,357.6 91.6,357.7 C91.6,357.7 90.4,353.8 89.5,352.1 C88.6,350.3 87.5,348.6 86.4,346.9 C85.3,345.2 83.8,343.7 83.1,341.9 C82.4,340.1 82.1,337.0 81.9,336.0" stroke="#dbdfdb" stroke-width="1.01" fill="none" stroke-linecap="round" stroke-linejoin="round" />
<path d="M113.2,318.8 C113.1,319.8 113.1,322.8 113.0,324.8 C112.9,326.8 112.6,328.8 112.5,330.8 C112.4,332.8 111.8,335.1 112.5,336.8 C113.2,338.5 115.2,339.7 116.5,341.3 C117.9,342.8 118.9,344.5 120.4,345.8 C121.9,347.2 123.6,348.8 125.4,349.1 C127.2,349.5 129.4,348.5 131.3,347.9 C133.2,347.2 135.7,345.6 136.6,345.1" stroke="#c8cdc8" stroke-width="1.07" fill="none" stroke-linecap="round" stroke-linejoin="round" />
<path d="M73.6,350.9 C72.9,350.2 70.9,347.4 69.2,346.9 C67.4,346.3 63.2,347.8 63.2,347.7 C63.2,347.5 67.2,346.9 69.0,346.2 C70.8,345.4 73.0,344.5 74.2,343.1 C75.3,341.6 74.8,338.9 75.8,337.3 C76.8,335.6 78.9,334.7 80.1,333.2 C81.4,331.6 81.9,329.4 83.4,328.1 C84.8,326.9 87.9,326.0 88.8,325.6" stroke="#dbdfdb" stroke-width="0.86" fill="none" stroke-linecap="round" stroke-linejoin="round" />
<path d="M111.0,328.4 C110.4,328.4 108.5,328.0 107.4,328.0 C106.2,328.1 104.7,328.6 104.1,328.7" stroke="#b4bab4" stroke-width="3.16" fill="none" stroke-linecap="round" stroke-linejoin="round" />
<path d="M111.0,328.4 C110.4,328.4 108.5,328.0 107.4,328.0 C106.2,328.1 104.7,328.6 104.1,328.7" stroke="#e6eae6" stroke-width="2.36" fill="none" stroke-linecap="round" stroke-linejoin="round" />
<path d="M104.1,328.7 C104.7,328.5 106.3,328.1 107.2,327.5 C108.2,326.9 109.5,325.6 110.0,325.2" stroke="#b4bab4" stroke-width="1.06" fill="none" stroke-linecap="round" stroke-linejoin="round" />
<path d="M110.0,325.2 C109.4,325.1 107.5,324.7 106.4,324.7 C105.3,324.8 103.7,325.3 103.1,325.4" stroke="#b4bab4" stroke-width="3.16" fill="none" stroke-linecap="round" stroke-linejoin="round" />
<path d="M110.0,325.2 C109.4,325.1 107.5,324.7 106.4,324.7 C105.3,324.8 103.7,325.3 103.1,325.4" stroke="#e6eae6" stroke-width="2.36" fill="none" stroke-linecap="round" stroke-linejoin="round" />
<path d="M103.1,325.4 C103.7,325.2 105.3,324.8 106.3,324.2 C107.2,323.6 108.6,322.3 109.0,321.9" stroke="#b4bab4" stroke-width="1.06" fill="none" stroke-linecap="round" stroke-linejoin="round" />
<path d="M109.0,321.9 C108.4,321.8 106.6,321.4 105.4,321.5 C104.3,321.5 102.7,322.1 102.2,322.2" stroke="#b4bab4" stroke-width="3.16" fill="none" stroke-linecap="round" stroke-linejoin="round" />
<path d="M109.0,321.9 C108.4,321.8 106.6,321.4 105.4,321.5 C104.3,321.5 102.7,322.1 102.2,322.2" stroke="#e6eae6" stroke-width="2.36" fill="none" stroke-linecap="round" stroke-linejoin="round" />
<path d="M133.0,323.4 C133.4,323.2 135.1,322.5 135.9,321.9 C136.6,321.3 137.3,320.1 137.6,319.7" stroke="#cbd0cb" stroke-width="3.12" fill="none" stroke-linecap="round" stroke-linejoin="round" />
<path d="M133.0,323.4 C133.4,323.2 135.1,322.5 135.9,321.9 C136.6,321.3 137.3,320.1 137.6,319.7" stroke="#f4f6f4" stroke-width="2.32" fill="none" stroke-linecap="round" stroke-linejoin="round" />
<path d="M137.6,319.7 C137.4,320.1 136.6,321.3 136.3,322.2 C136.1,323.2 136.1,324.9 136.1,325.5" stroke="#cbd0cb" stroke-width="1.04" fill="none" stroke-linecap="round" stroke-linejoin="round" />
<path d="M136.1,325.5 C136.6,325.2 138.2,324.6 139.0,324.0 C139.8,323.4 140.5,322.2 140.8,321.8" stroke="#cbd0cb" stroke-width="3.12" fill="none" stroke-linecap="round" stroke-linejoin="round" />
<path d="M136.1,325.5 C136.6,325.2 138.2,324.6 139.0,324.0 C139.8,323.4 140.5,322.2 140.8,321.8" stroke="#f4f6f4" stroke-width="2.32" fill="none" stroke-linecap="round" stroke-linejoin="round" />
<path d="M140.8,321.8 C140.6,322.2 139.7,323.4 139.5,324.3 C139.2,325.3 139.3,327.0 139.2,327.5" stroke="#cbd0cb" stroke-width="1.04" fill="none" stroke-linecap="round" stroke-linejoin="round" />
<path d="M139.2,327.5 C139.7,327.3 141.3,326.7 142.1,326.1 C142.9,325.5 143.6,324.2 143.9,323.9" stroke="#cbd0cb" stroke-width="3.12" fill="none" stroke-linecap="round" stroke-linejoin="round" />
<path d="M139.2,327.5 C139.7,327.3 141.3,326.7 142.1,326.1 C142.9,325.5 143.6,324.2 143.9,323.9" stroke="#f4f6f4" stroke-width="2.32" fill="none" stroke-linecap="round" stroke-linejoin="round" />
<path d="M117.8,344.2 C117.8,343.8 117.9,342.2 117.7,341.4 C117.5,340.5 116.8,339.4 116.7,339.1" stroke="#cbd0cb" stroke-width="3.73" fill="none" stroke-linecap="round" stroke-linejoin="round" />
<path d="M117.8,344.2 C117.8,343.8 117.9,342.2 117.7,341.4 C117.5,340.5 116.8,339.4 116.7,339.1" stroke="#f4f6f4" stroke-width="2.93" fill="none" stroke-linecap="round" stroke-linejoin="round" />
<path d="M116.7,339.1 C116.9,339.4 117.5,340.5 118.2,341.1 C118.8,341.7 120.2,342.3 120.7,342.5" stroke="#cbd0cb" stroke-width="1.32" fill="none" stroke-linecap="round" stroke-linejoin="round" />
<path d="M120.7,342.5 C120.7,342.1 120.8,340.5 120.6,339.7 C120.4,338.8 119.7,337.7 119.5,337.4" stroke="#cbd0cb" stroke-width="3.73" fill="none" stroke-linecap="round" stroke-linejoin="round" />
<path d="M120.7,342.5 C120.7,342.1 120.8,340.5 120.6,339.7 C120.4,338.8 119.7,337.7 119.5,337.4" stroke="#f4f6f4" stroke-width="2.93" fill="none" stroke-linecap="round" stroke-linejoin="round" />
<path d="M119.5,337.4 C119.8,337.7 120.4,338.8 121.0,339.4 C121.7,340.0 123.1,340.6 123.5,340.8" stroke="#cbd0cb" stroke-width="1.32" fill="none" stroke-linecap="round" stroke-linejoin="round" />
<path d="M123.5,340.8 C123.5,340.4 123.6,338.8 123.5,338.0 C123.3,337.1 122.6,336.0 122.4,335.7" stroke="#cbd0cb" stroke-width="3.73" fill="none" stroke-linecap="round" stroke-linejoin="round" />
<path d="M123.5,340.8 C123.5,340.4 123.6,338.8 123.5,338.0 C123.3,337.1 122.6,336.0 122.4,335.7" stroke="#f4f6f4" stroke-width="2.93" fill="none" stroke-linecap="round" stroke-linejoin="round" />
<path d="M122.4,335.7 C122.6,336.0 123.2,337.1 123.9,337.7 C124.6,338.3 126.0,338.9 126.4,339.1" stroke="#cbd0cb" stroke-width="1.32" fill="none" stroke-linecap="round" stroke-linejoin="round" />
<path d="M126.4,339.1 C126.4,338.7 126.5,337.1 126.3,336.3 C126.1,335.4 125.4,334.3 125.2,334.0" stroke="#cbd0cb" stroke-width="3.73" fill="none" stroke-linecap="round" stroke-linejoin="round" />
<path d="M126.4,339.1 C126.4,338.7 126.5,337.1 126.3,336.3 C126.1,335.4 125.4,334.3 125.2,334.0" stroke="#f4f6f4" stroke-width="2.93" fill="none" stroke-linecap="round" stroke-linejoin="round" />
<path d="M125.2,334.0 C125.5,334.3 126.1,335.4 126.7,336.0 C127.4,336.6 128.8,337.2 129.2,337.4" stroke="#cbd0cb" stroke-width="1.32" fill="none" stroke-linecap="round" stroke-linejoin="round" />
<path d="M148.5,316.3 C147.9,315.5 145.4,311.2 145.2,311.3 C144.9,311.5 146.2,315.3 147.2,317.0 C148.2,318.7 151.2,320.1 151.1,321.6 C151.0,323.0 148.4,324.8 146.6,325.6 C144.9,326.3 142.4,326.7 140.6,326.2 C138.9,325.7 137.3,323.9 136.0,322.4 C134.6,321.0 133.8,319.0 132.5,317.5 C131.2,316.1 129.7,314.6 128.0,313.6 C126.3,312.5 123.4,311.6 122.5,311.2" stroke="#c8cdc8" stroke-width="1.24" fill="none" stroke-linecap="round" stroke-linejoin="round" />
<path d="M63.0,342.4 C63.7,341.7 66.6,339.9 67.2,338.2 C67.9,336.5 67.0,334.2 66.7,332.2 C66.5,330.2 66.2,328.2 65.8,326.3 C65.4,324.3 63.9,322.2 64.3,320.5 C64.7,318.7 67.6,315.6 68.1,315.8 C68.6,316.0 68.0,319.9 67.4,321.8 C66.8,323.6 65.1,325.2 64.6,327.1 C64.1,329.0 64.5,331.1 64.5,333.1 C64.4,335.1 64.4,338.1 64.4,339.1" stroke="#d1d6d1" stroke-width="0.98" fill="none" stroke-linecap="round" stroke-linejoin="round" />
<path d="M62.0,336.3 C62.6,335.5 64.2,332.9 65.4,331.3 C66.5,329.7 67.5,327.6 69.1,326.6 C70.7,325.7 73.1,325.3 75.0,325.5 C76.9,325.6 78.8,327.6 80.7,327.5 C82.5,327.3 84.0,324.9 85.9,324.5 C87.8,324.2 90.2,324.5 91.9,325.4 C93.5,326.3 94.7,328.4 95.5,330.1 C96.4,331.9 97.2,334.0 97.2,335.9 C97.2,337.8 95.5,339.7 95.4,341.6 C95.2,343.5 95.3,345.9 96.3,347.5 C97.3,349.1 100.4,350.4 101.2,351.0" stroke="#c8cdc8" stroke-width="0.71" fill="none" stroke-linecap="round" stroke-linejoin="round" />
<path d="M138.1,312.5 C138.2,313.5 138.3,316.5 138.4,318.5 C138.5,320.5 138.7,322.5 138.7,324.5 C138.7,326.5 138.1,328.5 138.3,330.4 C138.4,332.4 138.6,334.5 139.4,336.3 C140.1,338.1 142.2,339.4 142.8,341.2 C143.5,343.0 143.4,346.2 143.6,347.2" stroke="#c8cdc8" stroke-width="1.02" fill="none" stroke-linecap="round" stroke-linejoin="round" />
<path d="M83.0,315.0 C84.0,315.2 87.5,315.2 88.8,316.4 C90.1,317.5 90.8,320.1 90.9,322.0 C91.0,323.9 90.4,326.3 89.3,327.8 C88.1,329.2 85.5,329.5 84.1,330.7 C82.6,332.0 81.9,334.5 80.3,335.4 C78.7,336.4 76.4,336.3 74.4,336.6 C72.5,337.0 69.5,337.5 68.5,337.7" stroke="#c8cdc8" stroke-width="1.11" fill="none" stroke-linecap="round" stroke-linejoin="round" />
<path d="M63.9,337.3 C64.9,337.4 68.1,337.4 69.9,338.1 C71.7,338.8 73.4,340.1 74.8,341.5 C76.1,342.9 76.6,345.2 78.0,346.5 C79.5,347.9 81.7,348.3 83.3,349.4 C84.9,350.6 86.0,352.4 87.6,353.6 C89.2,354.8 91.4,356.9 92.8,356.5 C94.3,356.2 95.8,352.5 96.4,351.7" stroke="#c8cdc8" stroke-width="0.82" fill="none" stroke-linecap="round" stroke-linejoin="round" />
<path d="M114.7,307.8 C114.9,308.7 114.8,312.1 115.8,313.7 C116.7,315.2 118.8,316.3 120.6,317.3 C122.3,318.2 124.4,318.5 126.1,319.6 C127.8,320.6 128.8,322.7 130.5,323.6 C132.3,324.5 134.5,325.0 136.4,324.8 C138.3,324.5 140.8,323.6 141.9,322.2 C142.9,320.8 142.4,318.3 142.9,316.3 C143.3,314.4 144.5,311.6 144.8,310.7" stroke="#c8cdc8" stroke-width="1.28" fill="none" stroke-linecap="round" stroke-linejoin="round" />
<path d="M75.6,339.7 C75.1,339.8 73.3,339.8 72.3,340.1 C71.3,340.4 70.0,341.2 69.5,341.4" stroke="#b4bab4" stroke-width="3.11" fill="none" stroke-linecap="round" stroke-linejoin="round" />
<path d="M75.6,339.7 C75.1,339.8 73.3,339.8 72.3,340.1 C71.3,340.4 70.0,341.2 69.5,341.4" stroke="#e6eae6" stroke-width="2.31" fill="none" stroke-linecap="round" stroke-linejoin="round" />
<path d="M69.5,341.4 C69.9,341.1 71.3,340.4 72.0,339.6 C72.8,338.9 73.7,337.4 74.0,336.9" stroke="#b4bab4" stroke-width="1.04" fill="none" stroke-linecap="round" stroke-linejoin="round" />
<path d="M74.0,336.9 C73.4,337.0 71.7,337.0 70.6,337.3 C69.6,337.6 68.3,338.4 67.9,338.6" stroke="#b4bab4" stroke-width="3.11" fill="none" stroke-linecap="round" stroke-linejoin="round" />
<path d="M74.0,336.9 C73.4,337.0 71.7,337.0 70.6,337.3 C69.6,337.6 68.3,338.4 67.9,338.6" stroke="#e6eae6" stroke-width="2.31" fill="none" stroke-linecap="round" stroke-linejoin="round" />
<path d="M67.9,338.6 C68.3,338.3 69.7,337.6 70.4,336.9 C71.2,336.1 72.0,334.6 72.4,334.1" stroke="#b4bab4" stroke-width="1.04" fill="none" stroke-linecap="round" stroke-linejoin="round" />
<path d="M72.4,334.1 C71.8,334.2 70.0,334.2 69.0,334.5 C68.0,334.8 66.7,335.6 66.2,335.8" stroke="#b4bab4" stroke-width="3.11" fill="none" stroke-linecap="round" stroke-linejoin="round" />
<path d="M72.4,334.1 C71.8,334.2 70.0,334.2 69.0,334.5 C68.0,334.8 66.7,335.6 66.2,335.8" stroke="#e6eae6" stroke-width="2.31" fill="none" stroke-linecap="round" stroke-linejoin="round" />
<path d="M66.2,335.8 C66.7,335.5 68.0,334.8 68.8,334.1 C69.5,333.3 70.4,331.8 70.7,331.3" stroke="#b4bab4" stroke-width="1.04" fill="none" stroke-linecap="round" stroke-linejoin="round" />
<path d="M75.3,359.8 C75.2,358.8 76.0,355.4 75.2,353.8 C74.3,352.3 71.8,351.6 70.2,350.4 C68.7,349.2 67.2,347.8 65.6,346.6 C64.1,345.3 61.1,344.3 60.9,342.9 C60.7,341.5 63.0,339.2 64.5,338.1 C66.1,337.0 68.4,336.2 70.2,336.3 C72.1,336.3 73.9,338.1 75.8,338.4 C77.8,338.7 79.9,338.3 81.8,338.0 C83.8,337.6 85.6,336.6 87.6,336.2 C89.5,335.9 92.6,336.0 93.6,335.9" stroke="#d1d6d1" stroke-width="1.16" fill="none" stroke-linecap="round" stroke-linejoin="round" />
<path d="M127.3,332.8 C128.3,332.5 131.2,331.8 133.1,331.1 C135.0,330.4 137.2,330.0 138.6,328.6 C139.9,327.3 139.8,324.5 141.2,323.3 C142.6,322.0 145.2,322.3 146.9,321.2 C148.5,320.2 149.9,316.7 151.0,316.9 C152.2,317.1 154.3,320.9 153.9,322.2 C153.4,323.5 149.3,324.2 148.4,324.6" stroke="#d1d6d1" stroke-width="0.75" fill="none" stroke-linecap="round" stroke-linejoin="round" />
<path d="M78.4,335.6 C78.8,335.3 80.2,334.4 80.8,333.6 C81.4,332.9 81.9,331.6 82.1,331.2" stroke="#cbd0cb" stroke-width="3.06" fill="none" stroke-linecap="round" stroke-linejoin="round" />
<path d="M78.4,335.6 C78.8,335.3 80.2,334.4 80.8,333.6 C81.4,332.9 81.9,331.6 82.1,331.2" stroke="#f4f6f4" stroke-width="2.26" fill="none" stroke-linecap="round" stroke-linejoin="round" />
<path d="M82.1,331.2 C82.0,331.7 81.4,332.9 81.3,333.8 C81.2,334.8 81.4,336.4 81.5,336.9" stroke="#cbd0cb" stroke-width="1.02" fill="none" stroke-linecap="round" stroke-linejoin="round" />
<path d="M81.5,336.9 C81.9,336.6 83.2,335.7 83.8,334.9 C84.5,334.2 84.9,333.0 85.1,332.6" stroke="#cbd0cb" stroke-width="3.06" fill="none" stroke-linecap="round" stroke-linejoin="round" />
<path d="M81.5,336.9 C81.9,336.6 83.2,335.7 83.8,334.9 C84.5,334.2 84.9,333.0 85.1,332.6" stroke="#f4f6f4" stroke-width="2.26" fill="none" stroke-linecap="round" stroke-linejoin="round" />
<path d="M85.1,332.6 C85.0,333.0 84.4,334.2 84.3,335.1 C84.2,336.1 84.5,337.7 84.5,338.2" stroke="#cbd0cb" stroke-width="1.02" fill="none" stroke-linecap="round" stroke-linejoin="round" />
<path d="M84.5,338.2 C84.9,337.9 86.3,337.0 86.9,336.2 C87.5,335.5 88.0,334.3 88.2,333.9" stroke="#cbd0cb" stroke-width="3.06" fill="none" stroke-linecap="round" stroke-linejoin="round" />
<path d="M84.5,338.2 C84.9,337.9 86.3,337.0 86.9,336.2 C87.5,335.5 88.0,334.3 88.2,333.9" stroke="#f4f6f4" stroke-width="2.26" fill="none" stroke-linecap="round" stroke-linejoin="round" />
<path d="M88.2,333.9 C88.0,334.3 87.4,335.5 87.3,336.4 C87.2,337.4 87.5,339.0 87.6,339.5" stroke="#cbd0cb" stroke-width="1.02" fill="none" stroke-linecap="round" stroke-linejoin="round" />
<path d="M87.6,339.5 C88.0,339.2 89.3,338.3 89.9,337.6 C90.5,336.8 91.0,335.6 91.2,335.2" stroke="#cbd0cb" stroke-width="3.06" fill="none" stroke-linecap="round" stroke-linejoin="round" />
<path d="M87.6,339.5 C88.0,339.2 89.3,338.3 89.9,337.6 C90.5,336.8 91.0,335.6 91.2,335.2" stroke="#f4f6f4" stroke-width="2.26" fill="none" stroke-linecap="round" stroke-linejoin="round" />
<path d="M91.2,335.2 C91.1,335.6 90.5,336.8 90.4,337.7 C90.3,338.7 90.6,340.3 90.6,340.8" stroke="#cbd0cb" stroke-width="1.02" fill="none" stroke-linecap="round" stroke-linejoin="round" />
<path d="M77.7,329.0 C77.0,329.7 75.0,332.3 73.3,333.1 C71.6,333.9 69.3,333.4 67.3,333.9 C65.4,334.3 62.6,335.5 61.7,335.9" stroke="#d1d6d1" stroke-width="1.09" fill="none" stroke-linecap="round" stroke-linejoin="round" />
<path d="M120.4,316.6 C121.4,316.7 124.9,316.3 126.4,317.3 C127.9,318.2 128.2,321.4 129.7,322.3 C131.2,323.2 134.0,322.0 135.7,322.8 C137.4,323.6 139.3,325.4 139.9,327.1 C140.5,328.8 139.5,331.0 139.2,333.0 C138.9,335.0 138.7,337.1 138.0,338.9 C137.3,340.7 135.5,342.2 134.9,344.0 C134.3,345.9 133.7,348.4 134.4,350.0 C135.1,351.7 137.5,352.5 139.0,353.9 C140.4,355.3 141.4,357.6 143.1,358.3 C144.8,358.9 147.1,358.1 149.1,357.9 C151.1,357.7 154.1,357.3 155.0,357.2" stroke="#c8cdc8" stroke-width="1.23" fill="none" stroke-linecap="round" stroke-linejoin="round" />
<path d="M17.6,308.0 C18.2,308.2 20.1,309.0 21.4,309.3 C22.6,309.5 24.4,309.4 25.1,309.4" stroke="#d0bf9e" stroke-width="3.65" fill="none" stroke-linecap="round" stroke-linejoin="round" />
<path d="M17.6,308.0 C18.2,308.2 20.1,309.0 21.4,309.3 C22.6,309.5 24.4,309.4 25.1,309.4" stroke="#f4ead4" stroke-width="2.85" fill="none" stroke-linecap="round" stroke-linejoin="round" />
<path d="M25.1,309.4 C24.4,309.4 22.6,309.4 21.4,309.7 C20.1,310.0 18.3,311.0 17.7,311.2" stroke="#d0bf9e" stroke-width="1.28" fill="none" stroke-linecap="round" stroke-linejoin="round" />
<path d="M17.7,311.2 C18.3,311.4 20.2,312.2 21.5,312.5 C22.7,312.7 24.5,312.6 25.2,312.6" stroke="#d0bf9e" stroke-width="3.65" fill="none" stroke-linecap="round" stroke-linejoin="round" />
<path d="M17.7,311.2 C18.3,311.4 20.2,312.2 21.5,312.5 C22.7,312.7 24.5,312.6 25.2,312.6" stroke="#f4ead4" stroke-width="2.85" fill="none" stroke-linecap="round" stroke-linejoin="round" />
<path d="M25.2,312.6 C24.5,312.7 22.7,312.6 21.5,313.0 C20.2,313.3 18.4,314.2 17.8,314.4" stroke="#d0bf9e" stroke-width="1.28" fill="none" stroke-linecap="round" stroke-linejoin="round" />
<path d="M17.8,314.4 C18.4,314.6 20.3,315.5 21.6,315.7 C22.8,315.9 24.6,315.8 25.3,315.8" stroke="#d0bf9e" stroke-width="3.65" fill="none" stroke-linecap="round" stroke-linejoin="round" />
<path d="M17.8,314.4 C18.4,314.6 20.3,315.5 21.6,315.7 C22.8,315.9 24.6,315.8 25.3,315.8" stroke="#f4ead4" stroke-width="2.85" fill="none" stroke-linecap="round" stroke-linejoin="round" />
<path d="M25.3,315.8 C24.6,315.9 22.8,315.9 21.6,316.2 C20.3,316.5 18.5,317.4 17.9,317.6" stroke="#d0bf9e" stroke-width="1.28" fill="none" stroke-linecap="round" stroke-linejoin="round" />
<path d="M17.9,317.6 C18.5,317.9 20.4,318.7 21.7,318.9 C22.9,319.1 24.7,319.0 25.4,319.0" stroke="#d0bf9e" stroke-width="3.65" fill="none" stroke-linecap="round" stroke-linejoin="round" />
<path d="M17.9,317.6 C18.5,317.9 20.4,318.7 21.7,318.9 C22.9,319.1 24.7,319.0 25.4,319.0" stroke="#f4ead4" stroke-width="2.85" fill="none" stroke-linecap="round" stroke-linejoin="round" />
<path d="M25.4,319.0 C24.7,319.1 22.9,319.1 21.7,319.4 C20.4,319.7 18.6,320.6 18.0,320.9" stroke="#d0bf9e" stroke-width="1.28" fill="none" stroke-linecap="round" stroke-linejoin="round" />
<path d="M18.0,320.9 C18.6,321.1 20.5,321.9 21.8,322.1 C23.0,322.3 24.8,322.2 25.5,322.2" stroke="#d0bf9e" stroke-width="3.65" fill="none" stroke-linecap="round" stroke-linejoin="round" />
<path d="M18.0,320.9 C18.6,321.1 20.5,321.9 21.8,322.1 C23.0,322.3 24.8,322.2 25.5,322.2" stroke="#f4ead4" stroke-width="2.85" fill="none" stroke-linecap="round" stroke-linejoin="round" />
<path d="M45.6,332.6 C44.8,333.2 42.5,335.7 40.7,336.0 C38.9,336.4 36.6,334.3 34.8,334.8 C33.1,335.3 32.0,337.6 30.4,338.9 C28.9,340.1 26.7,340.8 25.5,342.2 C24.2,343.7 23.6,345.8 22.9,347.7 C22.3,349.6 21.8,351.6 21.7,353.5 C21.5,355.5 21.9,358.5 22.0,359.5" stroke="#d5c2a0" stroke-width="1.09" fill="none" stroke-linecap="round" stroke-linejoin="round" />
<path d="M56.6,306.4 C57.1,306.9 58.5,308.5 59.6,309.2 C60.7,310.0 62.5,310.7 63.1,310.9" stroke="#d0bf9e" stroke-width="3.88" fill="none" stroke-linecap="round" stroke-linejoin="round" />
<path d="M56.6,306.4 C57.1,306.9 58.5,308.5 59.6,309.2 C60.7,310.0 62.5,310.7 63.1,310.9" stroke="#f4ead4" stroke-width="3.08" fill="none" stroke-linecap="round" stroke-linejoin="round" />
<path d="M63.1,310.9 C62.5,310.7 60.7,309.9 59.4,309.7 C58.1,309.5 56.0,309.6 55.3,309.6" stroke="#d0bf9e" stroke-width="1.38" fill="none" stroke-linecap="round" stroke-linejoin="round" />
<path d="M55.3,309.6 C55.8,310.0 57.2,311.6 58.3,312.4 C59.4,313.1 61.2,313.8 61.8,314.1" stroke="#d0bf9e" stroke-width="3.88" fill="none" stroke-linecap="round" stroke-linejoin="round" />
<path d="M55.3,309.6 C55.8,310.0 57.2,311.6 58.3,312.4 C59.4,313.1 61.2,313.8 61.8,314.1" stroke="#f4ead4" stroke-width="3.08" fill="none" stroke-linecap="round" stroke-linejoin="round" />
<path d="M61.8,314.1 C61.2,313.9 59.4,313.1 58.1,312.8 C56.8,312.6 54.7,312.7 54.0,312.7" stroke="#d0bf9e" stroke-width="1.38" fill="none" stroke-linecap="round" stroke-linejoin="round" />
<path d="M54.0,312.7 C54.5,313.2 56.0,314.7 57.0,315.5 C58.1,316.2 59.9,316.9 60.5,317.2" stroke="#d0bf9e" stroke-width="3.88" fill="none" stroke-linecap="round" stroke-linejoin="round" />
<path d="M54.0,312.7 C54.5,313.2 56.0,314.7 57.0,315.5 C58.1,316.2 59.9,316.9 60.5,317.2" stroke="#f4ead4" stroke-width="3.08" fill="none" stroke-linecap="round" stroke-linejoin="round" />
<path d="M35.6,295.4 C35.0,295.1 33.0,294.3 31.7,294.1 C30.4,293.9 28.5,294.0 27.8,294.0" stroke="#c4ae88" stroke-width="3.54" fill="none" stroke-linecap="round" stroke-linejoin="round" />
<path d="M35.6,295.4 C35.0,295.1 33.0,294.3 31.7,294.1 C30.4,293.9 28.5,294.0 27.8,294.0" stroke="#efe2c4" stroke-width="2.74" fill="none" stroke-linecap="round" stroke-linejoin="round" />
<path d="M27.8,294.0 C28.5,293.9 30.4,293.9 31.7,293.6 C33.0,293.2 34.9,292.2 35.5,292.0" stroke="#c4ae88" stroke-width="1.23" fill="none" stroke-linecap="round" stroke-linejoin="round" />
<path d="M35.5,292.0 C34.8,291.8 32.9,290.9 31.6,290.7 C30.3,290.5 28.3,290.6 27.7,290.6" stroke="#c4ae88" stroke-width="3.54" fill="none" stroke-linecap="round" stroke-linejoin="round" />
<path d="M35.5,292.0 C34.8,291.8 32.9,290.9 31.6,290.7 C30.3,290.5 28.3,290.6 27.7,290.6" stroke="#efe2c4" stroke-width="2.74" fill="none" stroke-linecap="round" stroke-linejoin="round" />
<path d="M27.7,290.6 C28.3,290.5 30.3,290.5 31.5,290.2 C32.8,289.9 34.7,288.9 35.3,288.6" stroke="#c4ae88" stroke-width="1.23" fill="none" stroke-linecap="round" stroke-linejoin="round" />
<path d="M35.3,288.6 C34.7,288.4 32.7,287.6 31.4,287.3 C30.1,287.1 28.2,287.3 27.5,287.2" stroke="#c4ae88" stroke-width="3.54" fill="none" stroke-linecap="round" stroke-linejoin="round" />
<path d="M35.3,288.6 C34.7,288.4 32.7,287.6 31.4,287.3 C30.1,287.1 28.2,287.3 27.5,287.2" stroke="#efe2c4" stroke-width="2.74" fill="none" stroke-linecap="round" stroke-linejoin="round" />
<path d="M27.5,287.2 C28.2,287.2 30.1,287.2 31.4,286.8 C32.7,286.5 34.6,285.5 35.2,285.2" stroke="#c4ae88" stroke-width="1.23" fill="none" stroke-linecap="round" stroke-linejoin="round" />
<path d="M35.2,285.2 C34.5,285.0 32.6,284.2 31.3,284.0 C30.0,283.7 28.0,283.9 27.4,283.9" stroke="#c4ae88" stroke-width="3.54" fill="none" stroke-linecap="round" stroke-linejoin="round" />
<path d="M35.2,285.2 C34.5,285.0 32.6,284.2 31.3,284.0 C30.0,283.7 28.0,283.9 27.4,283.9" stroke="#efe2c4" stroke-width="2.74" fill="none" stroke-linecap="round" stroke-linejoin="round" />
<path d="M23.1,292.9 C23.4,292.4 24.6,291.0 25.0,289.9 C25.5,288.9 25.6,287.3 25.7,286.7" stroke="#b8a27a" stroke-width="3.48" fill="none" stroke-linecap="round" stroke-linejoin="round" />
<path d="M23.1,292.9 C23.4,292.4 24.6,291.0 25.0,289.9 C25.5,288.9 25.6,287.3 25.7,286.7" stroke="#e8d8b4" stroke-width="2.68" fill="none" stroke-linecap="round" stroke-linejoin="round" />
<path d="M25.7,286.7 C25.7,287.3 25.4,288.9 25.6,290.0 C25.7,291.1 26.4,292.9 26.6,293.4" stroke="#b8a27a" stroke-width="1.20" fill="none" stroke-linecap="round" stroke-linejoin="round" />
<path d="M26.6,293.4 C26.9,292.9 28.1,291.5 28.6,290.4 C29.0,289.4 29.2,287.8 29.3,287.2" stroke="#b8a27a" stroke-width="3.48" fill="none" stroke-linecap="round" stroke-linejoin="round" />
<path d="M26.6,293.4 C26.9,292.9 28.1,291.5 28.6,290.4 C29.0,289.4 29.2,287.8 29.3,287.2" stroke="#e8d8b4" stroke-width="2.68" fill="none" stroke-linecap="round" stroke-linejoin="round" />
<path d="M29.3,287.2 C29.3,287.8 29.0,289.4 29.1,290.5 C29.3,291.6 30.0,293.4 30.2,293.9" stroke="#b8a27a" stroke-width="1.20" fill="none" stroke-linecap="round" stroke-linejoin="round" />
<path d="M30.2,293.9 C30.5,293.4 31.7,292.0 32.1,290.9 C32.6,289.9 32.7,288.3 32.9,287.7" stroke="#b8a27a" stroke-width="3.48" fill="none" stroke-linecap="round" stroke-linejoin="round" />
<path d="M30.2,293.9 C30.5,293.4 31.7,292.0 32.1,290.9 C32.6,289.9 32.7,288.3 32.9,287.7" stroke="#e8d8b4" stroke-width="2.68" fill="none" stroke-linecap="round" stroke-linejoin="round" />
<path d="M32.9,287.7 C32.8,288.3 32.5,289.9 32.7,291.0 C32.8,292.1 33.6,293.9 33.7,294.4" stroke="#b8a27a" stroke-width="1.20" fill="none" stroke-linecap="round" stroke-linejoin="round" />
<path d="M27.4,287.6 C27.6,286.9 28.4,284.7 28.6,283.3 C28.8,281.9 28.6,279.9 28.6,279.2" stroke="#d0bf9e" stroke-width="3.58" fill="none" stroke-linecap="round" stroke-linejoin="round" />
<path d="M27.4,287.6 C27.6,286.9 28.4,284.7 28.6,283.3 C28.8,281.9 28.6,279.9 28.6,279.2" stroke="#f4ead4" stroke-width="2.78" fill="none" stroke-linecap="round" stroke-linejoin="round" />
<path d="M28.6,279.2 C28.7,279.8 28.8,281.9 29.2,283.3 C29.6,284.6 30.7,286.6 31.1,287.3" stroke="#d0bf9e" stroke-width="1.25" fill="none" stroke-linecap="round" stroke-linejoin="round" />
<path d="M31.1,287.3 C31.3,286.6 32.1,284.5 32.3,283.0 C32.5,281.6 32.2,279.6 32.2,278.9" stroke="#d0bf9e" stroke-width="3.58" fill="none" stroke-linecap="round" stroke-linejoin="round" />
<path d="M31.1,287.3 C31.3,286.6 32.1,284.5 32.3,283.0 C32.5,281.6 32.2,279.6 32.2,278.9" stroke="#f4ead4" stroke-width="2.78" fill="none" stroke-linecap="round" stroke-linejoin="round" />
<path d="M32.2,278.9 C32.3,279.6 32.4,281.6 32.8,283.0 C33.3,284.4 34.4,286.4 34.7,287.0" stroke="#d0bf9e" stroke-width="1.25" fill="none" stroke-linecap="round" stroke-linejoin="round" />
<path d="M34.7,287.0 C34.9,286.3 35.8,284.2 36.0,282.8 C36.1,281.3 35.9,279.3 35.9,278.6" stroke="#d0bf9e" stroke-width="3.58" fill="none" stroke-linecap="round" stroke-linejoin="round" />
<path d="M34.7,287.0 C34.9,286.3 35.8,284.2 36.0,282.8 C36.1,281.3 35.9,279.3 35.9,278.6" stroke="#f4ead4" stroke-width="2.78" fill="none" stroke-linecap="round" stroke-linejoin="round" />
<path d="M35.9,278.6 C36.0,279.3 36.1,281.4 36.5,282.7 C36.9,284.1 38.1,286.1 38.4,286.7" stroke="#d0bf9e" stroke-width="1.25" fill="none" stroke-linecap="round" stroke-linejoin="round" />
<path d="M39.2,335.9 C39.5,336.9 39.8,339.9 40.6,341.7 C41.4,343.5 42.5,345.5 44.0,346.7 C45.5,347.9 47.7,348.3 49.6,348.7 C51.6,349.1 55.4,348.5 55.6,349.1 C55.8,349.7 52.4,351.6 50.7,352.5 C48.9,353.4 46.0,354.2 45.0,354.5" stroke="#d5c2a0" stroke-width="0.93" fill="none" stroke-linecap="round" stroke-linejoin="round" />
<path d="M50.1,292.0 C50.1,292.7 50.0,294.7 50.2,295.9 C50.4,297.1 51.1,298.8 51.3,299.4" stroke="#d0bf9e" stroke-width="4.18" fill="none" stroke-linecap="round" stroke-linejoin="round" />
<path d="M50.1,292.0 C50.1,292.7 50.0,294.7 50.2,295.9 C50.4,297.1 51.1,298.8 51.3,299.4" stroke="#f4ead4" stroke-width="3.38" fill="none" stroke-linecap="round" stroke-linejoin="round" />
<path d="M51.3,299.4 C51.1,298.8 50.4,297.1 49.7,296.1 C49.0,295.1 47.6,293.7 47.1,293.2" stroke="#d0bf9e" stroke-width="1.52" fill="none" stroke-linecap="round" stroke-linejoin="round" />
<path d="M47.1,293.2 C47.1,293.9 47.0,295.9 47.2,297.1 C47.4,298.3 48.1,300.0 48.3,300.6" stroke="#d0bf9e" stroke-width="4.18" fill="none" stroke-linecap="round" stroke-linejoin="round" />
<path d="M47.1,293.2 C47.1,293.9 47.0,295.9 47.2,297.1 C47.4,298.3 48.1,300.0 48.3,300.6" stroke="#f4ead4" stroke-width="3.38" fill="none" stroke-linecap="round" stroke-linejoin="round" />
<path d="M48.3,300.6 C48.0,300.0 47.4,298.3 46.7,297.3 C46.0,296.3 44.5,294.9 44.1,294.5" stroke="#d0bf9e" stroke-width="1.52" fill="none" stroke-linecap="round" stroke-linejoin="round" />
<path d="M44.1,294.5 C44.1,295.1 44.0,297.1 44.2,298.3 C44.4,299.6 45.1,301.2 45.3,301.8" stroke="#d0bf9e" stroke-width="4.18" fill="none" stroke-linecap="round" stroke-linejoin="round" />
<path d="M44.1,294.5 C44.1,295.1 44.0,297.1 44.2,298.3 C44.4,299.6 45.1,301.2 45.3,301.8" stroke="#f4ead4" stroke-width="3.38" fill="none" stroke-linecap="round" stroke-linejoin="round" />
<path d="M45.3,301.8 C45.0,301.2 44.4,299.5 43.7,298.5 C43.0,297.5 41.5,296.1 41.1,295.7" stroke="#d0bf9e" stroke-width="1.52" fill="none" stroke-linecap="round" stroke-linejoin="round" />
<path d="M41.1,295.7 C41.1,296.3 40.9,298.3 41.1,299.5 C41.3,300.8 42.1,302.4 42.3,303.0" stroke="#d0bf9e" stroke-width="4.18" fill="none" stroke-linecap="round" stroke-linejoin="round" />
<path d="M41.1,295.7 C41.1,296.3 40.9,298.3 41.1,299.5 C41.3,300.8 42.1,302.4 42.3,303.0" stroke="#f4ead4" stroke-width="3.38" fill="none" stroke-linecap="round" stroke-linejoin="round" />
<path d="M42.3,303.0 C42.0,302.5 41.4,300.7 40.7,299.7 C40.0,298.7 38.5,297.3 38.1,296.9" stroke="#d0bf9e" stroke-width="1.52" fill="none" stroke-linecap="round" stroke-linejoin="round" />
<path d="M56.4,339.0 C55.5,339.5 52.8,340.7 51.2,341.9 C49.6,343.1 48.3,344.7 46.8,346.0 C45.3,347.3 42.8,348.1 42.1,349.7 C41.3,351.4 42.9,354.1 42.2,355.7 C41.4,357.4 38.6,360.1 37.8,359.8 C36.9,359.5 37.0,354.9 36.8,353.9" stroke="#cbb791" stroke-width="0.87" fill="none" stroke-linecap="round" stroke-linejoin="round" />
<path d="M20.4,282.5 C21.4,282.3 24.4,281.8 26.3,281.7 C28.3,281.5 31.9,280.7 32.3,281.5 C32.7,282.3 30.3,285.1 28.8,286.3 C27.3,287.5 24.2,288.4 23.3,288.8" stroke="#cbb791" stroke-width="1.24" fill="none" stroke-linecap="round" stroke-linejoin="round" />
<path d="M23.8,293.3 C23.9,294.3 24.1,297.3 24.3,299.3 C24.4,301.3 25.4,303.7 24.6,305.3 C23.9,306.9 20.7,307.3 19.8,308.9 C18.9,310.5 19.5,313.9 19.4,314.9" stroke="#ded0b3" stroke-width="1.22" fill="none" stroke-linecap="round" stroke-linejoin="round" />
<path d="M55.8,295.3 C55.4,295.7 54.1,297.2 53.6,298.2 C53.0,299.3 52.7,300.9 52.5,301.5" stroke="#b8a27a" stroke-width="3.62" fill="none" stroke-linecap="round" stroke-linejoin="round" />
<path d="M55.8,295.3 C55.4,295.7 54.1,297.2 53.6,298.2 C53.0,299.3 52.7,300.9 52.5,301.5" stroke="#e8d8b4" stroke-width="2.82" fill="none" stroke-linecap="round" stroke-linejoin="round" />
<path d="M52.5,301.5 C52.6,300.9 53.1,299.3 53.0,298.1 C53.0,296.9 52.5,295.1 52.3,294.5" stroke="#b8a27a" stroke-width="1.27" fill="none" stroke-linecap="round" stroke-linejoin="round" />
<path d="M52.3,294.5 C52.0,295.0 50.7,296.4 50.1,297.4 C49.6,298.5 49.3,300.1 49.1,300.7" stroke="#b8a27a" stroke-width="3.62" fill="none" stroke-linecap="round" stroke-linejoin="round" />
<path d="M52.3,294.5 C52.0,295.0 50.7,296.4 50.1,297.4 C49.6,298.5 49.3,300.1 49.1,300.7" stroke="#e8d8b4" stroke-width="2.82" fill="none" stroke-linecap="round" stroke-linejoin="round" />
<path d="M49.1,300.7 C49.2,300.1 49.6,298.5 49.6,297.3 C49.6,296.1 49.0,294.3 48.9,293.7" stroke="#b8a27a" stroke-width="1.27" fill="none" stroke-linecap="round" stroke-linejoin="round" />
<path d="M48.9,293.7 C48.6,294.2 47.2,295.6 46.7,296.6 C46.2,297.7 45.8,299.3 45.7,299.9" stroke="#b8a27a" stroke-width="3.62" fill="none" stroke-linecap="round" stroke-linejoin="round" />
<path d="M48.9,293.7 C48.6,294.2 47.2,295.6 46.7,296.6 C46.2,297.7 45.8,299.3 45.7,299.9" stroke="#e8d8b4" stroke-width="2.82" fill="none" stroke-linecap="round" stroke-linejoin="round" />
<path d="M45.7,299.9 C45.8,299.3 46.2,297.7 46.2,296.5 C46.2,295.3 45.6,293.5 45.5,292.9" stroke="#b8a27a" stroke-width="1.27" fill="none" stroke-linecap="round" stroke-linejoin="round" />
<path d="M45.5,292.9 C45.1,293.4 43.8,294.8 43.3,295.8 C42.7,296.9 42.4,298.5 42.3,299.1" stroke="#b8a27a" stroke-width="3.62" fill="none" stroke-linecap="round" stroke-linejoin="round" />
<path d="M45.5,292.9 C45.1,293.4 43.8,294.8 43.3,295.8 C42.7,296.9 42.4,298.5 42.3,299.1" stroke="#e8d8b4" stroke-width="2.82" fill="none" stroke-linecap="round" stroke-linejoin="round" />
<path d="M42.3,299.1 C42.3,298.5 42.8,296.9 42.8,295.7 C42.7,294.5 42.2,292.7 42.1,292.1" stroke="#b8a27a" stroke-width="1.27" fill="none" stroke-linecap="round" stroke-linejoin="round" />
<path d="M51.5,284.0 C51.9,284.9 53.6,287.6 53.8,289.5 C54.1,291.4 53.4,293.5 53.0,295.5 C52.7,297.5 52.8,299.8 51.7,301.3 C50.6,302.8 48.3,303.9 46.5,304.3 C44.6,304.8 42.3,303.4 40.5,303.9 C38.7,304.5 37.1,306.1 35.6,307.5 C34.2,308.8 32.5,311.4 31.9,312.2" stroke="#ded0b3" stroke-width="0.76" fill="none" stroke-linecap="round" stroke-linejoin="round" />
<path d="M19.9,306.4 C20.5,307.2 21.8,310.4 23.3,311.3 C24.9,312.1 27.4,311.1 29.3,311.5 C31.2,311.9 33.0,313.1 34.9,313.8 C36.7,314.5 38.6,315.1 40.6,315.7 C42.5,316.3 45.3,317.2 46.3,317.5" stroke="#d5c2a0" stroke-width="0.75" fill="none" stroke-linecap="round" stroke-linejoin="round" />
<path d="M51.7,321.6 C51.7,320.6 50.8,317.2 51.6,315.6 C52.4,314.1 55.1,313.6 56.6,312.2 C58.1,310.9 58.9,308.7 60.5,307.8 C62.2,306.8 65.4,306.7 66.4,306.5" stroke="#cbb791" stroke-width="1.21" fill="none" stroke-linecap="round" stroke-linejoin="round" />
<path d="M30.5,292.1 C30.0,292.5 28.4,293.6 27.6,294.5 C26.8,295.4 26.0,296.9 25.7,297.4" stroke="#c4ae88" stroke-width="3.61" fill="none" stroke-linecap="round" stroke-linejoin="round" />
<path d="M30.5,292.1 C30.0,292.5 28.4,293.6 27.6,294.5 C26.8,295.4 26.0,296.9 25.7,297.4" stroke="#efe2c4" stroke-width="2.81" fill="none" stroke-linecap="round" stroke-linejoin="round" />
<path d="M25.7,297.4 C26.0,296.9 26.9,295.4 27.2,294.3 C27.5,293.1 27.6,291.2 27.6,290.5" stroke="#c4ae88" stroke-width="1.26" fill="none" stroke-linecap="round" stroke-linejoin="round" />
<path d="M27.6,290.5 C27.1,290.9 25.5,292.0 24.7,292.9 C23.9,293.8 23.1,295.3 22.8,295.8" stroke="#c4ae88" stroke-width="3.61" fill="none" stroke-linecap="round" stroke-linejoin="round" />
<path d="M27.6,290.5 C27.1,290.9 25.5,292.0 24.7,292.9 C23.9,293.8 23.1,295.3 22.8,295.8" stroke="#efe2c4" stroke-width="2.81" fill="none" stroke-linecap="round" stroke-linejoin="round" />
<path d="M22.8,295.8 C23.1,295.3 24.0,293.8 24.3,292.7 C24.6,291.5 24.7,289.6 24.7,288.9" stroke="#c4ae88" stroke-width="1.26" fill="none" stroke-linecap="round" stroke-linejoin="round" />
<path d="M24.7,288.9 C24.2,289.3 22.6,290.4 21.8,291.3 C21.0,292.2 20.2,293.7 19.9,294.2" stroke="#c4ae88" stroke-width="3.61" fill="none" stroke-linecap="round" stroke-linejoin="round" />
<path d="M24.7,288.9 C24.2,289.3 22.6,290.4 21.8,291.3 C21.0,292.2 20.2,293.7 19.9,294.2" stroke="#efe2c4" stroke-width="2.81" fill="none" stroke-linecap="round" stroke-linejoin="round" />
<path d="M36.0,333.0 C36.2,332.3 37.0,330.3 37.3,329.0 C37.5,327.7 37.3,325.7 37.4,325.1" stroke="#b8a27a" stroke-width="3.69" fill="none" stroke-linecap="round" stroke-linejoin="round" />
<path d="M36.0,333.0 C36.2,332.3 37.0,330.3 37.3,329.0 C37.5,327.7 37.3,325.7 37.4,325.1" stroke="#e8d8b4" stroke-width="2.89" fill="none" stroke-linecap="round" stroke-linejoin="round" />
<path d="M37.4,325.1 C37.4,325.7 37.4,327.7 37.7,329.0 C38.0,330.3 39.0,332.3 39.2,332.9" stroke="#b8a27a" stroke-width="1.30" fill="none" stroke-linecap="round" stroke-linejoin="round" />
<path d="M39.2,332.9 C39.4,332.2 40.2,330.2 40.5,328.9 C40.7,327.6 40.6,325.6 40.6,325.0" stroke="#b8a27a" stroke-width="3.69" fill="none" stroke-linecap="round" stroke-linejoin="round" />
<path d="M39.2,332.9 C39.4,332.2 40.2,330.2 40.5,328.9 C40.7,327.6 40.6,325.6 40.6,325.0" stroke="#e8d8b4" stroke-width="2.89" fill="none" stroke-linecap="round" stroke-linejoin="round" />
<path d="M40.6,325.0 C40.6,325.6 40.6,327.6 40.9,328.9 C41.3,330.2 42.2,332.2 42.4,332.8" stroke="#b8a27a" stroke-width="1.30" fill="none" stroke-linecap="round" stroke-linejoin="round" />
<path d="M42.4,332.8 C42.6,332.1 43.4,330.1 43.7,328.8 C43.9,327.5 43.8,325.5 43.8,324.9" stroke="#b8a27a" stroke-width="3.69" fill="none" stroke-linecap="round" stroke-linejoin="round" />
<path d="M42.4,332.8 C42.6,332.1 43.4,330.1 43.7,328.8 C43.9,327.5 43.8,325.5 43.8,324.9" stroke="#e8d8b4" stroke-width="2.89" fill="none" stroke-linecap="round" stroke-linejoin="round" />
<path d="M43.8,324.9 C43.8,325.5 43.8,327.5 44.2,328.8 C44.5,330.1 45.4,332.0 45.6,332.7" stroke="#b8a27a" stroke-width="1.30" fill="none" stroke-linecap="round" stroke-linejoin="round" />
<path d="M45.6,332.7 C45.8,332.0 46.7,330.0 46.9,328.7 C47.1,327.4 47.0,325.4 47.0,324.8" stroke="#b8a27a" stroke-width="3.69" fill="none" stroke-linecap="round" stroke-linejoin="round" />
<path d="M45.6,332.7 C45.8,332.0 46.7,330.0 46.9,328.7 C47.1,327.4 47.0,325.4 47.0,324.8" stroke="#e8d8b4" stroke-width="2.89" fill="none" stroke-linecap="round" stroke-linejoin="round" />
<path d="M47.0,324.8 C47.1,325.4 47.0,327.4 47.4,328.7 C47.7,330.0 48.6,331.9 48.9,332.6" stroke="#b8a27a" stroke-width="1.30" fill="none" stroke-linecap="round" stroke-linejoin="round" />
<path d="M30.3,311.1 C30.9,311.4 32.7,312.6 34.0,313.0 C35.2,313.4 37.1,313.5 37.8,313.6" stroke="#c4ae88" stroke-width="3.62" fill="none" stroke-linecap="round" stroke-linejoin="round" />
<path d="M30.3,311.1 C30.9,311.4 32.7,312.6 34.0,313.0 C35.2,313.4 37.1,313.5 37.8,313.6" stroke="#efe2c4" stroke-width="2.82" fill="none" stroke-linecap="round" stroke-linejoin="round" />
<path d="M37.8,313.6 C37.1,313.6 35.2,313.3 33.9,313.5 C32.6,313.7 30.6,314.4 30.0,314.6" stroke="#c4ae88" stroke-width="1.27" fill="none" stroke-linecap="round" stroke-linejoin="round" />
<path d="M30.0,314.6 C30.6,314.9 32.4,316.1 33.6,316.5 C34.9,316.9 36.8,317.0 37.4,317.1" stroke="#c4ae88" stroke-width="3.62" fill="none" stroke-linecap="round" stroke-linejoin="round" />
<path d="M30.0,314.6 C30.6,314.9 32.4,316.1 33.6,316.5 C34.9,316.9 36.8,317.0 37.4,317.1" stroke="#efe2c4" stroke-width="2.82" fill="none" stroke-linecap="round" stroke-linejoin="round" />
<path d="M37.4,317.1 C36.8,317.1 34.9,316.9 33.6,317.0 C32.3,317.2 30.3,318.0 29.6,318.1" stroke="#c4ae88" stroke-width="1.27" fill="none" stroke-linecap="round" stroke-linejoin="round" />
<path d="M29.6,318.1 C30.2,318.5 32.0,319.6 33.3,320.0 C34.5,320.4 36.4,320.6 37.0,320.7" stroke="#c4ae88" stroke-width="3.62" fill="none" stroke-linecap="round" stroke-linejoin="round" />
<path d="M29.6,318.1 C30.2,318.5 32.0,319.6 33.3,320.0 C34.5,320.4 36.4,320.6 37.0,320.7" stroke="#efe2c4" stroke-width="2.82" fill="none" stroke-linecap="round" stroke-linejoin="round" />
<path d="M37.0,320.7 C36.4,320.6 34.5,320.4 33.2,320.5 C31.9,320.7 29.9,321.5 29.3,321.7" stroke="#c4ae88" stroke-width="1.27" fill="none" stroke-linecap="round" stroke-linejoin="round" />
<path d="M25.0,288.1 C24.0,288.4 19.2,289.0 19.2,289.7 C19.1,290.3 22.7,292.2 24.5,292.3 C26.4,292.4 28.2,290.5 30.1,290.1 C32.0,289.6 34.3,290.2 36.1,289.5 C37.9,288.9 40.1,286.6 40.9,286.0" stroke="#d5c2a0" stroke-width="0.99" fill="none" stroke-linecap="round" stroke-linejoin="round" />
<path d="M27.0,315.2 C27.4,314.7 29.0,313.5 29.8,312.6 C30.5,311.6 31.1,310.0 31.4,309.5" stroke="#c4ae88" stroke-width="3.75" fill="none" stroke-linecap="round" stroke-linejoin="round" />
<path d="M27.0,315.2 C27.4,314.7 29.0,313.5 29.8,312.6 C30.5,311.6 31.1,310.0 31.4,309.5" stroke="#efe2c4" stroke-width="2.95" fill="none" stroke-linecap="round" stroke-linejoin="round" />
<path d="M31.4,309.5 C31.2,310.0 30.4,311.6 30.3,312.8 C30.1,314.0 30.3,315.9 30.3,316.6" stroke="#c4ae88" stroke-width="1.33" fill="none" stroke-linecap="round" stroke-linejoin="round" />
<path d="M30.3,316.6 C30.8,316.2 32.4,314.9 33.1,314.0 C33.8,313.0 34.5,311.4 34.7,310.9" stroke="#c4ae88" stroke-width="3.75" fill="none" stroke-linecap="round" stroke-linejoin="round" />
<path d="M30.3,316.6 C30.8,316.2 32.4,314.9 33.1,314.0 C33.8,313.0 34.5,311.4 34.7,310.9" stroke="#efe2c4" stroke-width="2.95" fill="none" stroke-linecap="round" stroke-linejoin="round" />
<path d="M34.7,310.9 C34.5,311.4 33.8,313.0 33.6,314.2 C33.4,315.4 33.7,317.4 33.7,318.0" stroke="#c4ae88" stroke-width="1.33" fill="none" stroke-linecap="round" stroke-linejoin="round" />
<path d="M33.7,318.0 C34.1,317.6 35.7,316.4 36.5,315.4 C37.2,314.5 37.8,312.8 38.1,312.3" stroke="#c4ae88" stroke-width="3.75" fill="none" stroke-linecap="round" stroke-linejoin="round" />
<path d="M33.7,318.0 C34.1,317.6 35.7,316.4 36.5,315.4 C37.2,314.5 37.8,312.8 38.1,312.3" stroke="#efe2c4" stroke-width="2.95" fill="none" stroke-linecap="round" stroke-linejoin="round" />
<path d="M38.1,312.3 C37.9,312.9 37.1,314.4 37.0,315.6 C36.8,316.8 37.0,318.8 37.0,319.4" stroke="#c4ae88" stroke-width="1.33" fill="none" stroke-linecap="round" stroke-linejoin="round" />
<path d="M69.9,299.3 C69.4,299.6 67.5,300.4 66.6,301.1 C65.6,301.9 64.5,303.3 64.1,303.7" stroke="#d0bf9e" stroke-width="3.87" fill="none" stroke-linecap="round" stroke-linejoin="round" />
<path d="M69.9,299.3 C69.4,299.6 67.5,300.4 66.6,301.1 C65.6,301.9 64.5,303.3 64.1,303.7" stroke="#f4ead4" stroke-width="3.07" fill="none" stroke-linecap="round" stroke-linejoin="round" />
<path d="M64.1,303.7 C64.5,303.2 65.6,301.9 66.2,300.8 C66.8,299.7 67.2,297.8 67.4,297.2" stroke="#d0bf9e" stroke-width="1.38" fill="none" stroke-linecap="round" stroke-linejoin="round" />
<path d="M67.4,297.2 C66.9,297.5 65.1,298.3 64.1,299.1 C63.1,299.8 62.0,301.2 61.6,301.7" stroke="#d0bf9e" stroke-width="3.87" fill="none" stroke-linecap="round" stroke-linejoin="round" />
<path d="M67.4,297.2 C66.9,297.5 65.1,298.3 64.1,299.1 C63.1,299.8 62.0,301.2 61.6,301.7" stroke="#f4ead4" stroke-width="3.07" fill="none" stroke-linecap="round" stroke-linejoin="round" />
<path d="M61.6,301.7 C62.0,301.2 63.2,299.8 63.7,298.8 C64.3,297.7 64.7,295.7 64.9,295.1" stroke="#d0bf9e" stroke-width="1.38" fill="none" stroke-linecap="round" stroke-linejoin="round" />
<path d="M64.9,295.1 C64.4,295.4 62.6,296.2 61.6,297.0 C60.6,297.7 59.5,299.1 59.1,299.6" stroke="#d0bf9e" stroke-width="3.87" fill="none" stroke-linecap="round" stroke-linejoin="round" />
<path d="M64.9,295.1 C64.4,295.4 62.6,296.2 61.6,297.0 C60.6,297.7 59.5,299.1 59.1,299.6" stroke="#f4ead4" stroke-width="3.07" fill="none" stroke-linecap="round" stroke-linejoin="round" />
<path d="M63.0,309.8 C62.4,309.0 60.6,306.7 59.2,305.2 C57.9,303.7 56.7,301.8 55.0,300.9 C53.3,300.0 50.8,300.6 49.2,299.7 C47.5,298.7 46.6,295.9 44.9,295.4 C43.2,294.9 40.4,295.4 39.0,296.5 C37.6,297.5 37.4,300.2 36.4,301.9 C35.4,303.6 34.3,305.4 32.8,306.7 C31.4,308.0 28.6,309.3 27.7,309.8" stroke="#cbb791" stroke-width="1.29" fill="none" stroke-linecap="round" stroke-linejoin="round" />
<path d="M51.9,287.0 C51.8,287.7 51.3,289.8 51.3,291.1 C51.3,292.4 51.8,294.3 51.9,294.9" stroke="#c4ae88" stroke-width="3.88" fill="none" stroke-linecap="round" stroke-linejoin="round" />
<path d="M51.9,287.0 C51.8,287.7 51.3,289.8 51.3,291.1 C51.3,292.4 51.8,294.3 51.9,294.9" stroke="#efe2c4" stroke-width="3.08" fill="none" stroke-linecap="round" stroke-linejoin="round" />
<path d="M51.9,294.9 C51.7,294.3 51.4,292.4 50.8,291.2 C50.3,290.0 48.9,288.3 48.6,287.7" stroke="#c4ae88" stroke-width="1.39" fill="none" stroke-linecap="round" stroke-linejoin="round" />
<path d="M48.6,287.7 C48.5,288.4 48.0,290.5 48.0,291.8 C48.0,293.2 48.5,295.0 48.6,295.7" stroke="#c4ae88" stroke-width="3.88" fill="none" stroke-linecap="round" stroke-linejoin="round" />
<path d="M48.6,287.7 C48.5,288.4 48.0,290.5 48.0,291.8 C48.0,293.2 48.5,295.0 48.6,295.7" stroke="#efe2c4" stroke-width="3.08" fill="none" stroke-linecap="round" stroke-linejoin="round" />
<path d="M48.6,295.7 C48.4,295.0 48.1,293.1 47.5,291.9 C46.9,290.7 45.6,289.1 45.2,288.5" stroke="#c4ae88" stroke-width="1.39" fill="none" stroke-linecap="round" stroke-linejoin="round" />
<path d="M45.2,288.5 C45.1,289.2 44.7,291.3 44.7,292.6 C44.7,293.9 45.2,295.8 45.3,296.4" stroke="#c4ae88" stroke-width="3.88" fill="none" stroke-linecap="round" stroke-linejoin="round" />
<path d="M45.2,288.5 C45.1,289.2 44.7,291.3 44.7,292.6 C44.7,293.9 45.2,295.8 45.3,296.4" stroke="#efe2c4" stroke-width="3.08" fill="none" stroke-linecap="round" stroke-linejoin="round" />
<path d="M45.3,296.4 C45.1,295.8 44.7,293.9 44.2,292.7 C43.6,291.5 42.3,289.8 41.9,289.2" stroke="#c4ae88" stroke-width="1.39" fill="none" stroke-linecap="round" stroke-linejoin="round" />
<path d="M61.1,331.3 C60.6,330.4 58.8,328.0 57.9,326.2 C57.0,324.4 56.4,322.5 55.7,320.6 C54.9,318.8 53.5,317.0 53.4,315.1 C53.3,313.2 54.4,311.2 55.0,309.3 C55.6,307.4 56.5,304.5 56.8,303.6" stroke="#ded0b3" stroke-width="0.76" fill="none" stroke-linecap="round" stroke-linejoin="round" />
<path d="M52.5,357.5 C51.8,356.8 49.1,355.0 48.3,353.2 C47.5,351.5 47.1,349.1 47.6,347.3 C48.1,345.5 50.8,344.3 51.3,342.5 C51.7,340.7 50.9,338.5 50.5,336.6 C50.1,334.6 49.0,331.8 48.7,330.8" stroke="#cbb791" stroke-width="1.04" fill="none" stroke-linecap="round" stroke-linejoin="round" />
<path d="M22.9,359.9 C23.9,359.8 26.9,359.4 28.8,359.1 C30.8,358.8 34.7,358.1 34.7,357.9 C34.7,357.7 29.7,357.8 28.7,357.8" stroke="#ded0b3" stroke-width="0.76" fill="none" stroke-linecap="round" stroke-linejoin="round" />
<path d="M25.8,355.2 C25.9,354.6 26.5,352.7 26.6,351.4 C26.6,350.2 26.2,348.4 26.1,347.8" stroke="#d0bf9e" stroke-width="3.89" fill="none" stroke-linecap="round" stroke-linejoin="round" />
<path d="M25.8,355.2 C25.9,354.6 26.5,352.7 26.6,351.4 C26.6,350.2 26.2,348.4 26.1,347.8" stroke="#f4ead4" stroke-width="3.09" fill="none" stroke-linecap="round" stroke-linejoin="round" />
<path d="M26.1,347.8 C26.3,348.4 26.5,350.2 27.0,351.3 C27.5,352.5 28.8,354.1 29.1,354.6" stroke="#d0bf9e" stroke-width="1.39" fill="none" stroke-linecap="round" stroke-linejoin="round" />
<path d="M29.1,354.6 C29.2,354.0 29.8,352.0 29.8,350.8 C29.9,349.6 29.5,347.8 29.4,347.2" stroke="#d0bf9e" stroke-width="3.89" fill="none" stroke-linecap="round" stroke-linejoin="round" />
<path d="M29.1,354.6 C29.2,354.0 29.8,352.0 29.8,350.8 C29.9,349.6 29.5,347.8 29.4,347.2" stroke="#f4ead4" stroke-width="3.09" fill="none" stroke-linecap="round" stroke-linejoin="round" />
<path d="M29.4,347.2 C29.6,347.8 29.8,349.6 30.3,350.7 C30.8,351.8 32.0,353.4 32.4,354.0" stroke="#d0bf9e" stroke-width="1.39" fill="none" stroke-linecap="round" stroke-linejoin="round" />
<path d="M32.4,354.0 C32.5,353.4 33.1,351.4 33.1,350.2 C33.2,348.9 32.8,347.2 32.7,346.6" stroke="#d0bf9e" stroke-width="3.89" fill="none" stroke-linecap="round" stroke-linejoin="round" />
<path d="M32.4,354.0 C32.5,353.4 33.1,351.4 33.1,350.2 C33.2,348.9 32.8,347.2 32.7,346.6" stroke="#f4ead4" stroke-width="3.09" fill="none" stroke-linecap="round" stroke-linejoin="round" />
<path d="M32.7,346.6 C32.8,347.2 33.1,349.0 33.6,350.1 C34.1,351.2 35.3,352.8 35.7,353.4" stroke="#d0bf9e" stroke-width="1.39" fill="none" stroke-linecap="round" stroke-linejoin="round" />
<path d="M35.7,353.4 C35.8,352.7 36.3,350.8 36.4,349.6 C36.4,348.3 36.0,346.6 36.0,346.0" stroke="#d0bf9e" stroke-width="3.89" fill="none" stroke-linecap="round" stroke-linejoin="round" />
<path d="M35.7,353.4 C35.8,352.7 36.3,350.8 36.4,349.6 C36.4,348.3 36.0,346.6 36.0,346.0" stroke="#f4ead4" stroke-width="3.09" fill="none" stroke-linecap="round" stroke-linejoin="round" />
<path d="M39.5,278.9 C40.5,278.9 44.2,277.9 45.5,278.9 C46.7,279.9 45.9,283.2 47.0,284.7 C48.1,286.2 50.3,287.1 52.1,287.8 C54.0,288.4 56.6,287.6 58.1,288.6 C59.5,289.7 60.2,292.0 60.9,293.9 C61.6,295.8 62.0,298.8 62.2,299.8" stroke="#d5c2a0" stroke-width="1.21" fill="none" stroke-linecap="round" stroke-linejoin="round" />
<path d="M67.2,310.2 C68.2,310.0 71.1,308.2 73.3,309.0 C75.5,309.8 78.9,312.6 80.5,315.0 C82.1,317.4 83.8,321.5 83.0,323.5 C82.2,325.5 76.9,327.4 75.7,327.2 C74.5,327.0 74.1,322.1 75.7,322.3 C77.3,322.5 83.6,326.6 85.4,328.4 C87.2,330.2 86.4,332.5 86.6,333.3" stroke="#c88420" stroke-width="1.90" fill="none" stroke-linecap="round" stroke-linejoin="round" />
<path d="M67.2,310.2 C68.2,310.0 71.1,308.2 73.3,309.0 C75.5,309.8 78.9,312.6 80.5,315.0 C82.1,317.4 83.8,321.5 83.0,323.5 C82.2,325.5 76.9,327.4 75.7,327.2 C74.5,327.0 74.1,322.1 75.7,322.3 C77.3,322.5 83.6,326.6 85.4,328.4 C87.2,330.2 86.4,332.5 86.6,333.3" stroke="#e09418" stroke-width="1.50" fill="none" stroke-linecap="round" stroke-linejoin="round" />
<line x1="81.70" y1="306.60" x2="87.80" y2="310.20" stroke="#c23ee0" stroke-width="1.3" />
<line x1="87.80" y1="310.20" x2="100.00" y2="305.30" stroke="#c23ee0" stroke-width="1.3" />
<line x1="100.00" y1="305.30" x2="104.80" y2="302.90" stroke="#c23ee0" stroke-width="1.3" />
<line x1="87.80" y1="311.40" x2="92.70" y2="321.10" stroke="#c23ee0" stroke-width="1.3" />
<line x1="92.70" y1="321.10" x2="98.70" y2="326.00" stroke="#c23ee0" stroke-width="1.3" />
<line x1="98.70" y1="326.00" x2="100.00" y2="339.30" stroke="#c23ee0" stroke-width="1.3" />
<line x1="85.00" y1="304.00" x2="88.00" y2="300.00" stroke="#c23ee0" stroke-width="1.3" />
<line x1="93.00" y1="306.00" x2="95.00" y2="300.00" stroke="#c23ee0" stroke-width="1.3" />
<path d="M118.0,362.0 C119.0,358.3 122.3,346.7 124.0,340.0 C125.7,333.3 127.7,326.7 128.0,322.0 C128.3,317.3 126.3,313.7 126.0,312.0" stroke="#aab2aa" stroke-width="3.70" fill="none" stroke-linecap="round" stroke-linejoin="round" />
<path d="M118.0,362.0 C119.0,358.3 122.3,346.7 124.0,340.0 C125.7,333.3 127.7,326.7 128.0,322.0 C128.3,317.3 126.3,313.7 126.0,312.0" stroke="#e4e9e4" stroke-width="2.80" fill="none" stroke-linecap="round" stroke-linejoin="round" />
<path d="M124.0,362.0 C125.7,358.7 131.0,347.8 134.0,342.0 C137.0,336.2 139.3,331.0 142.0,327.0 C144.7,323.0 148.7,319.5 150.0,318.0" stroke="#aab2aa" stroke-width="3.90" fill="none" stroke-linecap="round" stroke-linejoin="round" />
<path d="M124.0,362.0 C125.7,358.7 131.0,347.8 134.0,342.0 C137.0,336.2 139.3,331.0 142.0,327.0 C144.7,323.0 148.7,319.5 150.0,318.0" stroke="#e4e9e4" stroke-width="3.00" fill="none" stroke-linecap="round" stroke-linejoin="round" />
<path d="M130.0,362.0 C132.0,359.5 138.3,351.2 142.0,347.0 C145.7,342.8 149.5,339.5 152.0,337.0 C154.5,334.5 156.2,332.8 157.0,332.0" stroke="#aab2aa" stroke-width="3.70" fill="none" stroke-linecap="round" stroke-linejoin="round" />
<path d="M130.0,362.0 C132.0,359.5 138.3,351.2 142.0,347.0 C145.7,342.8 149.5,339.5 152.0,337.0 C154.5,334.5 156.2,332.8 157.0,332.0" stroke="#e4e9e4" stroke-width="2.80" fill="none" stroke-linecap="round" stroke-linejoin="round" />
<path d="M110.0,362.0 C110.3,359.3 112.3,351.2 112.0,346.0 C111.7,340.8 108.7,333.5 108.0,331.0" stroke="#aab2aa" stroke-width="3.50" fill="none" stroke-linecap="round" stroke-linejoin="round" />
<path d="M110.0,362.0 C110.3,359.3 112.3,351.2 112.0,346.0 C111.7,340.8 108.7,333.5 108.0,331.0" stroke="#e4e9e4" stroke-width="2.60" fill="none" stroke-linecap="round" stroke-linejoin="round" />
<path d="M100.0,360.0 C99.3,357.5 97.7,348.7 96.0,345.0 C94.3,341.3 91.0,339.2 90.0,338.0" stroke="#aab2aa" stroke-width="3.30" fill="none" stroke-linecap="round" stroke-linejoin="round" />
<path d="M100.0,360.0 C99.3,357.5 97.7,348.7 96.0,345.0 C94.3,341.3 91.0,339.2 90.0,338.0" stroke="#e4e9e4" stroke-width="2.40" fill="none" stroke-linecap="round" stroke-linejoin="round" />
<path d="M137.8,314.6 C138.0,314.7 138.6,315.1 139.1,315.2 C139.7,315.2 140.3,315.2 140.9,315.0 C141.4,314.9 142.1,314.5 142.6,314.2 C143.1,313.9 143.5,313.5 143.9,313.1 C144.2,312.8 144.4,312.3 144.5,312.1 C144.7,311.8 144.6,311.5 144.5,311.4 C144.4,311.3 144.2,311.4 143.9,311.5 C143.6,311.6 143.3,311.9 142.9,312.3 C142.6,312.7 142.3,313.2 142.0,313.8 C141.8,314.3 141.6,315.0 141.5,315.5 C141.4,316.1 141.4,316.8 141.5,317.3 C141.7,317.8 142.0,318.2 142.3,318.6 C142.7,318.9 143.2,319.1 143.7,319.2 C144.2,319.2 144.9,319.2 145.4,319.0 C146.0,318.9 146.6,318.5 147.1,318.2 C147.6,317.9 148.1,317.5 148.4,317.1 C148.8,316.8 149.0,316.3 149.1,316.1 C149.2,315.8 149.2,315.5 149.1,315.4 C149.0,315.3 148.7,315.4 148.5,315.5 C148.2,315.6 147.8,315.9 147.5,316.3 C147.2,316.7 146.8,317.2 146.6,317.8 C146.3,318.3 146.1,319.0 146.0,319.5 C146.0,320.1 146.0,320.8 146.1,321.3 C146.3,321.8 146.5,322.2 146.9,322.6 C147.3,322.9 147.8,323.1 148.3,323.2 C148.8,323.2 149.4,323.2 150.0,323.0 C150.6,322.9 151.2,322.5 151.7,322.2 C152.2,321.9 152.7,321.5 153.0,321.1 C153.3,320.8 153.6,320.3 153.7,320.1 C153.8,319.8 153.8,319.5 153.7,319.4 C153.6,319.3 153.3,319.4 153.0,319.5 C152.8,319.6 152.4,319.9 152.1,320.3 C151.8,320.7 151.4,321.2 151.2,321.8 C150.9,322.3 150.7,323.0 150.6,323.5 C150.5,324.1 150.5,324.8 150.7,325.3 C150.8,325.8 151.1,326.2 151.5,326.6 C151.8,326.9 152.3,327.1 152.9,327.2 C153.4,327.2 154.0,327.2 154.6,327.0 C155.1,326.9 155.8,326.5 156.3,326.2 C156.8,325.9 157.2,325.5 157.6,325.1 C157.9,324.8 158.2,324.3 158.3,324.1 C158.4,323.8 158.2,323.5 158.2,323.4" stroke="#aab2aa" stroke-width="3.40" fill="none" stroke-linecap="round" stroke-linejoin="round" />
<path d="M137.8,314.6 C138.0,314.7 138.6,315.1 139.1,315.2 C139.7,315.2 140.3,315.2 140.9,315.0 C141.4,314.9 142.1,314.5 142.6,314.2 C143.1,313.9 143.5,313.5 143.9,313.1 C144.2,312.8 144.4,312.3 144.5,312.1 C144.7,311.8 144.6,311.5 144.5,311.4 C144.4,311.3 144.2,311.4 143.9,311.5 C143.6,311.6 143.3,311.9 142.9,312.3 C142.6,312.7 142.3,313.2 142.0,313.8 C141.8,314.3 141.6,315.0 141.5,315.5 C141.4,316.1 141.4,316.8 141.5,317.3 C141.7,317.8 142.0,318.2 142.3,318.6 C142.7,318.9 143.2,319.1 143.7,319.2 C144.2,319.2 144.9,319.2 145.4,319.0 C146.0,318.9 146.6,318.5 147.1,318.2 C147.6,317.9 148.1,317.5 148.4,317.1 C148.8,316.8 149.0,316.3 149.1,316.1 C149.2,315.8 149.2,315.5 149.1,315.4 C149.0,315.3 148.7,315.4 148.5,315.5 C148.2,315.6 147.8,315.9 147.5,316.3 C147.2,316.7 146.8,317.2 146.6,317.8 C146.3,318.3 146.1,319.0 146.0,319.5 C146.0,320.1 146.0,320.8 146.1,321.3 C146.3,321.8 146.5,322.2 146.9,322.6 C147.3,322.9 147.8,323.1 148.3,323.2 C148.8,323.2 149.4,323.2 150.0,323.0 C150.6,322.9 151.2,322.5 151.7,322.2 C152.2,321.9 152.7,321.5 153.0,321.1 C153.3,320.8 153.6,320.3 153.7,320.1 C153.8,319.8 153.8,319.5 153.7,319.4 C153.6,319.3 153.3,319.4 153.0,319.5 C152.8,319.6 152.4,319.9 152.1,320.3 C151.8,320.7 151.4,321.2 151.2,321.8 C150.9,322.3 150.7,323.0 150.6,323.5 C150.5,324.1 150.5,324.8 150.7,325.3 C150.8,325.8 151.1,326.2 151.5,326.6 C151.8,326.9 152.3,327.1 152.9,327.2 C153.4,327.2 154.0,327.2 154.6,327.0 C155.1,326.9 155.8,326.5 156.3,326.2 C156.8,325.9 157.2,325.5 157.6,325.1 C157.9,324.8 158.2,324.3 158.3,324.1 C158.4,323.8 158.2,323.5 158.2,323.4" stroke="#e8ece8" stroke-width="2.60" fill="none" stroke-linecap="round" stroke-linejoin="round" />
<path d="M150.0,300.0 C151.3,301.0 157.3,303.7 158.0,306.0 C158.7,308.3 155.7,313.0 154.0,314.0 C152.3,315.0 149.0,312.3 148.0,312.0" stroke="#b8beb8" stroke-width="1.00" fill="none" stroke-linecap="round" stroke-linejoin="round" />
<text x="2.40" y="11.90" font-size="12.10" text-anchor="start" font-weight="bold" fill="#111" stroke="#111" stroke-width="0.55" textLength="8.36" lengthAdjust="spacingAndGlyphs" >A</text>
<text x="206.90" y="11.90" font-size="12.10" text-anchor="start" font-weight="bold" fill="#111" stroke="#111" stroke-width="0.55" textLength="8.23" lengthAdjust="spacingAndGlyphs" >B</text>
<text x="467.00" y="12.20" font-size="12.10" text-anchor="start" font-weight="bold" fill="#111" stroke="#111" stroke-width="0.55" textLength="7.93" lengthAdjust="spacingAndGlyphs" >C</text>
<text x="2.50" y="183.90" font-size="12.10" text-anchor="start" font-weight="bold" fill="#111" stroke="#111" stroke-width="0.55" textLength="8.96" lengthAdjust="spacingAndGlyphs" >D</text>
<text x="170.90" y="184.10" font-size="12.10" text-anchor="start" font-weight="bold" fill="#111" stroke="#111" stroke-width="0.55" textLength="7.38" lengthAdjust="spacingAndGlyphs" >E</text>
<text x="497.40" y="184.30" font-size="12.10" text-anchor="start" font-weight="bold" fill="#111" stroke="#111" stroke-width="0.55" textLength="7.38" lengthAdjust="spacingAndGlyphs" >F</text>
<rect x="323.88" y="18.40" width="8.00" height="111.50" fill="#f49a88" />
<rect x="376.36" y="18.40" width="8.00" height="111.50" fill="#f4a0f4" />
<line x1="285.24" y1="18.50" x2="285.24" y2="129.90" stroke="#2a6fc0" stroke-width="1.5" stroke-dasharray="5,2.6"/>
<line x1="344.28" y1="18.50" x2="344.28" y2="129.90" stroke="#2a6fc0" stroke-width="1.5" stroke-dasharray="5,2.6"/>
<polygon points="259.00,86.48 265.56,90.95 272.12,101.73 278.68,112.34 285.24,100.40 291.80,77.52 298.36,45.86 304.92,32.92 311.48,24.63 318.04,33.25 324.60,32.92 331.16,59.78 337.72,72.72 344.28,86.97 350.84,79.18 357.40,63.93 363.96,81.83 370.52,84.16 377.08,84.16 383.64,83.16 390.20,91.95 396.76,84.82 403.32,91.95 409.88,91.95 416.44,105.05 423.00,75.87 423.00,85.81 416.44,114.99 409.88,101.90 403.32,101.90 396.76,94.77 390.20,101.90 383.64,93.11 377.08,94.10 370.52,94.10 363.96,91.78 357.40,73.88 350.84,89.13 344.28,96.92 337.72,82.66 331.16,69.73 324.60,42.87 318.04,43.20 311.48,34.58 304.92,42.87 298.36,55.80 291.80,87.47 285.24,110.35 278.68,122.29 272.12,111.68 265.56,100.90 259.00,96.42" fill="#d8d8d8" opacity="0.22"/>
<polyline points="259.00,91.45 265.56,95.93 272.12,106.70 278.68,117.32 285.24,105.38 291.80,82.50 298.36,50.83 304.92,37.90 311.48,29.61 318.04,38.23 324.60,37.90 331.16,64.76 337.72,77.69 344.28,91.95 350.84,84.16 357.40,68.90 363.96,86.81 370.52,89.13 377.08,89.13 383.64,88.13 390.20,96.92 396.76,89.79 403.32,96.92 409.88,96.92 416.44,110.02 423.00,80.84" stroke="#d4d4d4" stroke-width="1.5" fill="none" />
<rect x="257.00" y="89.45" width="4.00" height="4.00" fill="#d4d4d4" />
<rect x="263.56" y="93.93" width="4.00" height="4.00" fill="#d4d4d4" />
<rect x="270.12" y="104.70" width="4.00" height="4.00" fill="#d4d4d4" />
<rect x="276.68" y="115.32" width="4.00" height="4.00" fill="#d4d4d4" />
<rect x="283.24" y="103.38" width="4.00" height="4.00" fill="#d4d4d4" />
<rect x="289.80" y="80.50" width="4.00" height="4.00" fill="#d4d4d4" />
<rect x="296.36" y="48.83" width="4.00" height="4.00" fill="#d4d4d4" />
<rect x="302.92" y="35.90" width="4.00" height="4.00" fill="#d4d4d4" />
<rect x="309.48" y="27.61" width="4.00" height="4.00" fill="#d4d4d4" />
<rect x="316.04" y="36.23" width="4.00" height="4.00" fill="#d4d4d4" />
<rect x="322.60" y="35.90" width="4.00" height="4.00" fill="#d4d4d4" />
<rect x="329.16" y="62.76" width="4.00" height="4.00" fill="#d4d4d4" />
<rect x="335.72" y="75.69" width="4.00" height="4.00" fill="#d4d4d4" />
<rect x="342.28" y="89.95" width="4.00" height="4.00" fill="#d4d4d4" />
<rect x="348.84" y="82.16" width="4.00" height="4.00" fill="#d4d4d4" />
<rect x="355.40" y="66.90" width="4.00" height="4.00" fill="#d4d4d4" />
<rect x="361.96" y="84.81" width="4.00" height="4.00" fill="#d4d4d4" />
<rect x="368.52" y="87.13" width="4.00" height="4.00" fill="#d4d4d4" />
<rect x="375.08" y="87.13" width="4.00" height="4.00" fill="#d4d4d4" />
<rect x="381.64" y="86.13" width="4.00" height="4.00" fill="#d4d4d4" />
<rect x="388.20" y="94.92" width="4.00" height="4.00" fill="#d4d4d4" />
<rect x="394.76" y="87.79" width="4.00" height="4.00" fill="#d4d4d4" />
<rect x="401.32" y="94.92" width="4.00" height="4.00" fill="#d4d4d4" />
<rect x="407.88" y="94.92" width="4.00" height="4.00" fill="#d4d4d4" />
<rect x="414.44" y="108.02" width="4.00" height="4.00" fill="#d4d4d4" />
<rect x="421.00" y="78.84" width="4.00" height="4.00" fill="#d4d4d4" />
<polyline points="259.00,94.32 265.56,79.54 272.12,63.90 278.68,78.67 285.24,78.67 291.80,76.07 298.36,61.29 304.92,85.63 311.48,67.38 318.04,23.06 324.60,44.78 337.72,109.96 344.28,67.38 350.84,82.15" stroke="#2b3b4b" stroke-width="1.4" fill="none" />
<line x1="350.84" y1="82.15" x2="396.76" y2="76.07" stroke="#2b3b4b" stroke-width="1.4" stroke-dasharray="3,2"/>
<polyline points="396.76,76.07 403.32,88.23 409.88,91.71 416.44,89.97 423.00,101.27" stroke="#2b3b4b" stroke-width="1.4" fill="none" />
<circle cx="259.00" cy="94.32" r="2.1" fill="#2b3b4b"/>
<circle cx="265.56" cy="79.54" r="2.1" fill="#2b3b4b"/>
<circle cx="272.12" cy="63.90" r="2.1" fill="#2b3b4b"/>
<circle cx="278.68" cy="78.67" r="2.1" fill="#2b3b4b"/>
<circle cx="285.24" cy="78.67" r="2.1" fill="#2b3b4b"/>
<circle cx="291.80" cy="76.07" r="2.1" fill="#2b3b4b"/>
<circle cx="298.36" cy="61.29" r="2.1" fill="#2b3b4b"/>
<circle cx="304.92" cy="85.63" r="2.1" fill="#2b3b4b"/>
<circle cx="311.48" cy="67.38" r="2.1" fill="#2b3b4b"/>
<circle cx="318.04" cy="23.06" r="2.1" fill="#2b3b4b"/>
<circle cx="324.60" cy="44.78" r="2.1" fill="#2b3b4b"/>
<circle cx="337.72" cy="109.96" r="2.1" fill="#2b3b4b"/>
<circle cx="344.28" cy="67.38" r="2.1" fill="#2b3b4b"/>
<circle cx="350.84" cy="82.15" r="2.1" fill="#2b3b4b"/>
<circle cx="396.76" cy="76.07" r="2.1" fill="#2b3b4b"/>
<circle cx="403.32" cy="88.23" r="2.1" fill="#2b3b4b"/>
<circle cx="409.88" cy="91.71" r="2.1" fill="#2b3b4b"/>
<circle cx="416.44" cy="89.97" r="2.1" fill="#2b3b4b"/>
<line x1="259.30" y1="18.00" x2="259.30" y2="130.50" stroke="#111" stroke-width="1.25" />
<line x1="422.40" y1="18.00" x2="422.40" y2="130.50" stroke="#111" stroke-width="1.25" />
<line x1="258.70" y1="129.90" x2="423.00" y2="129.90" stroke="#111" stroke-width="1.25" />
<line x1="254.30" y1="125.60" x2="259.30" y2="125.60" stroke="#111" stroke-width="1.1" />
<text x="252.90" y="129.20" font-size="10.64" text-anchor="end" font-weight="normal" fill="#262626" stroke="#262626" stroke-width="0.22" textLength="6.04" lengthAdjust="spacingAndGlyphs" >0</text>
<line x1="254.30" y1="82.15" x2="259.30" y2="82.15" stroke="#111" stroke-width="1.1" />
<text x="252.90" y="85.75" font-size="10.64" text-anchor="end" font-weight="normal" fill="#262626" stroke="#262626" stroke-width="0.22" textLength="6.04" lengthAdjust="spacingAndGlyphs" >5</text>
<line x1="254.30" y1="38.70" x2="259.30" y2="38.70" stroke="#111" stroke-width="1.1" />
<text x="252.90" y="42.30" font-size="10.64" text-anchor="end" font-weight="normal" fill="#262626" stroke="#262626" stroke-width="0.22" textLength="12.09" lengthAdjust="spacingAndGlyphs" >10</text>
<line x1="259.00" y1="129.90" x2="259.00" y2="134.40" stroke="#111" stroke-width="1.1" />
<text x="259.00" y="144.30" font-size="10.64" text-anchor="middle" font-weight="normal" fill="#262626" stroke="#262626" stroke-width="0.22" textLength="18.13" lengthAdjust="spacingAndGlyphs" >195</text>
<line x1="291.80" y1="129.90" x2="291.80" y2="134.40" stroke="#111" stroke-width="1.1" />
<text x="291.80" y="144.30" font-size="10.64" text-anchor="middle" font-weight="normal" fill="#262626" stroke="#262626" stroke-width="0.22" textLength="18.13" lengthAdjust="spacingAndGlyphs" >200</text>
<line x1="324.60" y1="129.90" x2="324.60" y2="134.40" stroke="#111" stroke-width="1.1" />
<text x="324.60" y="144.30" font-size="10.64" text-anchor="middle" font-weight="normal" fill="#262626" stroke="#262626" stroke-width="0.22" textLength="18.13" lengthAdjust="spacingAndGlyphs" >205</text>
<line x1="357.40" y1="129.90" x2="357.40" y2="134.40" stroke="#111" stroke-width="1.1" />
<text x="357.40" y="144.30" font-size="10.64" text-anchor="middle" font-weight="normal" fill="#262626" stroke="#262626" stroke-width="0.22" textLength="18.13" lengthAdjust="spacingAndGlyphs" >210</text>
<line x1="390.20" y1="129.90" x2="390.20" y2="134.40" stroke="#111" stroke-width="1.1" />
<text x="390.20" y="144.30" font-size="10.64" text-anchor="middle" font-weight="normal" fill="#262626" stroke="#262626" stroke-width="0.22" textLength="18.13" lengthAdjust="spacingAndGlyphs" >215</text>
<line x1="423.00" y1="129.90" x2="423.00" y2="134.40" stroke="#111" stroke-width="1.1" />
<text x="423.00" y="144.30" font-size="10.64" text-anchor="middle" font-weight="normal" fill="#262626" stroke="#262626" stroke-width="0.22" textLength="18.13" lengthAdjust="spacingAndGlyphs" >220</text>
<line x1="422.40" y1="110.02" x2="427.20" y2="110.02" stroke="#111" stroke-width="1.1" />
<text x="428.60" y="113.62" font-size="10.64" text-anchor="start" font-weight="normal" fill="#262626" stroke="#262626" stroke-width="0.22" textLength="12.09" lengthAdjust="spacingAndGlyphs" >20</text>
<line x1="422.40" y1="76.86" x2="427.20" y2="76.86" stroke="#111" stroke-width="1.1" />
<text x="428.60" y="80.46" font-size="10.64" text-anchor="start" font-weight="normal" fill="#262626" stroke="#262626" stroke-width="0.22" textLength="12.09" lengthAdjust="spacingAndGlyphs" >40</text>
<line x1="422.40" y1="43.70" x2="427.20" y2="43.70" stroke="#111" stroke-width="1.1" />
<text x="428.60" y="47.30" font-size="10.64" text-anchor="start" font-weight="normal" fill="#262626" stroke="#262626" stroke-width="0.22" textLength="12.09" lengthAdjust="spacingAndGlyphs" >60</text>
<text x="341.00" y="156.30" font-size="12.32" text-anchor="middle" font-weight="normal" fill="#262626" stroke="#262626" stroke-width="0.22" textLength="56.14" lengthAdjust="spacingAndGlyphs" >Residue #</text>
<text transform="translate(237.30,73.20) rotate(-90)" font-size="12.32" text-anchor="middle" font-weight="normal" fill="#34495e" stroke="#34495e" stroke-width="0.22" textLength="67.70" lengthAdjust="spacingAndGlyphs">Distance (Å)</text>
<text transform="translate(451.50,73.20) rotate(-90)" font-size="12.32" text-anchor="middle" font-weight="normal" fill="#d8d8d8" stroke="#d8d8d8" stroke-width="0.22" textLength="80.59" lengthAdjust="spacingAndGlyphs">B-factor (1I6A)</text>
<line x1="556.95" y1="8.60" x2="556.95" y2="136.80" stroke="#2a6fc0" stroke-width="1.5" stroke-dasharray="5,2.6"/>
<polygon points="535.90,14.94 537.25,14.94 538.60,14.94 539.95,14.94 541.30,14.94 542.65,14.94 544.00,14.94 545.35,14.94 546.70,14.94 548.05,14.94 549.40,14.94 550.75,14.94 552.10,14.94 553.45,14.94 554.80,14.94 556.15,14.94 557.50,14.81 558.85,14.50 560.20,15.42 561.55,17.42 562.90,20.69 564.26,23.95 565.61,25.97 566.96,26.55 568.31,27.44 569.66,27.94 571.01,28.06 572.36,28.17 573.71,28.28 575.06,28.39 576.41,28.50 577.76,28.53 579.11,28.48 580.46,28.44 581.81,28.40 583.16,28.36 584.51,28.31 585.86,28.27 587.21,28.23 588.56,28.18 589.91,28.14 591.26,28.10 592.61,28.05 593.96,28.01 595.31,27.97 596.66,27.92 598.01,27.88 599.36,27.84 600.72,27.80 602.07,27.75 603.42,27.71 604.77,27.67 606.12,27.62 607.47,27.58 608.82,27.54 610.17,27.49 611.52,27.45 612.87,27.41 614.22,27.36 615.57,27.32 616.92,27.28 618.27,27.23 619.62,27.19 620.97,27.15 622.32,27.11 623.67,27.06 625.02,27.02 626.37,26.98 627.72,26.93 629.07,26.89 630.42,26.85 631.77,26.80 633.12,26.76 634.47,26.72 635.82,26.67 637.17,26.63 638.53,26.59 639.88,26.54 641.23,26.50 642.58,26.46 643.93,26.42 645.28,26.37 646.63,26.33 647.98,26.29 649.33,26.24 650.68,26.20 652.03,26.16 653.38,26.11 654.73,26.07 656.08,26.03 657.43,25.98 658.78,25.94 660.13,25.90 661.48,25.86 662.83,25.81 664.18,25.77 665.53,25.73 666.88,25.68 668.23,25.64 669.58,25.60 670.93,25.56 670.93,33.53 669.58,33.56 668.23,33.61 666.88,33.65 665.53,33.69 664.18,33.74 662.83,33.78 661.48,33.82 660.13,33.87 658.78,33.91 657.43,33.95 656.08,34.00 654.73,34.04 653.38,34.08 652.03,34.12 650.68,34.17 649.33,34.21 647.98,34.25 646.63,34.30 645.28,34.34 643.93,34.38 642.58,34.43 641.23,34.47 639.88,34.51 638.53,34.56 637.17,34.60 635.82,34.64 634.47,34.69 633.12,34.73 631.77,34.77 630.42,34.81 629.07,34.86 627.72,34.90 626.37,34.94 625.02,34.99 623.67,35.03 622.32,35.07 620.97,35.12 619.62,35.16 618.27,35.20 616.92,35.25 615.57,35.29 614.22,35.33 612.87,35.38 611.52,35.42 610.17,35.46 608.82,35.50 607.47,35.55 606.12,35.59 604.77,35.63 603.42,35.68 602.07,35.72 600.72,35.76 599.36,35.81 598.01,35.85 596.66,35.89 595.31,35.94 593.96,35.98 592.61,36.02 591.26,36.06 589.91,36.11 588.56,36.15 587.21,36.19 585.86,36.24 584.51,36.28 583.16,36.32 581.81,36.37 580.46,36.41 579.11,36.45 577.76,36.50 576.41,36.47 575.06,36.36 573.71,36.25 572.36,36.13 571.01,36.02 569.66,35.91 568.31,35.40 566.96,34.50 565.61,33.30 564.26,30.66 562.90,26.77 561.55,22.88 560.20,20.25 558.85,18.70 557.50,18.39 556.15,18.26 554.80,18.26 553.45,18.26 552.10,18.26 550.75,18.26 549.40,18.26 548.05,18.26 546.70,18.26 545.35,18.26 544.00,18.26 542.65,18.26 541.30,18.26 539.95,18.26 538.60,18.26 537.25,18.26 535.90,18.26" fill="#e0e6e0" />
<polygon points="535.90,14.94 537.25,14.94 538.60,14.94 539.95,14.94 541.30,14.94 542.65,14.94 544.00,14.94 545.35,14.94 546.70,14.94 548.05,14.94 549.40,14.94 550.75,14.94 552.10,14.94 553.45,14.94 554.80,14.94 556.15,14.94 557.50,14.74 558.85,14.25 560.20,17.37 561.55,25.75 562.90,38.67 564.26,52.35 565.61,66.95 566.96,76.37 568.31,80.55 569.66,83.00 571.01,83.67 572.36,84.34 573.71,84.99 575.06,84.96 576.41,84.93 577.76,84.90 579.11,84.87 580.46,84.84 581.81,84.81 583.16,84.78 584.51,84.75 585.86,84.72 587.21,84.69 588.56,84.66 589.91,84.63 591.26,84.60 592.61,84.57 593.96,84.54 595.31,84.51 596.66,84.48 598.01,84.45 599.36,84.42 600.72,84.39 602.07,84.37 603.42,84.34 604.77,84.28 606.12,84.21 607.47,84.14 608.82,84.08 610.17,84.01 611.52,83.94 612.87,83.88 614.22,83.81 615.57,83.74 616.92,83.67 618.27,83.61 619.62,83.54 620.97,83.47 622.32,83.41 623.67,83.34 625.02,83.27 626.37,83.20 627.72,83.14 629.07,83.07 630.42,83.00 631.77,82.94 633.12,82.87 634.47,82.80 635.82,82.74 637.17,82.67 638.53,82.60 639.88,82.53 641.23,82.47 642.58,82.40 643.93,82.33 645.28,82.27 646.63,82.20 647.98,82.13 649.33,82.06 650.68,82.00 652.03,81.93 653.38,81.86 654.73,81.80 656.08,81.73 657.43,81.66 658.78,81.59 660.13,81.53 661.48,81.46 662.83,81.39 664.18,81.33 665.53,81.26 666.88,81.19 668.23,81.13 669.58,81.06 670.93,81.01 670.93,91.63 669.58,91.68 668.23,91.75 666.88,91.82 665.53,91.88 664.18,91.95 662.83,92.02 661.48,92.08 660.13,92.15 658.78,92.22 657.43,92.29 656.08,92.35 654.73,92.42 653.38,92.49 652.03,92.55 650.68,92.62 649.33,92.69 647.98,92.76 646.63,92.82 645.28,92.89 643.93,92.96 642.58,93.02 641.23,93.09 639.88,93.16 638.53,93.22 637.17,93.29 635.82,93.36 634.47,93.43 633.12,93.49 631.77,93.56 630.42,93.63 629.07,93.69 627.72,93.76 626.37,93.83 625.02,93.90 623.67,93.96 622.32,94.03 620.97,94.10 619.62,94.16 618.27,94.23 616.92,94.30 615.57,94.37 614.22,94.43 612.87,94.50 611.52,94.57 610.17,94.63 608.82,94.70 607.47,94.77 606.12,94.83 604.77,94.90 603.42,94.96 602.07,94.99 600.72,95.02 599.36,95.05 598.01,95.08 596.66,95.11 595.31,95.14 593.96,95.17 592.61,95.20 591.26,95.23 589.91,95.26 588.56,95.29 587.21,95.32 585.86,95.35 584.51,95.38 583.16,95.41 581.81,95.44 580.46,95.47 579.11,95.50 577.76,95.53 576.41,95.56 575.06,95.59 573.71,95.62 572.36,94.97 571.01,94.29 569.66,93.62 568.31,91.18 566.96,86.97 565.61,76.57 564.26,60.99 562.90,46.32 561.55,32.42 560.20,23.06 558.85,18.95 557.50,18.46 556.15,18.26 554.80,18.26 553.45,18.26 552.10,18.26 550.75,18.26 549.40,18.26 548.05,18.26 546.70,18.26 545.35,18.26 544.00,18.26 542.65,18.26 541.30,18.26 539.95,18.26 538.60,18.26 537.25,18.26 535.90,18.26" fill="#e0e6e0" />
<polygon points="535.90,14.94 537.25,14.94 538.60,14.94 539.95,14.94 541.30,14.94 542.65,14.94 544.00,14.94 545.35,14.94 546.70,14.94 548.05,14.94 549.40,14.94 550.75,14.94 552.10,14.94 553.45,14.94 554.80,14.94 556.15,14.94 557.50,14.56 558.85,17.80 560.20,32.63 561.55,55.17 562.90,76.21 564.26,83.17 565.61,87.91 566.96,100.68 568.31,104.21 569.66,107.57 571.01,109.60 572.36,110.34 573.71,111.08 575.06,111.81 576.41,112.55 577.76,112.99 579.11,113.19 580.46,113.39 581.81,113.60 583.16,113.80 584.51,114.00 585.86,114.20 587.21,114.40 588.56,114.60 589.91,114.80 591.26,114.87 592.61,114.87 593.96,114.87 595.31,114.87 596.66,114.87 598.01,114.87 599.36,114.87 600.72,114.87 602.07,114.87 603.42,114.87 604.77,114.87 606.12,114.87 607.47,114.87 608.82,114.87 610.17,114.87 611.52,114.75 612.87,114.60 614.22,114.45 615.57,114.30 616.92,114.15 618.27,114.00 619.62,113.85 620.97,113.69 622.32,113.54 623.67,113.39 625.02,113.24 626.37,113.09 627.72,112.94 629.07,112.79 630.42,112.64 631.77,112.49 633.12,112.34 634.47,112.19 635.82,112.03 637.17,111.88 638.53,111.79 639.88,111.70 641.23,111.60 642.58,111.51 643.93,111.41 645.28,111.32 646.63,111.23 647.98,111.13 649.33,111.04 650.68,110.95 652.03,110.85 653.38,110.76 654.73,110.66 656.08,110.57 657.43,110.48 658.78,110.38 660.13,110.29 661.48,110.19 662.83,110.10 664.18,110.01 665.53,109.91 666.88,109.82 668.23,109.72 669.58,109.63 670.93,109.56 670.93,126.82 669.58,126.89 668.23,126.99 666.88,127.08 665.53,127.18 664.18,127.27 662.83,127.36 661.48,127.46 660.13,127.55 658.78,127.65 657.43,127.74 656.08,127.83 654.73,127.93 653.38,128.02 652.03,128.12 650.68,128.21 649.33,128.30 647.98,128.40 646.63,128.49 645.28,128.58 643.93,128.68 642.58,128.77 641.23,128.87 639.88,128.96 638.53,129.05 637.17,129.15 635.82,129.30 634.47,129.45 633.12,129.60 631.77,129.75 630.42,129.90 629.07,130.05 627.72,130.20 626.37,130.36 625.02,130.51 623.67,130.66 622.32,130.81 620.97,130.96 619.62,131.11 618.27,131.26 616.92,131.41 615.57,131.56 614.22,131.71 612.87,131.86 611.52,132.01 610.17,132.14 608.82,132.14 607.47,132.14 606.12,132.14 604.77,132.14 603.42,132.14 602.07,132.14 600.72,132.14 599.36,132.14 598.01,132.14 596.66,132.14 595.31,132.14 593.96,132.14 592.61,132.14 591.26,132.14 589.91,132.07 588.56,131.87 587.21,131.66 585.86,131.46 584.51,131.26 583.16,131.06 581.81,130.86 580.46,130.66 579.11,130.46 577.76,130.26 576.41,129.82 575.06,129.08 573.71,128.34 572.36,127.60 571.01,126.86 569.66,124.83 568.31,121.48 566.96,117.91 565.61,103.26 564.26,96.64 562.90,87.80 561.55,64.88 560.20,40.47 558.85,23.76 557.50,18.64 556.15,18.26 554.80,18.26 553.45,18.26 552.10,18.26 550.75,18.26 549.40,18.26 548.05,18.26 546.70,18.26 545.35,18.26 544.00,18.26 542.65,18.26 541.30,18.26 539.95,18.26 538.60,18.26 537.25,18.26 535.90,18.26" fill="#f8c8f8" />
<polyline points="535.90,16.74 536.35,16.88 536.80,16.48 537.25,16.94 537.70,16.57 538.15,16.71 538.60,16.95 539.05,16.59 539.50,16.97 539.95,16.65 540.40,16.94 540.85,16.93 541.30,16.66 541.75,16.34 542.20,16.90 542.65,16.82 543.10,16.50 543.55,16.24 544.00,16.54 544.45,16.68 544.90,16.22 545.35,16.96 545.80,16.31 546.25,16.77 546.70,16.88 547.15,16.90 547.60,16.75 548.05,16.35 548.50,16.85 548.95,16.53 549.40,16.49 549.85,16.70 550.30,16.56 550.75,16.95 551.20,16.95 551.65,16.83 552.10,16.46 552.55,16.66 553.00,16.75 553.45,16.53 553.90,16.64 554.35,16.76 554.80,16.37 555.25,16.44 555.70,16.80 556.15,16.54 556.60,16.58 557.05,16.30 557.50,16.42 557.95,16.77 558.40,16.22 558.85,16.90 559.30,17.01 559.75,17.18 560.20,18.11 560.65,18.29 561.10,19.33 561.55,20.02 562.00,21.13 562.45,22.48 562.90,23.43 563.35,25.07 563.80,25.96 564.26,27.23 564.71,28.43 565.16,29.37 565.61,29.36 566.06,29.58 566.51,30.25 566.96,30.40 567.41,31.17 567.86,30.96 568.31,31.30 568.76,31.33 569.21,31.63 569.66,32.10 570.11,32.06 570.56,31.87 571.01,32.42 571.46,32.11 571.91,32.38 572.36,32.46 572.81,32.54 573.26,32.01 573.71,32.56 574.16,32.50 574.61,32.42 575.06,32.08 575.51,32.75 575.96,32.49 576.41,32.45 576.86,32.22 577.31,32.27 577.76,32.22 578.21,32.67 578.66,32.55 579.11,32.58 579.56,32.15 580.01,32.08 580.46,32.70 580.91,32.67 581.36,32.61 581.81,32.60 582.26,32.38 582.71,32.28 583.16,32.53 583.61,32.72 584.06,32.38 584.51,32.40 584.96,32.23 585.41,31.91 585.86,32.10 586.31,32.23 586.76,32.13 587.21,32.07 587.66,32.55 588.11,31.86 588.56,31.94 589.01,31.85 589.46,31.90 589.91,32.21 590.36,32.19 590.81,32.41 591.26,31.97 591.71,32.42 592.16,32.40 592.61,32.27 593.06,32.29 593.51,32.14 593.96,32.35 594.41,32.38 594.86,32.24 595.31,32.27 595.76,32.05 596.21,32.30 596.66,31.61 597.11,31.80 597.56,32.16 598.01,32.06 598.46,31.97 598.91,31.94 599.36,32.12 599.81,31.53 600.26,31.40 600.72,31.81 601.17,31.78 601.62,32.08 602.07,32.05 602.52,31.85 602.97,31.89 603.42,31.43 603.87,31.95 604.32,32.04 604.77,31.29 605.22,31.61 605.67,31.90 606.12,31.57 606.57,31.97 607.02,31.56 607.47,31.18 607.92,31.26 608.37,31.38 608.82,31.71 609.27,31.61 609.72,31.76 610.17,31.26 610.62,31.44 611.07,31.23 611.52,31.57 611.97,31.64 612.42,31.16 612.87,31.00 613.32,31.10 613.77,31.12 614.22,31.09 614.67,31.14 615.12,31.54 615.57,31.29 616.02,31.41 616.47,31.65 616.92,31.64 617.37,31.42 617.82,31.42 618.27,31.07 618.72,30.84 619.17,31.23 619.62,30.83 620.07,30.77 620.52,30.78 620.97,31.24 621.42,31.34 621.87,31.32 622.32,31.33 622.77,31.31 623.22,30.96 623.67,30.73 624.12,30.76 624.57,31.03 625.02,30.88 625.47,30.75 625.92,31.31 626.37,30.83 626.82,30.62 627.27,30.71 627.72,30.72 628.17,30.92 628.62,31.14 629.07,30.64 629.52,30.99 629.97,30.61 630.42,30.45 630.87,30.90 631.32,30.88 631.77,30.43 632.22,30.59 632.67,31.02 633.12,31.04 633.57,31.01 634.02,30.39 634.47,30.46 634.92,30.97 635.37,30.41 635.82,30.28 636.27,30.52 636.72,30.75 637.17,30.58 637.63,30.89 638.08,30.97 638.53,30.20 638.98,30.44 639.43,30.52 639.88,30.18 640.33,30.57 640.78,30.20 641.23,30.23 641.68,30.70 642.13,30.65 642.58,30.61 643.03,30.64 643.48,30.35 643.93,30.59 644.38,30.45 644.83,30.66 645.28,30.03 645.73,30.46 646.18,30.36 646.63,30.25 647.08,29.98 647.53,30.35 647.98,29.94 648.43,30.25 648.88,30.22 649.33,30.21 649.78,30.60 650.23,30.25 650.68,30.44 651.13,30.56 651.58,29.92 652.03,30.40 652.48,30.15 652.93,29.93 653.38,30.05 653.83,30.22 654.28,30.05 654.73,30.01 655.18,29.81 655.63,30.34 656.08,29.96 656.53,30.20 656.98,30.16 657.43,29.75 657.88,29.95 658.33,29.89 658.78,29.72 659.23,29.58 659.68,29.94 660.13,29.79 660.58,29.86 661.03,29.84 661.48,29.69 661.93,29.86 662.38,29.78 662.83,29.81 663.28,29.43 663.73,29.61 664.18,29.45 664.63,29.39 665.08,29.92 665.53,29.66 665.98,29.34 666.43,29.41 666.88,29.96 667.33,29.95 667.78,29.68 668.23,29.96 668.68,29.82 669.13,29.93 669.58,29.45 670.03,29.34 670.48,29.24 670.93,29.82" stroke="#a3aba3" stroke-width="1.3" fill="none" />
<polyline points="535.90,16.43 536.35,16.47 536.80,16.88 537.25,16.29 537.70,16.23 538.15,16.82 538.60,16.24 539.05,16.68 539.50,16.61 539.95,16.21 540.40,16.34 540.85,16.87 541.30,16.65 541.75,16.59 542.20,16.73 542.65,16.84 543.10,16.74 543.55,16.42 544.00,16.98 544.45,16.56 544.90,16.65 545.35,16.98 545.80,16.73 546.25,16.50 546.70,16.59 547.15,16.95 547.60,16.21 548.05,16.37 548.50,16.22 548.95,16.91 549.40,16.79 549.85,16.97 550.30,16.38 550.75,16.78 551.20,16.90 551.65,16.66 552.10,16.27 552.55,16.35 553.00,16.79 553.45,16.88 553.90,16.27 554.35,16.54 554.80,16.44 555.25,16.93 555.70,16.95 556.15,16.45 556.60,16.66 557.05,16.94 557.50,16.25 557.95,16.49 558.40,16.36 558.85,16.93 559.30,16.35 559.75,18.77 560.20,19.92 560.65,22.04 561.10,24.74 561.55,29.04 562.00,33.21 562.45,38.21 562.90,42.79 563.35,46.95 563.80,51.85 564.26,56.98 564.71,61.97 565.16,67.09 565.61,72.00 566.06,76.94 566.51,80.43 566.96,81.47 567.41,83.24 567.86,84.47 568.31,86.12 568.76,87.38 569.21,88.47 569.66,88.51 570.11,88.92 570.56,88.57 571.01,88.94 571.46,89.45 571.91,89.45 572.36,89.31 572.81,90.19 573.26,89.85 573.71,90.36 574.16,90.30 574.61,90.02 575.06,90.36 575.51,90.26 575.96,90.10 576.41,89.86 576.86,90.36 577.31,89.96 577.76,90.05 578.21,90.10 578.66,90.27 579.11,90.31 579.56,90.53 580.01,90.46 580.46,90.50 580.91,89.95 581.36,90.33 581.81,90.39 582.26,90.45 582.71,89.83 583.16,89.80 583.61,89.95 584.06,90.25 584.51,90.27 584.96,90.22 585.41,90.08 585.86,90.31 586.31,90.07 586.76,90.20 587.21,89.64 587.66,89.62 588.11,89.95 588.56,90.18 589.01,89.59 589.46,90.11 589.91,90.06 590.36,90.33 590.81,90.02 591.26,89.94 591.71,89.90 592.16,90.13 592.61,89.88 593.06,90.27 593.51,90.05 593.96,90.18 594.41,89.93 594.86,90.20 595.31,90.21 595.76,89.97 596.21,90.02 596.66,89.73 597.11,89.76 597.56,89.58 598.01,89.64 598.46,89.58 598.91,89.44 599.36,89.82 599.81,89.87 600.26,89.33 600.72,89.99 601.17,89.52 601.62,89.57 602.07,90.04 602.52,89.40 602.97,89.35 603.42,89.55 603.87,89.45 604.32,89.36 604.77,89.88 605.22,89.55 605.67,89.54 606.12,89.26 606.57,89.26 607.02,89.22 607.47,89.39 607.92,89.12 608.37,89.26 608.82,89.23 609.27,89.58 609.72,89.72 610.17,89.61 610.62,89.41 611.07,89.59 611.52,88.99 611.97,89.19 612.42,89.11 612.87,89.09 613.32,89.02 613.77,89.15 614.22,89.52 614.67,88.86 615.12,88.88 615.57,89.05 616.02,89.00 616.47,88.88 616.92,89.33 617.37,88.77 617.82,89.14 618.27,89.26 618.72,89.08 619.17,88.69 619.62,89.09 620.07,88.64 620.52,88.43 620.97,88.79 621.42,88.86 621.87,88.76 622.32,88.57 622.77,88.48 623.22,88.58 623.67,88.54 624.12,88.96 624.57,88.89 625.02,88.78 625.47,88.37 625.92,88.69 626.37,88.46 626.82,88.88 627.27,88.82 627.72,88.63 628.17,88.29 628.62,88.25 629.07,88.24 629.52,88.53 629.97,88.32 630.42,88.34 630.87,88.32 631.32,88.57 631.77,87.93 632.22,88.47 632.67,87.82 633.12,87.83 633.57,88.54 634.02,88.17 634.47,87.86 634.92,87.72 635.37,88.11 635.82,88.23 636.27,88.26 636.72,87.65 637.17,88.21 637.63,87.89 638.08,88.22 638.53,87.89 638.98,87.53 639.43,88.16 639.88,87.59 640.33,87.82 640.78,87.49 641.23,87.62 641.68,87.97 642.13,87.42 642.58,87.72 643.03,88.07 643.48,88.06 643.93,87.65 644.38,87.66 644.83,87.76 645.28,87.86 645.73,87.68 646.18,87.68 646.63,87.24 647.08,87.89 647.53,87.27 647.98,87.17 648.43,87.72 648.88,87.06 649.33,87.21 649.78,87.03 650.23,87.50 650.68,87.41 651.13,87.37 651.58,86.87 652.03,87.17 652.48,87.33 652.93,87.25 653.38,87.35 653.83,87.51 654.28,87.45 654.73,86.84 655.18,87.26 655.63,86.72 656.08,87.24 656.53,87.21 656.98,86.99 657.43,87.22 657.88,87.05 658.33,86.57 658.78,86.60 659.23,86.64 659.68,86.76 660.13,86.51 660.58,86.47 661.03,86.76 661.48,86.60 661.93,87.11 662.38,86.54 662.83,86.74 663.28,86.48 663.73,86.55 664.18,86.81 664.63,86.98 665.08,86.25 665.53,86.87 665.98,86.57 666.43,86.65 666.88,86.67 667.33,86.29 667.78,86.08 668.23,86.63 668.68,86.29 669.13,86.55 669.58,86.32 670.03,86.43 670.48,86.59 670.93,86.59" stroke="#a3aba3" stroke-width="1.3" fill="none" />
<polyline points="535.90,16.83 536.35,16.28 536.80,16.60 537.25,16.82 537.70,16.28 538.15,16.20 538.60,16.64 539.05,16.89 539.50,16.85 539.95,16.93 540.40,16.73 540.85,16.93 541.30,16.81 541.75,16.79 542.20,16.54 542.65,16.29 543.10,16.40 543.55,16.67 544.00,16.67 544.45,16.58 544.90,16.70 545.35,16.73 545.80,16.95 546.25,16.78 546.70,16.23 547.15,16.90 547.60,16.60 548.05,16.50 548.50,16.31 548.95,16.83 549.40,16.78 549.85,16.80 550.30,16.68 550.75,16.64 551.20,16.24 551.65,16.32 552.10,16.30 552.55,16.98 553.00,16.97 553.45,16.43 553.90,16.28 554.35,16.62 554.80,16.53 555.25,17.00 555.70,16.69 556.15,16.26 556.60,16.34 557.05,16.32 557.50,16.22 557.95,16.80 558.40,17.74 558.85,21.06 559.30,24.12 559.75,28.58 560.20,36.20 560.65,44.20 561.10,52.08 561.55,59.81 562.00,67.88 562.45,75.26 562.90,82.37 563.35,88.49 563.80,92.35 564.26,89.57 564.71,86.57 565.16,87.92 565.61,95.88 566.06,100.55 566.51,104.71 566.96,109.14 567.41,110.92 567.86,112.07 568.31,112.83 568.76,113.90 569.21,115.17 569.66,116.42 570.11,117.24 570.56,118.38 571.01,118.39 571.46,118.51 571.91,118.36 572.36,118.86 572.81,118.91 573.26,119.48 573.71,119.92 574.16,120.16 574.61,119.83 575.06,120.28 575.51,120.84 575.96,121.32 576.41,121.18 576.86,121.29 577.31,121.62 577.76,121.82 578.21,121.56 578.66,121.42 579.11,122.04 579.56,122.26 580.01,122.09 580.46,122.09 580.91,121.95 581.36,122.40 581.81,121.99 582.26,122.10 582.71,122.36 583.16,122.66 583.61,122.12 584.06,122.71 584.51,122.37 584.96,122.91 585.41,122.99 585.86,122.62 586.31,123.06 586.76,122.60 587.21,123.04 587.66,123.35 588.11,123.39 588.56,123.30 589.01,123.17 589.46,123.01 589.91,123.72 590.36,123.59 590.81,123.73 591.26,123.13 591.71,123.79 592.16,123.86 592.61,123.85 593.06,123.59 593.51,123.19 593.96,123.20 594.41,123.32 594.86,123.11 595.31,123.16 595.76,123.64 596.21,123.75 596.66,123.16 597.11,123.31 597.56,123.88 598.01,123.37 598.46,123.60 598.91,123.60 599.36,123.64 599.81,123.77 600.26,123.90 600.72,123.68 601.17,123.62 601.62,123.14 602.07,123.80 602.52,123.13 602.97,123.74 603.42,123.62 603.87,123.25 604.32,123.25 604.77,123.56 605.22,123.86 605.67,123.53 606.12,123.61 606.57,123.17 607.02,123.75 607.47,123.61 607.92,123.19 608.37,123.88 608.82,123.58 609.27,123.26 609.72,123.29 610.17,123.87 610.62,123.85 611.07,123.78 611.52,123.05 611.97,123.53 612.42,123.09 612.87,122.91 613.32,123.31 613.77,123.31 614.22,122.72 614.67,122.94 615.12,123.17 615.57,122.76 616.02,123.03 616.47,123.01 616.92,123.17 617.37,122.53 617.82,122.35 618.27,122.52 618.72,122.23 619.17,122.91 619.62,122.69 620.07,122.45 620.52,122.01 620.97,121.97 621.42,122.37 621.87,122.42 622.32,122.23 622.77,122.13 623.22,121.73 623.67,122.28 624.12,121.73 624.57,121.73 625.02,121.62 625.47,121.61 625.92,121.69 626.37,121.86 626.82,121.82 627.27,121.73 627.72,121.35 628.17,121.86 628.62,121.71 629.07,121.22 629.52,121.57 629.97,121.67 630.42,121.64 630.87,121.18 631.32,121.31 631.77,120.74 632.22,120.76 632.67,120.63 633.12,121.16 633.57,121.25 634.02,121.19 634.47,120.82 634.92,120.60 635.37,120.76 635.82,120.88 636.27,120.68 636.72,120.47 637.17,120.38 637.63,120.29 638.08,120.18 638.53,120.29 638.98,120.69 639.43,120.09 639.88,120.49 640.33,120.24 640.78,120.37 641.23,120.04 641.68,120.44 642.13,120.37 642.58,120.34 643.03,120.39 643.48,119.77 643.93,119.98 644.38,120.15 644.83,120.07 645.28,119.56 645.73,119.92 646.18,120.10 646.63,119.61 647.08,119.71 647.53,119.40 647.98,120.08 648.43,119.75 648.88,119.45 649.33,119.40 649.78,119.31 650.23,119.97 650.68,119.74 651.13,119.85 651.58,119.76 652.03,119.11 652.48,119.39 652.93,119.08 653.38,119.49 653.83,119.07 654.28,119.37 654.73,119.49 655.18,119.04 655.63,118.88 656.08,119.52 656.53,119.09 656.98,119.04 657.43,119.33 657.88,119.18 658.33,119.33 658.78,119.25 659.23,119.18 659.68,118.87 660.13,118.80 660.58,119.12 661.03,119.25 661.48,118.96 661.93,118.65 662.38,119.01 662.83,118.88 663.28,118.94 663.73,118.43 664.18,118.60 664.63,118.95 665.08,118.89 665.53,118.63 665.98,118.47 666.43,118.37 666.88,118.78 667.33,118.69 667.78,118.23 668.23,118.43 668.68,118.50 669.13,118.45 669.58,117.90 670.03,118.38 670.48,118.15 670.93,118.31" stroke="#ee3cee" stroke-width="1.3" fill="none" />
<line x1="530.70" y1="8.20" x2="530.70" y2="137.40" stroke="#111" stroke-width="1.25" />
<line x1="530.10" y1="136.80" x2="677.70" y2="136.80" stroke="#111" stroke-width="1.25" />
<line x1="525.70" y1="16.60" x2="530.70" y2="16.60" stroke="#111" stroke-width="1.1" />
<text x="524.30" y="20.20" font-size="10.64" text-anchor="end" font-weight="normal" fill="#262626" stroke="#262626" stroke-width="0.22" textLength="6.04" lengthAdjust="spacingAndGlyphs" >0</text>
<line x1="525.70" y1="49.80" x2="530.70" y2="49.80" stroke="#111" stroke-width="1.1" />
<text x="524.30" y="53.40" font-size="10.64" text-anchor="end" font-weight="normal" fill="#262626" stroke="#262626" stroke-width="0.22" textLength="20.05" lengthAdjust="spacingAndGlyphs" >−10</text>
<line x1="525.70" y1="83.00" x2="530.70" y2="83.00" stroke="#111" stroke-width="1.1" />
<text x="524.30" y="86.60" font-size="10.64" text-anchor="end" font-weight="normal" fill="#262626" stroke="#262626" stroke-width="0.22" textLength="20.05" lengthAdjust="spacingAndGlyphs" >−20</text>
<line x1="525.70" y1="116.20" x2="530.70" y2="116.20" stroke="#111" stroke-width="1.1" />
<text x="524.30" y="119.80" font-size="10.64" text-anchor="end" font-weight="normal" fill="#262626" stroke="#262626" stroke-width="0.22" textLength="20.05" lengthAdjust="spacingAndGlyphs" >−30</text>
<line x1="536.90" y1="136.80" x2="536.90" y2="141.30" stroke="#111" stroke-width="1.1" />
<text x="536.90" y="150.50" font-size="10.64" text-anchor="middle" font-weight="normal" fill="#262626" stroke="#262626" stroke-width="0.22" textLength="6.04" lengthAdjust="spacingAndGlyphs" >0</text>
<line x1="570.32" y1="136.80" x2="570.32" y2="141.30" stroke="#111" stroke-width="1.1" />
<text x="570.32" y="150.50" font-size="10.64" text-anchor="middle" font-weight="normal" fill="#262626" stroke="#262626" stroke-width="0.22" textLength="6.04" lengthAdjust="spacingAndGlyphs" >5</text>
<line x1="603.75" y1="136.80" x2="603.75" y2="141.30" stroke="#111" stroke-width="1.1" />
<text x="603.75" y="150.50" font-size="10.64" text-anchor="middle" font-weight="normal" fill="#262626" stroke="#262626" stroke-width="0.22" textLength="12.09" lengthAdjust="spacingAndGlyphs" >10</text>
<line x1="637.17" y1="136.80" x2="637.17" y2="141.30" stroke="#111" stroke-width="1.1" />
<text x="637.17" y="150.50" font-size="10.64" text-anchor="middle" font-weight="normal" fill="#262626" stroke="#262626" stroke-width="0.22" textLength="12.09" lengthAdjust="spacingAndGlyphs" >15</text>
<line x1="670.60" y1="136.80" x2="670.60" y2="141.30" stroke="#111" stroke-width="1.1" />
<text x="670.60" y="150.50" font-size="10.64" text-anchor="middle" font-weight="normal" fill="#262626" stroke="#262626" stroke-width="0.22" textLength="12.09" lengthAdjust="spacingAndGlyphs" >20</text>
<text x="604.10" y="166.80" font-size="12.32" text-anchor="middle" font-weight="normal" fill="#262626" stroke="#262626" stroke-width="0.22" textLength="46.21" lengthAdjust="spacingAndGlyphs" >Seconds</text>
<text transform="translate(496.90,72.90) rotate(-90)" font-size="12.32" text-anchor="middle" font-weight="normal" fill="#262626" stroke="#262626" stroke-width="0.22" textLength="49.26" lengthAdjust="spacingAndGlyphs">ΔF/Fo(%)</text>
<text x="598.30" y="33.70" font-size="10.00" text-anchor="start" font-weight="bold" fill="#1a1a1a" stroke="#1a1a1a" stroke-width="0.55" textLength="40.60" lengthAdjust="spacingAndGlyphs" >211-212</text>
<text x="598.30" y="93.00" font-size="10.00" text-anchor="start" font-weight="bold" fill="#1a1a1a" stroke="#1a1a1a" stroke-width="0.55" textLength="40.60" lengthAdjust="spacingAndGlyphs" >212-213</text>
<text x="598.30" y="126.20" font-size="10.00" text-anchor="start" font-weight="bold" fill="#1a1a1a" stroke="#1a1a1a" stroke-width="0.55" textLength="40.60" lengthAdjust="spacingAndGlyphs" >213-214</text>
<rect x="231.03" y="241.36" width="2.15" height="21.84" fill="#c8d0c8" />
<line x1="232.10" y1="238.11" x2="232.10" y2="244.61" stroke="#555a55" stroke-width="1.1" />
<rect x="234.43" y="258.88" width="2.15" height="4.32" fill="#c8d0c8" />
<line x1="235.50" y1="257.79" x2="235.50" y2="259.96" stroke="#555a55" stroke-width="1.1" />
<rect x="237.83" y="260.19" width="2.15" height="3.01" fill="#c8d0c8" />
<line x1="238.90" y1="259.26" x2="238.90" y2="261.11" stroke="#555a55" stroke-width="1.1" />
<rect x="241.23" y="259.31" width="2.15" height="3.89" fill="#c8d0c8" />
<line x1="242.30" y1="258.28" x2="242.30" y2="260.35" stroke="#555a55" stroke-width="1.1" />
<rect x="244.63" y="251.43" width="2.15" height="11.77" fill="#c8d0c8" />
<line x1="245.70" y1="249.42" x2="245.70" y2="253.44" stroke="#555a55" stroke-width="1.1" />
<rect x="248.03" y="229.10" width="2.15" height="34.10" fill="#c8d0c8" />
<line x1="249.10" y1="224.33" x2="249.10" y2="233.87" stroke="#555a55" stroke-width="1.1" />
<rect x="251.43" y="258.88" width="2.15" height="4.32" fill="#c8d0c8" />
<line x1="252.50" y1="257.79" x2="252.50" y2="259.96" stroke="#555a55" stroke-width="1.1" />
<rect x="254.83" y="244.43" width="2.15" height="18.77" fill="#c8d0c8" />
<line x1="255.90" y1="241.55" x2="255.90" y2="247.30" stroke="#555a55" stroke-width="1.1" />
<rect x="258.23" y="259.31" width="2.15" height="3.89" fill="#c8d0c8" />
<line x1="259.30" y1="258.28" x2="259.30" y2="260.35" stroke="#555a55" stroke-width="1.1" />
<rect x="261.63" y="220.78" width="2.15" height="42.42" fill="#c8d0c8" />
<line x1="262.70" y1="214.98" x2="262.70" y2="226.58" stroke="#555a55" stroke-width="1.1" />
<rect x="265.03" y="242.67" width="2.15" height="20.53" fill="#c8d0c8" />
<line x1="266.10" y1="239.58" x2="266.10" y2="245.76" stroke="#555a55" stroke-width="1.1" />
<rect x="268.43" y="259.31" width="2.15" height="3.89" fill="#c8d0c8" />
<line x1="269.50" y1="258.28" x2="269.50" y2="260.35" stroke="#555a55" stroke-width="1.1" />
<rect x="271.83" y="250.12" width="2.15" height="13.08" fill="#c8d0c8" />
<line x1="272.90" y1="247.95" x2="272.90" y2="252.29" stroke="#555a55" stroke-width="1.1" />
<rect x="275.23" y="258.44" width="2.15" height="4.76" fill="#c8d0c8" />
<line x1="276.30" y1="257.30" x2="276.30" y2="259.58" stroke="#555a55" stroke-width="1.1" />
<rect x="278.63" y="254.06" width="2.15" height="9.14" fill="#c8d0c8" />
<line x1="279.70" y1="252.38" x2="279.70" y2="255.74" stroke="#555a55" stroke-width="1.1" />
<rect x="282.03" y="261.50" width="2.15" height="1.70" fill="#c8d0c8" />
<line x1="283.10" y1="260.74" x2="283.10" y2="262.27" stroke="#555a55" stroke-width="1.1" />
<rect x="285.43" y="262.38" width="2.15" height="0.82" fill="#c8d0c8" />
<line x1="286.50" y1="261.72" x2="286.50" y2="263.03" stroke="#555a55" stroke-width="1.1" />
<rect x="288.83" y="255.37" width="2.15" height="7.83" fill="#c8d0c8" />
<line x1="289.90" y1="253.85" x2="289.90" y2="256.89" stroke="#555a55" stroke-width="1.1" />
<rect x="292.23" y="258.88" width="2.15" height="4.32" fill="#c8d0c8" />
<line x1="293.30" y1="257.79" x2="293.30" y2="259.96" stroke="#555a55" stroke-width="1.1" />
<rect x="295.63" y="251.87" width="2.15" height="11.33" fill="#c8d0c8" />
<line x1="296.70" y1="249.92" x2="296.70" y2="253.82" stroke="#555a55" stroke-width="1.1" />
<rect x="299.03" y="256.69" width="2.15" height="6.51" fill="#c8d0c8" />
<line x1="300.10" y1="255.33" x2="300.10" y2="258.04" stroke="#555a55" stroke-width="1.1" />
<rect x="302.43" y="258.00" width="2.15" height="5.20" fill="#c8d0c8" />
<line x1="303.50" y1="256.80" x2="303.50" y2="259.20" stroke="#555a55" stroke-width="1.1" />
<rect x="305.83" y="261.50" width="2.15" height="1.70" fill="#c8d0c8" />
<line x1="306.90" y1="260.74" x2="306.90" y2="262.27" stroke="#555a55" stroke-width="1.1" />
<rect x="309.23" y="254.93" width="2.15" height="8.27" fill="#c8d0c8" />
<line x1="310.30" y1="253.36" x2="310.30" y2="256.51" stroke="#555a55" stroke-width="1.1" />
<rect x="312.63" y="258.00" width="2.15" height="5.20" fill="#c8d0c8" />
<line x1="313.70" y1="256.80" x2="313.70" y2="259.20" stroke="#555a55" stroke-width="1.1" />
<rect x="316.03" y="259.31" width="2.15" height="3.89" fill="#c8d0c8" />
<line x1="317.10" y1="258.28" x2="317.10" y2="260.35" stroke="#555a55" stroke-width="1.1" />
<rect x="319.43" y="248.37" width="2.15" height="14.83" fill="#c8d0c8" />
<line x1="320.50" y1="245.98" x2="320.50" y2="250.75" stroke="#555a55" stroke-width="1.1" />
<rect x="322.83" y="241.36" width="2.15" height="21.84" fill="#c8d0c8" />
<line x1="323.90" y1="238.11" x2="323.90" y2="244.61" stroke="#555a55" stroke-width="1.1" />
<rect x="326.23" y="241.80" width="2.15" height="21.40" fill="#c8d0c8" />
<line x1="327.30" y1="238.60" x2="327.30" y2="245.00" stroke="#555a55" stroke-width="1.1" />
<rect x="329.63" y="249.24" width="2.15" height="13.96" fill="#c8d0c8" />
<line x1="330.70" y1="246.96" x2="330.70" y2="251.52" stroke="#555a55" stroke-width="1.1" />
<rect x="333.03" y="247.93" width="2.15" height="15.27" fill="#c8d0c8" />
<line x1="334.10" y1="245.49" x2="334.10" y2="250.37" stroke="#555a55" stroke-width="1.1" />
<rect x="336.43" y="251.43" width="2.15" height="11.77" fill="#c8d0c8" />
<line x1="337.50" y1="249.42" x2="337.50" y2="253.44" stroke="#555a55" stroke-width="1.1" />
<rect x="339.83" y="255.37" width="2.15" height="7.83" fill="#c8d0c8" />
<line x1="340.90" y1="253.85" x2="340.90" y2="256.89" stroke="#555a55" stroke-width="1.1" />
<rect x="343.23" y="237.86" width="2.15" height="25.34" fill="#c8d0c8" />
<line x1="344.30" y1="234.17" x2="344.30" y2="241.54" stroke="#555a55" stroke-width="1.1" />
<rect x="346.63" y="257.56" width="2.15" height="5.64" fill="#c8d0c8" />
<line x1="347.70" y1="256.31" x2="347.70" y2="258.81" stroke="#555a55" stroke-width="1.1" />
<rect x="350.03" y="232.60" width="2.15" height="30.60" fill="#c8d0c8" />
<line x1="351.10" y1="228.27" x2="351.10" y2="236.94" stroke="#555a55" stroke-width="1.1" />
<rect x="353.43" y="209.39" width="2.15" height="53.81" fill="#c8d0c8" />
<line x1="354.50" y1="202.19" x2="354.50" y2="216.60" stroke="#555a55" stroke-width="1.1" />
<rect x="356.83" y="261.50" width="2.15" height="1.70" fill="#c8d0c8" />
<line x1="357.90" y1="260.74" x2="357.90" y2="262.27" stroke="#555a55" stroke-width="1.1" />
<rect x="360.23" y="257.12" width="2.15" height="6.08" fill="#c8d0c8" />
<line x1="361.30" y1="255.82" x2="361.30" y2="258.43" stroke="#555a55" stroke-width="1.1" />
<rect x="363.63" y="255.37" width="2.15" height="7.83" fill="#c8d0c8" />
<line x1="364.70" y1="253.85" x2="364.70" y2="256.89" stroke="#555a55" stroke-width="1.1" />
<rect x="367.03" y="255.81" width="2.15" height="7.39" fill="#c8d0c8" />
<line x1="368.10" y1="254.34" x2="368.10" y2="257.28" stroke="#555a55" stroke-width="1.1" />
<rect x="370.43" y="257.12" width="2.15" height="6.08" fill="#c8d0c8" />
<line x1="371.50" y1="255.82" x2="371.50" y2="258.43" stroke="#555a55" stroke-width="1.1" />
<rect x="373.83" y="247.05" width="2.15" height="16.15" fill="#c8d0c8" />
<line x1="374.90" y1="244.50" x2="374.90" y2="249.60" stroke="#555a55" stroke-width="1.1" />
<rect x="377.23" y="254.93" width="2.15" height="8.27" fill="#c8d0c8" />
<line x1="378.30" y1="253.36" x2="378.30" y2="256.51" stroke="#555a55" stroke-width="1.1" />
<rect x="380.63" y="255.37" width="2.15" height="7.83" fill="#c8d0c8" />
<line x1="381.70" y1="253.85" x2="381.70" y2="256.89" stroke="#555a55" stroke-width="1.1" />
<rect x="384.03" y="253.62" width="2.15" height="9.58" fill="#c8d0c8" />
<line x1="385.10" y1="251.88" x2="385.10" y2="255.36" stroke="#555a55" stroke-width="1.1" />
<rect x="387.43" y="226.03" width="2.15" height="37.17" fill="#c8d0c8" />
<line x1="388.50" y1="220.89" x2="388.50" y2="231.18" stroke="#555a55" stroke-width="1.1" />
<rect x="390.83" y="253.62" width="2.15" height="9.58" fill="#c8d0c8" />
<line x1="391.90" y1="251.88" x2="391.90" y2="255.36" stroke="#555a55" stroke-width="1.1" />
<rect x="394.23" y="252.74" width="2.15" height="10.46" fill="#c8d0c8" />
<line x1="395.30" y1="250.90" x2="395.30" y2="254.59" stroke="#555a55" stroke-width="1.1" />
<rect x="397.63" y="252.31" width="2.15" height="10.89" fill="#c8d0c8" />
<line x1="398.70" y1="250.41" x2="398.70" y2="254.21" stroke="#555a55" stroke-width="1.1" />
<rect x="401.03" y="242.67" width="2.15" height="20.53" fill="#c8d0c8" />
<line x1="402.10" y1="239.58" x2="402.10" y2="245.76" stroke="#555a55" stroke-width="1.1" />
<rect x="404.43" y="230.85" width="2.15" height="32.35" fill="#c8d0c8" />
<line x1="405.50" y1="226.30" x2="405.50" y2="235.40" stroke="#555a55" stroke-width="1.1" />
<rect x="407.83" y="254.93" width="2.15" height="8.27" fill="#c8d0c8" />
<line x1="408.90" y1="253.36" x2="408.90" y2="256.51" stroke="#555a55" stroke-width="1.1" />
<rect x="411.23" y="235.23" width="2.15" height="27.97" fill="#c8d0c8" />
<line x1="412.30" y1="231.22" x2="412.30" y2="239.24" stroke="#555a55" stroke-width="1.1" />
<rect x="414.63" y="250.12" width="2.15" height="13.08" fill="#c8d0c8" />
<line x1="415.70" y1="247.95" x2="415.70" y2="252.29" stroke="#555a55" stroke-width="1.1" />
<rect x="418.03" y="236.54" width="2.15" height="26.66" fill="#c8d0c8" />
<line x1="419.10" y1="232.70" x2="419.10" y2="240.39" stroke="#555a55" stroke-width="1.1" />
<rect x="421.43" y="233.48" width="2.15" height="29.72" fill="#c8d0c8" />
<line x1="422.50" y1="229.25" x2="422.50" y2="237.70" stroke="#555a55" stroke-width="1.1" />
<rect x="424.83" y="228.22" width="2.15" height="34.98" fill="#c8d0c8" />
<line x1="425.90" y1="223.35" x2="425.90" y2="233.10" stroke="#555a55" stroke-width="1.1" />
<rect x="428.23" y="228.22" width="2.15" height="34.98" fill="#c8d0c8" />
<line x1="429.30" y1="223.35" x2="429.30" y2="233.10" stroke="#555a55" stroke-width="1.1" />
<rect x="431.63" y="250.99" width="2.15" height="12.21" fill="#c8d0c8" />
<line x1="432.70" y1="248.93" x2="432.70" y2="253.05" stroke="#555a55" stroke-width="1.1" />
<rect x="435.03" y="257.56" width="2.15" height="5.64" fill="#c8d0c8" />
<line x1="436.10" y1="256.31" x2="436.10" y2="258.81" stroke="#555a55" stroke-width="1.1" />
<rect x="438.43" y="235.23" width="2.15" height="27.97" fill="#c8d0c8" />
<line x1="439.50" y1="231.22" x2="439.50" y2="239.24" stroke="#555a55" stroke-width="1.1" />
<rect x="441.83" y="234.35" width="2.15" height="28.85" fill="#c8d0c8" />
<line x1="442.90" y1="230.24" x2="442.90" y2="238.47" stroke="#555a55" stroke-width="1.1" />
<rect x="445.23" y="250.12" width="2.15" height="13.08" fill="#c8d0c8" />
<line x1="446.30" y1="247.95" x2="446.30" y2="252.29" stroke="#555a55" stroke-width="1.1" />
<rect x="448.63" y="235.23" width="2.15" height="27.97" fill="#c8d0c8" />
<line x1="449.70" y1="231.22" x2="449.70" y2="239.24" stroke="#555a55" stroke-width="1.1" />
<rect x="452.03" y="237.86" width="2.15" height="25.34" fill="#c8d0c8" />
<line x1="453.10" y1="234.17" x2="453.10" y2="241.54" stroke="#555a55" stroke-width="1.1" />
<rect x="455.43" y="251.87" width="2.15" height="11.33" fill="#c8d0c8" />
<line x1="456.50" y1="249.92" x2="456.50" y2="253.82" stroke="#555a55" stroke-width="1.1" />
<rect x="458.83" y="237.86" width="2.15" height="25.34" fill="#c8d0c8" />
<line x1="459.90" y1="234.17" x2="459.90" y2="241.54" stroke="#555a55" stroke-width="1.1" />
<rect x="462.23" y="223.41" width="2.15" height="39.79" fill="#c8d0c8" />
<line x1="463.30" y1="217.94" x2="463.30" y2="228.88" stroke="#555a55" stroke-width="1.1" />
<rect x="465.63" y="229.54" width="2.15" height="33.66" fill="#c8d0c8" />
<line x1="466.70" y1="224.82" x2="466.70" y2="234.25" stroke="#555a55" stroke-width="1.1" />
<rect x="469.03" y="221.66" width="2.15" height="41.54" fill="#c8d0c8" />
<line x1="470.10" y1="215.97" x2="470.10" y2="227.34" stroke="#555a55" stroke-width="1.1" />
<rect x="472.43" y="217.71" width="2.15" height="45.49" fill="#c8d0c8" />
<line x1="473.50" y1="211.54" x2="473.50" y2="223.89" stroke="#555a55" stroke-width="1.1" />
<rect x="475.83" y="216.40" width="2.15" height="46.80" fill="#c8d0c8" />
<line x1="476.90" y1="210.06" x2="476.90" y2="222.74" stroke="#555a55" stroke-width="1.1" />
<rect x="479.23" y="211.58" width="2.15" height="51.62" fill="#c8d0c8" />
<line x1="480.30" y1="204.65" x2="480.30" y2="218.52" stroke="#555a55" stroke-width="1.1" />
<rect x="482.63" y="224.72" width="2.15" height="38.48" fill="#c8d0c8" />
<line x1="483.70" y1="219.41" x2="483.70" y2="230.03" stroke="#555a55" stroke-width="1.1" />
<line x1="227.00" y1="258.30" x2="489.00" y2="258.30" stroke="#444" stroke-width="1.1" stroke-dasharray="3.2,2.2"/>
<line x1="487.00" y1="237.62" x2="487.00" y2="263.20" stroke="#d030e0" stroke-width="2.2" />
<line x1="227.00" y1="198.80" x2="227.00" y2="264.20" stroke="#111" stroke-width="1.25" />
<line x1="226.40" y1="263.50" x2="489.40" y2="263.50" stroke="#111" stroke-width="1.8" />
<line x1="222.20" y1="263.20" x2="227.00" y2="263.20" stroke="#111" stroke-width="1.1" />
<text x="220.50" y="266.80" font-size="10.64" text-anchor="end" font-weight="normal" fill="#262626" stroke="#262626" stroke-width="0.22" textLength="6.04" lengthAdjust="spacingAndGlyphs" >0</text>
<line x1="222.20" y1="238.60" x2="227.00" y2="238.60" stroke="#111" stroke-width="1.1" />
<text x="220.50" y="242.20" font-size="10.64" text-anchor="end" font-weight="normal" fill="#262626" stroke="#262626" stroke-width="0.22" textLength="6.04" lengthAdjust="spacingAndGlyphs" >5</text>
<line x1="222.20" y1="214.00" x2="227.00" y2="214.00" stroke="#111" stroke-width="1.1" />
<text x="220.50" y="217.60" font-size="10.64" text-anchor="end" font-weight="normal" fill="#262626" stroke="#262626" stroke-width="0.22" textLength="12.09" lengthAdjust="spacingAndGlyphs" >10</text>
<text transform="translate(189.20,235.80) rotate(-90)" font-size="12.32" text-anchor="middle" font-weight="normal" fill="#262626" stroke="#262626" stroke-width="0.22" textLength="29.50" lengthAdjust="spacingAndGlyphs">Norm.</text>
<text transform="translate(200.50,230.90) rotate(-90)" font-size="12.32" text-anchor="middle" font-weight="normal" fill="#262626" stroke="#262626" stroke-width="0.22" textLength="58.59" lengthAdjust="spacingAndGlyphs">Brightness</text>
<rect x="227.23" y="271.80" width="2.15" height="14.20" fill="#6a6e6a" />
<rect x="230.63" y="271.80" width="2.15" height="6.90" fill="#c8d0c8" />
<line x1="231.70" y1="276.20" x2="231.70" y2="281.20" stroke="#555a55" stroke-width="1.1" />
<rect x="234.03" y="271.80" width="2.15" height="14.70" fill="#c8d0c8" />
<line x1="235.10" y1="284.00" x2="235.10" y2="289.00" stroke="#555a55" stroke-width="1.1" />
<rect x="237.43" y="271.80" width="2.15" height="17.20" fill="#c8d0c8" />
<line x1="238.50" y1="286.50" x2="238.50" y2="291.50" stroke="#555a55" stroke-width="1.1" />
<rect x="240.83" y="271.80" width="2.15" height="19.00" fill="#c8d0c8" />
<line x1="241.90" y1="288.30" x2="241.90" y2="293.30" stroke="#555a55" stroke-width="1.1" />
<rect x="244.23" y="271.80" width="2.15" height="20.20" fill="#c8d0c8" />
<line x1="245.30" y1="289.50" x2="245.30" y2="294.50" stroke="#555a55" stroke-width="1.1" />
<rect x="247.63" y="271.80" width="2.15" height="21.40" fill="#c8d0c8" />
<line x1="248.70" y1="290.70" x2="248.70" y2="295.70" stroke="#555a55" stroke-width="1.1" />
<rect x="251.03" y="271.80" width="2.15" height="24.50" fill="#c8d0c8" />
<line x1="252.10" y1="293.80" x2="252.10" y2="298.80" stroke="#555a55" stroke-width="1.1" />
<rect x="254.43" y="271.80" width="2.15" height="24.70" fill="#c8d0c8" />
<line x1="255.50" y1="294.00" x2="255.50" y2="299.00" stroke="#555a55" stroke-width="1.1" />
<rect x="257.83" y="271.80" width="2.15" height="25.10" fill="#c8d0c8" />
<line x1="258.90" y1="289.00" x2="258.90" y2="304.80" stroke="#555a55" stroke-width="1.1" />
<rect x="261.23" y="271.80" width="2.15" height="26.90" fill="#c8d0c8" />
<line x1="262.30" y1="296.20" x2="262.30" y2="301.20" stroke="#555a55" stroke-width="1.1" />
<rect x="264.63" y="271.80" width="2.15" height="25.70" fill="#c8d0c8" />
<line x1="265.70" y1="295.00" x2="265.70" y2="300.00" stroke="#555a55" stroke-width="1.1" />
<rect x="268.03" y="271.80" width="2.15" height="26.30" fill="#c8d0c8" />
<line x1="269.10" y1="295.60" x2="269.10" y2="300.60" stroke="#555a55" stroke-width="1.1" />
<rect x="271.43" y="271.80" width="2.15" height="25.70" fill="#c8d0c8" />
<line x1="272.50" y1="295.00" x2="272.50" y2="300.00" stroke="#555a55" stroke-width="1.1" />
<rect x="274.83" y="271.80" width="2.15" height="26.90" fill="#c8d0c8" />
<line x1="275.90" y1="296.20" x2="275.90" y2="301.20" stroke="#555a55" stroke-width="1.1" />
<rect x="278.23" y="271.80" width="2.15" height="27.50" fill="#c8d0c8" />
<line x1="279.30" y1="296.80" x2="279.30" y2="301.80" stroke="#555a55" stroke-width="1.1" />
<rect x="281.63" y="271.80" width="2.15" height="24.50" fill="#c8d0c8" />
<line x1="282.70" y1="293.80" x2="282.70" y2="298.80" stroke="#555a55" stroke-width="1.1" />
<rect x="285.03" y="271.80" width="2.15" height="27.60" fill="#c8d0c8" />
<line x1="286.10" y1="293.40" x2="286.10" y2="305.40" stroke="#555a55" stroke-width="1.1" />
<rect x="288.43" y="271.80" width="2.15" height="26.10" fill="#c8d0c8" />
<line x1="289.50" y1="290.40" x2="289.50" y2="305.40" stroke="#555a55" stroke-width="1.1" />
<rect x="291.83" y="271.80" width="2.15" height="29.20" fill="#c8d0c8" />
<line x1="292.90" y1="298.50" x2="292.90" y2="303.50" stroke="#555a55" stroke-width="1.1" />
<rect x="295.23" y="271.80" width="2.15" height="29.30" fill="#c8d0c8" />
<line x1="296.30" y1="298.60" x2="296.30" y2="303.60" stroke="#555a55" stroke-width="1.1" />
<rect x="298.63" y="271.80" width="2.15" height="28.60" fill="#c8d0c8" />
<line x1="299.70" y1="297.90" x2="299.70" y2="302.90" stroke="#555a55" stroke-width="1.1" />
<rect x="302.03" y="271.80" width="2.15" height="29.00" fill="#c8d0c8" />
<line x1="303.10" y1="298.30" x2="303.10" y2="303.30" stroke="#555a55" stroke-width="1.1" />
<rect x="305.43" y="271.80" width="2.15" height="30.30" fill="#c8d0c8" />
<line x1="306.50" y1="297.10" x2="306.50" y2="307.10" stroke="#555a55" stroke-width="1.1" />
<rect x="308.83" y="271.80" width="2.15" height="30.70" fill="#c8d0c8" />
<line x1="309.90" y1="300.00" x2="309.90" y2="305.00" stroke="#555a55" stroke-width="1.1" />
<rect x="312.23" y="271.80" width="2.15" height="30.70" fill="#c8d0c8" />
<line x1="313.30" y1="300.00" x2="313.30" y2="305.00" stroke="#555a55" stroke-width="1.1" />
<rect x="315.63" y="271.80" width="2.15" height="30.70" fill="#c8d0c8" />
<line x1="316.70" y1="300.00" x2="316.70" y2="305.00" stroke="#555a55" stroke-width="1.1" />
<rect x="319.03" y="271.80" width="2.15" height="30.70" fill="#c8d0c8" />
<line x1="320.10" y1="300.00" x2="320.10" y2="305.00" stroke="#555a55" stroke-width="1.1" />
<rect x="322.43" y="271.80" width="2.15" height="31.40" fill="#c8d0c8" />
<line x1="323.50" y1="300.70" x2="323.50" y2="305.70" stroke="#555a55" stroke-width="1.1" />
<rect x="325.83" y="271.80" width="2.15" height="31.40" fill="#c8d0c8" />
<line x1="326.90" y1="300.70" x2="326.90" y2="305.70" stroke="#555a55" stroke-width="1.1" />
<rect x="329.23" y="271.80" width="2.15" height="31.40" fill="#c8d0c8" />
<line x1="330.30" y1="300.70" x2="330.30" y2="305.70" stroke="#555a55" stroke-width="1.1" />
<rect x="332.63" y="271.80" width="2.15" height="31.80" fill="#c8d0c8" />
<line x1="333.70" y1="301.10" x2="333.70" y2="306.10" stroke="#555a55" stroke-width="1.1" />
<rect x="336.03" y="271.80" width="2.15" height="31.80" fill="#c8d0c8" />
<line x1="337.10" y1="301.10" x2="337.10" y2="306.10" stroke="#555a55" stroke-width="1.1" />
<rect x="339.43" y="271.80" width="2.15" height="32.80" fill="#c8d0c8" />
<line x1="340.50" y1="302.10" x2="340.50" y2="307.10" stroke="#555a55" stroke-width="1.1" />
<rect x="342.83" y="271.80" width="2.15" height="32.80" fill="#c8d0c8" />
<line x1="343.90" y1="302.10" x2="343.90" y2="307.10" stroke="#555a55" stroke-width="1.1" />
<rect x="346.23" y="271.80" width="2.15" height="32.80" fill="#c8d0c8" />
<line x1="347.30" y1="302.10" x2="347.30" y2="307.10" stroke="#555a55" stroke-width="1.1" />
<rect x="349.63" y="271.80" width="2.15" height="32.70" fill="#c8d0c8" />
<line x1="350.70" y1="300.00" x2="350.70" y2="309.00" stroke="#555a55" stroke-width="1.1" />
<rect x="353.03" y="271.80" width="2.15" height="33.30" fill="#c8d0c8" />
<line x1="354.10" y1="302.60" x2="354.10" y2="307.60" stroke="#555a55" stroke-width="1.1" />
<rect x="356.43" y="271.80" width="2.15" height="33.30" fill="#c8d0c8" />
<line x1="357.50" y1="302.60" x2="357.50" y2="307.60" stroke="#555a55" stroke-width="1.1" />
<rect x="359.83" y="271.80" width="2.15" height="33.60" fill="#c8d0c8" />
<line x1="360.90" y1="302.90" x2="360.90" y2="307.90" stroke="#555a55" stroke-width="1.1" />
<rect x="363.23" y="271.80" width="2.15" height="33.60" fill="#c8d0c8" />
<line x1="364.30" y1="302.90" x2="364.30" y2="307.90" stroke="#555a55" stroke-width="1.1" />
<rect x="366.63" y="271.80" width="2.15" height="35.00" fill="#c8d0c8" />
<line x1="367.70" y1="304.30" x2="367.70" y2="309.30" stroke="#555a55" stroke-width="1.1" />
<rect x="370.03" y="271.80" width="2.15" height="33.80" fill="#c8d0c8" />
<line x1="371.10" y1="303.10" x2="371.10" y2="308.10" stroke="#555a55" stroke-width="1.1" />
<rect x="373.43" y="271.80" width="2.15" height="34.20" fill="#c8d0c8" />
<line x1="374.50" y1="303.50" x2="374.50" y2="308.50" stroke="#555a55" stroke-width="1.1" />
<rect x="376.83" y="271.80" width="2.15" height="35.00" fill="#c8d0c8" />
<line x1="377.90" y1="304.30" x2="377.90" y2="309.30" stroke="#555a55" stroke-width="1.1" />
<rect x="380.23" y="271.80" width="2.15" height="35.30" fill="#c8d0c8" />
<line x1="381.30" y1="304.60" x2="381.30" y2="309.60" stroke="#555a55" stroke-width="1.1" />
<rect x="383.63" y="271.80" width="2.15" height="35.30" fill="#c8d0c8" />
<line x1="384.70" y1="304.60" x2="384.70" y2="309.60" stroke="#555a55" stroke-width="1.1" />
<rect x="387.03" y="271.80" width="2.15" height="34.30" fill="#c8d0c8" />
<line x1="388.10" y1="303.60" x2="388.10" y2="308.60" stroke="#555a55" stroke-width="1.1" />
<rect x="390.43" y="271.80" width="2.15" height="35.32" fill="#c8d0c8" />
<line x1="391.50" y1="304.62" x2="391.50" y2="309.62" stroke="#555a55" stroke-width="1.1" />
<rect x="393.83" y="271.80" width="2.15" height="36.20" fill="#c8d0c8" />
<line x1="394.90" y1="305.50" x2="394.90" y2="310.50" stroke="#555a55" stroke-width="1.1" />
<rect x="397.23" y="271.80" width="2.15" height="36.57" fill="#c8d0c8" />
<line x1="398.30" y1="305.87" x2="398.30" y2="310.87" stroke="#555a55" stroke-width="1.1" />
<rect x="400.63" y="271.80" width="2.15" height="35.71" fill="#c8d0c8" />
<line x1="401.70" y1="305.01" x2="401.70" y2="310.01" stroke="#555a55" stroke-width="1.1" />
<rect x="404.03" y="271.80" width="2.15" height="35.60" fill="#c8d0c8" />
<line x1="405.10" y1="304.90" x2="405.10" y2="309.90" stroke="#555a55" stroke-width="1.1" />
<rect x="407.43" y="271.80" width="2.15" height="36.61" fill="#c8d0c8" />
<line x1="408.50" y1="305.91" x2="408.50" y2="310.91" stroke="#555a55" stroke-width="1.1" />
<rect x="410.83" y="271.80" width="2.15" height="35.93" fill="#c8d0c8" />
<line x1="411.90" y1="305.23" x2="411.90" y2="310.23" stroke="#555a55" stroke-width="1.1" />
<rect x="414.23" y="271.80" width="2.15" height="35.77" fill="#c8d0c8" />
<line x1="415.30" y1="305.07" x2="415.30" y2="310.07" stroke="#555a55" stroke-width="1.1" />
<rect x="417.63" y="271.80" width="2.15" height="37.36" fill="#c8d0c8" />
<line x1="418.70" y1="306.66" x2="418.70" y2="311.66" stroke="#555a55" stroke-width="1.1" />
<rect x="421.03" y="271.80" width="2.15" height="36.75" fill="#c8d0c8" />
<line x1="422.10" y1="306.05" x2="422.10" y2="311.05" stroke="#555a55" stroke-width="1.1" />
<rect x="424.43" y="271.80" width="2.15" height="37.54" fill="#c8d0c8" />
<line x1="425.50" y1="306.84" x2="425.50" y2="311.84" stroke="#555a55" stroke-width="1.1" />
<rect x="427.83" y="271.80" width="2.15" height="37.04" fill="#c8d0c8" />
<line x1="428.90" y1="306.34" x2="428.90" y2="311.34" stroke="#555a55" stroke-width="1.1" />
<rect x="431.23" y="271.80" width="2.15" height="37.96" fill="#c8d0c8" />
<line x1="432.30" y1="307.26" x2="432.30" y2="312.26" stroke="#555a55" stroke-width="1.1" />
<rect x="434.63" y="271.80" width="2.15" height="37.44" fill="#c8d0c8" />
<line x1="435.70" y1="306.74" x2="435.70" y2="311.74" stroke="#555a55" stroke-width="1.1" />
<rect x="438.03" y="271.80" width="2.15" height="37.12" fill="#c8d0c8" />
<line x1="439.10" y1="306.42" x2="439.10" y2="311.42" stroke="#555a55" stroke-width="1.1" />
<rect x="441.43" y="271.80" width="2.15" height="37.04" fill="#c8d0c8" />
<line x1="442.50" y1="306.34" x2="442.50" y2="311.34" stroke="#555a55" stroke-width="1.1" />
<rect x="444.83" y="271.80" width="2.15" height="38.05" fill="#c8d0c8" />
<line x1="445.90" y1="307.35" x2="445.90" y2="312.35" stroke="#555a55" stroke-width="1.1" />
<rect x="448.23" y="271.80" width="2.15" height="38.35" fill="#c8d0c8" />
<line x1="449.30" y1="307.65" x2="449.30" y2="312.65" stroke="#555a55" stroke-width="1.1" />
<rect x="451.63" y="271.80" width="2.15" height="38.94" fill="#c8d0c8" />
<line x1="452.70" y1="308.24" x2="452.70" y2="313.24" stroke="#555a55" stroke-width="1.1" />
<rect x="455.03" y="271.80" width="2.15" height="37.79" fill="#c8d0c8" />
<line x1="456.10" y1="307.09" x2="456.10" y2="312.09" stroke="#555a55" stroke-width="1.1" />
<rect x="458.43" y="271.80" width="2.15" height="38.80" fill="#c8d0c8" />
<line x1="459.50" y1="308.10" x2="459.50" y2="313.10" stroke="#555a55" stroke-width="1.1" />
<rect x="461.83" y="271.80" width="2.15" height="38.55" fill="#c8d0c8" />
<line x1="462.90" y1="307.85" x2="462.90" y2="312.85" stroke="#555a55" stroke-width="1.1" />
<rect x="465.23" y="271.80" width="2.15" height="38.92" fill="#c8d0c8" />
<line x1="466.30" y1="308.22" x2="466.30" y2="313.22" stroke="#555a55" stroke-width="1.1" />
<rect x="468.63" y="271.80" width="2.15" height="38.50" fill="#c8d0c8" />
<line x1="469.70" y1="307.80" x2="469.70" y2="312.80" stroke="#555a55" stroke-width="1.1" />
<rect x="472.03" y="271.80" width="2.15" height="38.88" fill="#c8d0c8" />
<line x1="473.10" y1="308.18" x2="473.10" y2="313.18" stroke="#555a55" stroke-width="1.1" />
<rect x="475.43" y="271.80" width="2.15" height="39.42" fill="#c8d0c8" />
<line x1="476.50" y1="308.72" x2="476.50" y2="313.72" stroke="#555a55" stroke-width="1.1" />
<rect x="478.83" y="271.80" width="2.15" height="40.22" fill="#c8d0c8" />
<line x1="479.90" y1="309.52" x2="479.90" y2="314.52" stroke="#555a55" stroke-width="1.1" />
<rect x="482.23" y="271.80" width="2.15" height="39.07" fill="#c8d0c8" />
<line x1="483.30" y1="308.37" x2="483.30" y2="313.37" stroke="#555a55" stroke-width="1.1" />
<rect x="281.63" y="271.80" width="2.15" height="27.00" fill="#7a7e7a" />
<line x1="227.00" y1="299.20" x2="489.00" y2="299.20" stroke="#444" stroke-width="1.1" stroke-dasharray="3.2,2.2"/>
<line x1="487.00" y1="271.80" x2="487.00" y2="329.40" stroke="#d030e0" stroke-width="2.2" />
<line x1="227.40" y1="270.50" x2="227.40" y2="335.00" stroke="#111" stroke-width="1.25" />
<line x1="226.80" y1="271.00" x2="489.40" y2="271.00" stroke="#111" stroke-width="1.8" />
<line x1="222.60" y1="299.00" x2="227.40" y2="299.00" stroke="#111" stroke-width="1.1" />
<text x="220.00" y="302.60" font-size="10.64" text-anchor="end" font-weight="normal" fill="#262626" stroke="#262626" stroke-width="0.22" textLength="23.07" lengthAdjust="spacingAndGlyphs" >−1.0</text>
<line x1="222.60" y1="334.40" x2="227.40" y2="334.40" stroke="#111" stroke-width="1.1" />
<text x="220.00" y="338.00" font-size="10.64" text-anchor="end" font-weight="normal" fill="#262626" stroke="#262626" stroke-width="0.22" textLength="23.07" lengthAdjust="spacingAndGlyphs" >−1.5</text>
<text transform="translate(189.00,299.90) rotate(-90)" font-size="12.32" text-anchor="middle" font-weight="normal" fill="#262626" stroke="#262626" stroke-width="0.22" textLength="65.96" lengthAdjust="spacingAndGlyphs">norm. ΔF/Fo</text>
<path d="M570.10,327.90 C573.97,327.73 587.07,327.73 593.30,326.90 C599.53,326.07 603.48,324.18 607.50,322.90 C611.52,321.62 614.98,320.68 617.40,319.20 C619.82,317.72 620.58,316.12 622.00,314.00 C623.42,311.88 624.30,308.93 625.90,306.50 C627.50,304.07 630.18,300.35 631.60,299.40 C633.02,298.45 633.22,298.20 634.40,300.80 C635.58,303.40 637.98,312.63 638.70,315.00" stroke="#a6aea6" stroke-width="1.5" fill="none" stroke-linejoin="round" />
<path d="M631.60,317.80 C632.53,317.33 635.55,314.52 637.20,315.00 C638.85,315.48 639.37,318.82 641.50,320.70 C643.63,322.58 646.08,325.12 650.00,326.30 C653.92,327.48 658.40,327.47 665.00,327.80 C671.60,328.13 685.50,328.22 689.60,328.30" stroke="#a6aea6" stroke-width="1.5" fill="none" stroke-linejoin="round" stroke-dasharray="4,2.5"/>
<path d="M570.10,327.70 C572.08,327.47 577.90,327.38 582.00,326.30 C586.10,325.22 591.40,323.32 594.70,321.20 C598.00,319.08 599.20,317.47 601.80,313.60 C604.40,309.73 607.93,301.78 610.30,298.00 C612.67,294.22 614.35,294.20 616.00,290.90 C617.65,287.60 619.03,283.15 620.20,278.20 C621.37,273.25 622.05,267.82 623.00,261.20 C623.95,254.58 625.18,243.70 625.90,238.50 C626.62,233.30 626.70,234.75 627.30,230.00 C627.90,225.25 628.88,215.30 629.50,210.00 C630.12,204.70 630.42,199.53 631.00,198.20 C631.58,196.87 632.33,197.53 633.00,202.00 C633.67,206.47 634.20,215.58 635.00,225.00 C635.80,234.42 637.33,252.92 637.80,258.50" stroke="#f03cf0" stroke-width="1.5" fill="none" stroke-linejoin="round" />
<path d="M631.00,231.90 C631.33,228.58 632.27,217.68 633.00,212.00 C633.73,206.32 634.57,199.13 635.40,197.80 C636.23,196.47 637.12,200.55 638.00,204.00 C638.88,207.45 640.12,213.33 640.70,218.50 C641.28,223.67 640.90,226.95 641.50,235.00 C642.10,243.05 643.35,256.77 644.30,266.80 C645.25,276.83 645.78,287.17 647.20,295.20 C648.62,303.23 650.45,310.75 652.80,315.00 C655.15,319.25 658.93,319.05 661.30,320.70 C663.67,322.35 664.72,323.85 667.00,324.90 C669.28,325.95 671.23,326.50 675.00,327.00 C678.77,327.50 687.17,327.75 689.60,327.90" stroke="#f03cf0" stroke-width="1.5" fill="none" stroke-linejoin="round" stroke-dasharray="4,2.5"/>
<line x1="565.00" y1="190.50" x2="565.00" y2="334.80" stroke="#111" stroke-width="1.25" />
<line x1="564.40" y1="334.20" x2="696.00" y2="334.20" stroke="#111" stroke-width="1.25" />
<line x1="560.00" y1="328.20" x2="565.00" y2="328.20" stroke="#111" stroke-width="1.1" />
<text x="558.40" y="331.70" font-size="10.64" text-anchor="end" font-weight="normal" fill="#262626" stroke="#262626" stroke-width="0.22" textLength="15.11" lengthAdjust="spacingAndGlyphs" >0.0</text>
<line x1="560.00" y1="301.98" x2="565.00" y2="301.98" stroke="#111" stroke-width="1.1" />
<text x="558.40" y="305.48" font-size="10.64" text-anchor="end" font-weight="normal" fill="#262626" stroke="#262626" stroke-width="0.22" textLength="15.11" lengthAdjust="spacingAndGlyphs" >0.2</text>
<line x1="560.00" y1="275.76" x2="565.00" y2="275.76" stroke="#111" stroke-width="1.1" />
<text x="558.40" y="279.26" font-size="10.64" text-anchor="end" font-weight="normal" fill="#262626" stroke="#262626" stroke-width="0.22" textLength="15.11" lengthAdjust="spacingAndGlyphs" >0.4</text>
<line x1="560.00" y1="249.54" x2="565.00" y2="249.54" stroke="#111" stroke-width="1.1" />
<text x="558.40" y="253.04" font-size="10.64" text-anchor="end" font-weight="normal" fill="#262626" stroke="#262626" stroke-width="0.22" textLength="15.11" lengthAdjust="spacingAndGlyphs" >0.6</text>
<line x1="560.00" y1="223.32" x2="565.00" y2="223.32" stroke="#111" stroke-width="1.1" />
<text x="558.40" y="226.82" font-size="10.64" text-anchor="end" font-weight="normal" fill="#262626" stroke="#262626" stroke-width="0.22" textLength="15.11" lengthAdjust="spacingAndGlyphs" >0.8</text>
<line x1="560.00" y1="197.10" x2="565.00" y2="197.10" stroke="#111" stroke-width="1.1" />
<text x="558.40" y="200.60" font-size="10.64" text-anchor="end" font-weight="normal" fill="#262626" stroke="#262626" stroke-width="0.22" textLength="15.11" lengthAdjust="spacingAndGlyphs" >1.0</text>
<line x1="570.40" y1="334.20" x2="570.40" y2="338.70" stroke="#111" stroke-width="1.1" />
<text x="570.40" y="348.60" font-size="10.64" text-anchor="middle" font-weight="normal" fill="#262626" stroke="#262626" stroke-width="0.22" textLength="18.13" lengthAdjust="spacingAndGlyphs" >500</text>
<line x1="613.90" y1="334.20" x2="613.90" y2="338.70" stroke="#111" stroke-width="1.1" />
<text x="613.90" y="348.60" font-size="10.64" text-anchor="middle" font-weight="normal" fill="#262626" stroke="#262626" stroke-width="0.22" textLength="18.13" lengthAdjust="spacingAndGlyphs" >600</text>
<line x1="657.40" y1="334.20" x2="657.40" y2="338.70" stroke="#111" stroke-width="1.1" />
<text x="657.40" y="348.60" font-size="10.64" text-anchor="middle" font-weight="normal" fill="#262626" stroke="#262626" stroke-width="0.22" textLength="18.13" lengthAdjust="spacingAndGlyphs" >700</text>
<text x="630.00" y="365.00" font-size="12.32" text-anchor="middle" font-weight="normal" fill="#262626" stroke="#262626" stroke-width="0.22" textLength="93.85" lengthAdjust="spacingAndGlyphs" >wavelength (nm)</text>
<text transform="translate(535.00,262.30) rotate(-90)" font-size="12.32" text-anchor="middle" font-weight="normal" fill="#262626" stroke="#262626" stroke-width="0.22" textLength="116.03" lengthAdjust="spacingAndGlyphs">normalized photon #</text>
<line x1="570.00" y1="196.20" x2="582.50" y2="196.20" stroke="#707070" stroke-width="1.5" />
<text x="585.20" y="198.80" font-size="7.40" text-anchor="start" font-weight="normal" fill="#262626" stroke="#262626" stroke-width="0.22" textLength="25.00" lengthAdjust="spacingAndGlyphs" >+ H₂O₂</text>
<line x1="570.00" y1="205.10" x2="582.50" y2="205.10" stroke="#f03cf0" stroke-width="1.5" />
<text x="585.20" y="207.60" font-size="7.40" text-anchor="start" font-weight="normal" fill="#262626" stroke="#262626" stroke-width="0.22" textLength="25.50" lengthAdjust="spacingAndGlyphs" >Resting</text>
</svg></body></html>
